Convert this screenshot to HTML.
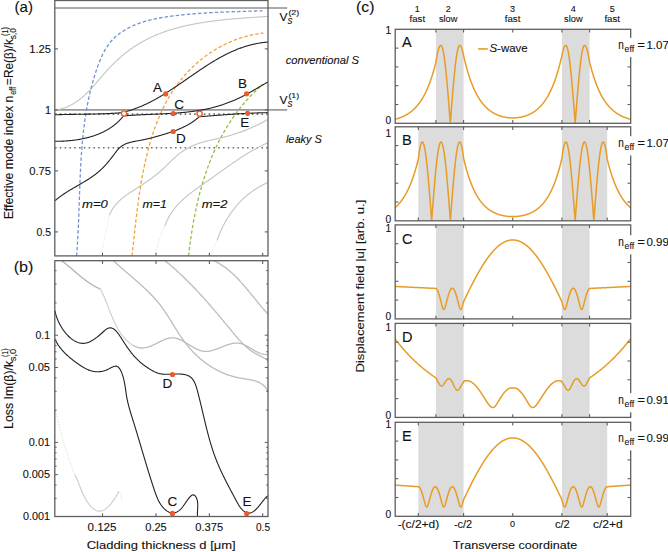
<!DOCTYPE html><html><head><meta charset="utf-8"><style>html,body{margin:0;padding:0;background:#fff;}svg{display:block;font-family:"Liberation Sans",sans-serif;}</style></head><body><svg width="668" height="552" viewBox="0 0 668 552"><rect width="668" height="552" fill="#fff"/><line x1="54.8" y1="7.9" x2="287.2" y2="7.9" stroke="#8e8e8e" stroke-width="1.5" />
<line x1="54.8" y1="109.9" x2="287.2" y2="109.9" stroke="#9a9a9a" stroke-width="1.6" />
<line x1="55" y1="114.1" x2="268" y2="114.1" stroke="#707070" stroke-width="1.6" stroke-dasharray="1.6 3.2" />
<line x1="55" y1="147.7" x2="268" y2="147.7" stroke="#707070" stroke-width="1.6" stroke-dasharray="1.6 3.2" />
<path d="M54.8 110 L55.57 110.03 L56.33 109.91 L57.08 109.78 L57.82 109.64 L58.55 109.49 L59.27 109.34 L59.99 109.17 L60.7 108.99 L61.41 108.8 L62.1 108.61 L62.79 108.4 L63.48 108.18 L64.15 107.96 L64.82 107.73 L65.49 107.48 L66.14 107.23 L66.79 106.97 L67.44 106.7 L68.08 106.43 L68.71 106.14 L69.34 105.85 L69.96 105.55 L70.57 105.24 L71.18 104.93 L71.79 104.6 L72.39 104.27 L72.98 103.93 L73.57 103.59 L74.15 103.24 L74.73 102.88 L75.3 102.51 L75.87 102.14 L76.44 101.76 L77 101.38 L77.55 100.98 L78.1 100.59 L78.65 100.18 L79.19 99.77 L79.73 99.36 L80.27 98.94 L80.8 98.51 L81.32 98.08 L81.85 97.64 L82.37 97.2 L82.88 96.75 L83.4 96.3 L83.91 95.85 L84.41 95.39 L84.92 94.92 L85.42 94.45 L85.92 93.98 L86.41 93.5 L86.9 93.02 L87.39 92.53 L87.88 92.04 L88.37 91.55 L88.85 91.06 L89.33 90.56 L89.81 90.05 L90.29 89.55 L90.76 89.04 L91.24 88.53 L91.71 88.02 L92.18 87.5 L92.65 86.98 L93.12 86.46 L93.58 85.94 L94.05 85.42 L94.51 84.89 L94.97 84.36 L95.44 83.83 L95.9 83.3 L96.36 82.77 L96.82 82.24 L97.28 81.7 L97.74 81.17 L98.2 80.63 L98.66 80.1 L99.12 79.56 L99.58 79.02 L100.04 78.48 L100.5 77.95 L100.96 77.41 L101.42 76.87 L101.88 76.33 L102.35 75.79 L102.81 75.26 L103.27 74.72 L103.74 74.19 L104.2 73.65 L104.67 73.12 L105.14 72.59 L105.61 72.06 L106.08 71.53 L106.55 71 L107.03 70.47 L107.51 69.95 L107.98 69.43 L108.46 68.91 L108.95 68.39 L109.43 67.87 L109.92 67.36 L110.41 66.85 L110.9 66.34 L111.39 65.83 L111.89 65.33 L112.38 64.83 L112.88 64.33 L113.38 63.83 L113.89 63.33 L114.39 62.84 L114.9 62.35 L115.41 61.86 L115.92 61.38 L116.43 60.9 L116.95 60.42 L117.47 59.94 L117.99 59.46 L118.51 58.99 L119.03 58.52 L119.56 58.06 L120.09 57.59 L120.62 57.13 L121.15 56.67 L121.68 56.22 L122.22 55.76 L122.76 55.31 L123.3 54.86 L123.84 54.42 L124.38 53.98 L124.93 53.54 L125.47 53.1 L126.02 52.67 L126.58 52.24 L127.13 51.81 L127.69 51.39 L128.24 50.97 L128.8 50.55 L129.36 50.13 L129.93 49.72 L130.49 49.31 L131.06 48.91 L131.63 48.5 L132.2 48.1 L132.77 47.71 L133.35 47.32 L133.93 46.93 L134.51 46.54 L135.09 46.16 L135.67 45.78 L136.26 45.4 L136.84 45.03 L137.43 44.66 L138.02 44.29 L138.62 43.93 L139.21 43.57 L139.81 43.21 L140.41 42.86 L141.01 42.51 L141.61 42.16 L142.21 41.82 L142.82 41.48 L143.43 41.15 L144.04 40.81 L144.65 40.49 L145.26 40.16 L145.88 39.84 L146.49 39.52 L147.11 39.2 L147.73 38.89 L148.35 38.58 L148.98 38.28 L149.6 37.98 L150.23 37.68 L150.86 37.38 L151.49 37.09 L152.12 36.8 L152.75 36.51 L153.39 36.23 L154.02 35.95 L154.66 35.67 L155.3 35.39 L155.94 35.12 L156.58 34.85 L157.23 34.59 L157.87 34.32 L158.52 34.06 L159.17 33.81 L159.82 33.55 L160.47 33.3 L161.12 33.05 L161.78 32.81 L162.43 32.57 L163.09 32.33 L163.75 32.09 L164.41 31.85 L165.07 31.62 L165.73 31.39 L166.39 31.17 L167.05 30.94 L167.72 30.72 L168.39 30.5 L169.05 30.29 L169.72 30.08 L170.39 29.87 L171.06 29.66 L171.73 29.45 L172.41 29.25 L173.08 29.05 L173.76 28.85 L174.43 28.65 L175.11 28.46 L175.79 28.27 L176.47 28.08 L177.15 27.9 L177.83 27.71 L178.51 27.53 L179.2 27.35 L179.88 27.18 L180.56 27 L181.25 26.83 L181.94 26.66 L182.62 26.49 L183.31 26.33 L184 26.16 L184.69 26 L185.38 25.84 L186.07 25.68 L186.77 25.53 L187.46 25.38 L188.15 25.23 L188.85 25.08 L189.54 24.93 L190.24 24.78 L190.93 24.64 L191.63 24.5 L192.33 24.36 L193.03 24.22 L193.72 24.09 L194.42 23.96 L195.12 23.82 L195.82 23.7 L196.52 23.57 L197.23 23.44 L197.93 23.32 L198.63 23.19 L199.33 23.07 L200.04 22.95 L200.74 22.84 L201.44 22.72 L202.15 22.61 L202.85 22.49 L203.56 22.38 L204.26 22.27 L204.97 22.17 L205.67 22.06 L206.38 21.96 L207.09 21.85 L207.79 21.75 L208.5 21.65 L209.21 21.55 L209.91 21.46 L210.62 21.36 L211.33 21.27 L212.03 21.17 L212.74 21.08 L213.45 20.99 L214.16 20.9 L214.87 20.81 L215.57 20.73 L216.28 20.64 L216.99 20.56 L217.7 20.47 L218.41 20.39 L219.12 20.31 L219.82 20.23 L220.53 20.15 L221.24 20.08 L221.95 20 L222.65 19.93 L223.36 19.85 L224.07 19.78 L224.78 19.71 L225.48 19.64 L226.19 19.57 L226.9 19.5 L227.6 19.43 L228.31 19.36 L229.02 19.3 L229.72 19.23 L230.43 19.17 L231.13 19.1 L231.84 19.04 L232.54 18.98 L233.25 18.92 L233.95 18.86 L234.65 18.8 L235.36 18.74 L236.06 18.68 L236.76 18.62 L237.46 18.57 L238.16 18.51 L238.86 18.46 L239.56 18.4 L240.26 18.35 L240.96 18.29 L241.66 18.24 L242.36 18.19 L243.06 18.13 L243.75 18.08 L244.45 18.03 L245.14 17.98 L245.84 17.93 L246.53 17.88 L247.23 17.83 L247.92 17.78 L248.61 17.73 L249.3 17.68 L249.99 17.63 L250.68 17.58 L251.37 17.54 L252.06 17.49 L252.75 17.44 L253.43 17.39 L254.12 17.35 L254.8 17.3 L255.49 17.25 L256.17 17.21 L256.85 17.16 L257.53 17.11 L258.21 17.07 L258.89 17.02 L259.57 16.97 L260.25 16.93 L260.92 16.88 L261.6 16.83 L262.27 16.79 L262.94 16.74 L263.62 16.69 L264.29 16.65 L264.96 16.6 L265.62 16.55 L266.29 16.51 L266.96 16.46 L268 16.7" fill="none" stroke="#c6c6c6" stroke-width="1.15" stroke-linejoin="round" />
<path d="M100.6 255.9 L100.76 255.2 L100.93 254.49 L101.09 253.79 L101.25 253.09 L101.41 252.38 L101.57 251.68 L101.73 250.98 L101.89 250.27 L102.05 249.57 L102.21 248.86 L102.36 248.16 L102.52 247.46 L102.68 246.75 L102.83 246.05 L102.99 245.34 L103.14 244.64 L103.3 243.93 L103.45 243.23 L103.6 242.52 L103.76 241.82 L103.91 241.11 L104.06 240.41 L104.22 239.7 L104.37 238.99 L104.52 238.29 L104.67 237.58 L104.82 236.88 L104.97 236.17 L105.12 235.47 L105.27 234.76 L105.43 234.05 L105.58 233.35 L105.73 232.64 L105.88 231.94 L106.03 231.23 L106.18 230.53 L106.33 229.82 L106.48 229.11 L106.63 228.41 L106.78 227.7 L106.93 227 L107.08 226.29 L107.23 225.58 L107.38 224.88 L107.53 224.17 L107.68 223.47 L107.83 222.76 L107.98 222.05 L108.13 221.35 L108.28 220.64 L108.43 219.94 L108.58 219.23 L108.74 218.53 L108.89 217.82 L109.04 217.12 L109.19 216.41 L109.35 215.71 L109.5 215" fill="none" stroke="#d4d4d4" stroke-width="0.9" stroke-dasharray="0.9 1.8" stroke-linejoin="round" />
<path d="M109.5 215 L109.73 214.4 L110.03 213.72 L110.33 213.04 L110.65 212.38 L110.98 211.72 L111.32 211.08 L111.67 210.45 L112.04 209.83 L112.41 209.21 L112.79 208.61 L113.18 208.02 L113.58 207.44 L113.99 206.86 L114.41 206.3 L114.84 205.75 L115.27 205.2 L115.72 204.66 L116.17 204.13 L116.63 203.61 L117.1 203.09 L117.58 202.59 L118.06 202.09 L118.55 201.6 L119.05 201.11 L119.55 200.63 L120.06 200.16 L120.57 199.7 L121.09 199.24 L121.62 198.79 L122.15 198.34 L122.69 197.9 L123.23 197.46 L123.78 197.03 L124.33 196.6 L124.88 196.18 L125.44 195.77 L126.01 195.35 L126.58 194.94 L127.15 194.54 L127.72 194.14 L128.3 193.74 L128.88 193.34 L129.46 192.95 L130.04 192.56 L130.63 192.17 L131.22 191.79 L131.81 191.41 L132.4 191.02 L133 190.64 L133.59 190.27 L134.19 189.89 L134.79 189.51 L135.39 189.14 L135.98 188.76 L136.58 188.38 L137.18 188.01 L137.78 187.63 L138.38 187.26 L138.97 186.88 L139.57 186.5 L140.16 186.12 L140.76 185.74 L141.35 185.36 L141.94 184.98 L142.53 184.59 L143.12 184.2 L143.71 183.82 L144.29 183.43 L144.87 183.03 L145.46 182.64 L146.04 182.24 L146.62 181.85 L147.19 181.45 L147.77 181.05 L148.34 180.64 L148.92 180.24 L149.49 179.83 L150.06 179.42 L150.62 179.01 L151.19 178.59 L151.75 178.17 L152.31 177.76 L152.87 177.33 L153.43 176.91 L153.99 176.48 L154.54 176.05 L155.1 175.62 L155.65 175.19 L156.2 174.75 L156.74 174.31 L157.29 173.87 L157.83 173.43 L158.37 172.98 L158.91 172.53 L159.44 172.07 L159.98 171.62 L160.51 171.16 L161.04 170.69 L161.57 170.23 L162.09 169.76 L162.62 169.29 L163.14 168.81 L163.66 168.33 L164.17 167.85 L164.69 167.37 L165.2 166.88 L165.71 166.39 L166.22 165.89 L166.72 165.4 L167.23 164.91 L167.74 164.41 L168.24 163.91 L168.74 163.41 L169.25 162.92 L169.75 162.42 L170.25 161.92 L170.76 161.43 L171.26 160.93 L171.77 160.44 L172.28 159.95 L172.78 159.46 L173.29 158.97 L173.8 158.49 L174.31 158.01 L174.83 157.54 L175.35 157.07 L175.87 156.6 L176.39 156.14 L176.91 155.68 L177.44 155.23 L177.97 154.78 L178.51 154.34 L179.04 153.91 L179.59 153.48 L180.13 153.07 L180.68 152.65 L181.24 152.25 L181.8 151.85 L182.36 151.46 L182.93 151.08 L183.5 150.7 L184.08 150.33 L184.66 149.97 L185.24 149.62 L185.83 149.27 L186.42 148.93 L187.01 148.59 L187.61 148.26 L188.21 147.94 L188.82 147.62 L189.43 147.31 L190.04 147.01 L190.65 146.71 L191.27 146.42 L191.9 146.13 L192.52 145.85 L193.15 145.58 L193.78 145.31 L194.42 145.05 L195.06 144.79 L195.7 144.54 L196.34 144.3 L196.99 144.06 L197.64 143.82 L198.29 143.59 L198.95 143.37 L199.61 143.15 L200.27 142.93 L200.93 142.72 L201.6 142.52 L202.27 142.32 L202.94 142.13 L203.62 141.94 L204.29 141.75 L204.97 141.57 L205.65 141.39 L206.33 141.22 L207.02 141.05 L207.7 140.88 L208.39 140.72 L209.08 140.55 L209.77 140.39 L210.46 140.24 L211.15 140.08 L211.85 139.93 L212.54 139.77 L213.24 139.62 L213.93 139.47 L214.63 139.32 L215.32 139.16 L216.02 139.01 L216.71 138.86 L217.41 138.71 L218.1 138.55 L218.8 138.39 L219.49 138.24 L220.18 138.08 L220.87 137.91 L221.56 137.75 L222.25 137.58 L222.94 137.41 L223.63 137.24 L224.32 137.07 L225 136.89 L225.69 136.71 L226.37 136.53 L227.05 136.34 L227.73 136.15 L228.41 135.96 L229.09 135.77 L229.77 135.57 L230.45 135.38 L231.12 135.18 L231.8 134.97 L232.47 134.77 L233.14 134.56 L233.82 134.35 L234.49 134.14 L235.16 133.92 L235.83 133.7 L236.49 133.48 L237.16 133.26 L237.83 133.03 L238.49 132.8 L239.15 132.57 L239.82 132.34 L240.48 132.1 L241.14 131.86 L241.8 131.62 L242.45 131.37 L243.11 131.13 L243.77 130.88 L244.42 130.63 L245.08 130.37 L245.73 130.11 L246.38 129.85 L247.03 129.59 L247.68 129.32 L248.33 129.06 L248.98 128.78 L249.62 128.51 L250.27 128.23 L250.91 127.96 L251.56 127.67 L252.2 127.39 L252.84 127.1 L253.48 126.81 L254.12 126.52 L254.76 126.23 L255.4 125.93 L256.03 125.63 L256.67 125.33 L257.3 125.02 L257.93 124.71 L258.57 124.4 L259.2 124.09 L259.83 123.77 L260.46 123.45 L261.08 123.13 L261.71 122.8 L262.33 122.48 L262.96 122.15 L263.58 121.81 L264.21 121.48 L264.83 121.14 L265.45 120.8 L266.07 120.46 L266.68 120.11 L267.3 119.76 L268 119.6" fill="none" stroke="#c6c6c6" stroke-width="1.15" stroke-linejoin="round" />
<path d="M155.4 255.9 L155.54 255.19 L155.69 254.47 L155.84 253.76 L156 253.05 L156.15 252.34 L156.32 251.63 L156.48 250.92 L156.65 250.21 L156.82 249.5 L156.99 248.8 L157.16 248.09 L157.34 247.38 L157.53 246.68 L157.71 245.98 L157.9 245.27 L158.09 244.57 L158.29 243.87 L158.48 243.17 L158.69 242.47 L158.89 241.77 L159.1 241.07 L159.31 240.37 L159.52 239.68 L159.74 238.98 L159.96 238.29 L160.18 237.6 L160.41 236.9 L160.64 236.21 L160.88 235.52 L161.11 234.83 L161.35 234.15 L161.6 233.46 L161.84 232.78 L162.09 232.09 L162.35 231.41 L162.6 230.73 L162.86 230.05 L163.13 229.37 L163.39 228.69 L163.66 228.02 L163.94 227.34 L164.22 226.67 L164.5 226" fill="none" stroke="#d4d4d4" stroke-width="0.9" stroke-dasharray="0.9 1.8" stroke-linejoin="round" />
<path d="M164.5 226 L164.99 225.6 L165.25 224.89 L165.52 224.18 L165.79 223.48 L166.08 222.79 L166.37 222.1 L166.67 221.42 L166.97 220.75 L167.28 220.08 L167.6 219.42 L167.93 218.77 L168.26 218.13 L168.6 217.49 L168.95 216.86 L169.3 216.23 L169.66 215.61 L170.02 215 L170.39 214.39 L170.77 213.79 L171.16 213.2 L171.55 212.61 L171.94 212.02 L172.34 211.44 L172.75 210.87 L173.16 210.31 L173.58 209.74 L174 209.19 L174.43 208.64 L174.87 208.09 L175.31 207.55 L175.75 207.02 L176.2 206.48 L176.66 205.96 L177.12 205.44 L177.58 204.92 L178.05 204.41 L178.52 203.9 L179 203.4 L179.48 202.9 L179.97 202.4 L180.46 201.91 L180.95 201.42 L181.45 200.94 L181.95 200.46 L182.46 199.98 L182.97 199.51 L183.48 199.04 L184 198.57 L184.52 198.11 L185.04 197.65 L185.57 197.2 L186.1 196.74 L186.63 196.29 L187.17 195.85 L187.71 195.4 L188.25 194.96 L188.8 194.52 L189.34 194.08 L189.89 193.65 L190.45 193.22 L191 192.79 L191.56 192.36 L192.12 191.93 L192.68 191.51 L193.24 191.09 L193.81 190.67 L194.37 190.25 L194.94 189.83 L195.51 189.42 L196.08 189 L196.66 188.59 L197.23 188.18 L197.81 187.77 L198.38 187.36 L198.96 186.95 L199.54 186.54 L200.12 186.14 L200.7 185.73 L201.28 185.32 L201.87 184.92 L202.45 184.51 L203.03 184.11 L203.62 183.71 L204.2 183.3 L204.78 182.9 L205.37 182.49 L205.95 182.09 L206.54 181.68 L207.12 181.28 L207.7 180.87 L208.29 180.47 L208.87 180.06 L209.45 179.66 L210.03 179.25 L210.61 178.84 L211.2 178.43 L211.78 178.02 L212.36 177.61 L212.93 177.2 L213.51 176.79 L214.09 176.38 L214.67 175.97 L215.25 175.55 L215.83 175.14 L216.4 174.73 L216.98 174.32 L217.56 173.9 L218.13 173.49 L218.71 173.08 L219.29 172.66 L219.86 172.25 L220.44 171.84 L221.01 171.42 L221.59 171.01 L222.17 170.6 L222.74 170.19 L223.32 169.77 L223.89 169.36 L224.47 168.95 L225.05 168.54 L225.62 168.13 L226.2 167.72 L226.78 167.31 L227.35 166.9 L227.93 166.49 L228.51 166.08 L229.08 165.67 L229.66 165.27 L230.24 164.86 L230.82 164.46 L231.4 164.05 L231.98 163.65 L232.56 163.24 L233.14 162.84 L233.72 162.44 L234.3 162.04 L234.88 161.64 L235.46 161.25 L236.04 160.85 L236.63 160.45 L237.21 160.06 L237.79 159.67 L238.38 159.28 L238.96 158.89 L239.55 158.5 L240.14 158.11 L240.73 157.72 L241.32 157.34 L241.9 156.96 L242.5 156.58 L243.09 156.2 L243.68 155.82 L244.27 155.44 L244.87 155.07 L245.46 154.7 L246.06 154.33 L246.65 153.96 L247.25 153.59 L247.85 153.23 L248.45 152.86 L249.05 152.5 L249.65 152.14 L250.26 151.79 L250.86 151.43 L251.47 151.08 L252.07 150.73 L252.68 150.38 L253.29 150.04 L253.9 149.69 L254.51 149.35 L255.13 149.02 L255.74 148.68 L256.36 148.35 L256.98 148.02 L257.6 147.69 L258.22 147.36 L258.84 147.04 L259.46 146.72 L260.09 146.4 L260.71 146.09 L261.34 145.78 L261.97 145.47 L262.6 145.17 L263.24 144.86 L263.87 144.56 L264.51 144.27 L265.15 143.97 L265.79 143.68 L266.43 143.4 L267.07 143.11 L268 143.4" fill="none" stroke="#c6c6c6" stroke-width="1.15" stroke-linejoin="round" />
<path d="M210.5 255.9 L210.73 255.19 L210.97 254.48 L211.22 253.78 L211.48 253.08 L211.75 252.38 L212.03 251.68 L212.31 250.99 L212.6 250.3 L212.89 249.62 L213.19 248.93 L213.49 248.25 L213.79 247.56 L214.09 246.88 L214.39 246.2 L214.69 245.51 L215 244.83 L215.29 244.15 L215.59 243.46 L215.88 242.77 L216.17 242.08 L216.45 241.39 L216.73 240.7 L217 240" fill="none" stroke="#d4d4d4" stroke-width="0.9" stroke-dasharray="0.9 1.8" stroke-linejoin="round" />
<path d="M217 240 L217.44 239.45 L217.68 238.78 L217.92 238.1 L218.16 237.44 L218.41 236.77 L218.66 236.1 L218.92 235.44 L219.18 234.78 L219.44 234.12 L219.71 233.46 L219.99 232.8 L220.26 232.15 L220.54 231.49 L220.83 230.84 L221.12 230.2 L221.42 229.55 L221.71 228.9 L222.02 228.26 L222.32 227.62 L222.63 226.98 L222.95 226.35 L223.27 225.72 L223.59 225.08 L223.92 224.46 L224.25 223.83 L224.59 223.21 L224.93 222.58 L225.27 221.96 L225.62 221.35 L225.97 220.73 L226.33 220.12 L226.69 219.51 L227.05 218.91 L227.42 218.31 L227.79 217.71 L228.17 217.11 L228.55 216.51 L228.93 215.92 L229.32 215.33 L229.71 214.74 L230.11 214.16 L230.51 213.58 L230.91 213 L231.32 212.43 L231.73 211.86 L232.15 211.29 L232.57 210.72 L232.99 210.16 L233.42 209.6 L233.85 209.05 L234.29 208.5 L234.73 207.95 L235.17 207.4 L235.62 206.86 L236.07 206.32 L236.53 205.79 L236.99 205.25 L237.45 204.73 L237.92 204.2 L238.39 203.68 L238.87 203.16 L239.35 202.65 L239.83 202.14 L240.32 201.63 L240.81 201.13 L241.3 200.63 L241.8 200.14 L242.3 199.65 L242.81 199.16 L243.32 198.68 L243.83 198.2 L244.35 197.72 L244.87 197.25 L245.4 196.78 L245.93 196.32 L246.46 195.86 L247 195.41 L247.54 194.96 L248.08 194.51 L248.63 194.07 L249.18 193.63 L249.74 193.2 L250.3 192.77 L250.86 192.35 L251.43 191.93 L252 191.51 L252.57 191.1 L253.15 190.69 L253.73 190.29 L254.32 189.9 L254.91 189.5 L255.5 189.12 L256.1 188.73 L256.7 188.35 L257.3 187.98 L257.91 187.61 L258.52 187.25 L259.13 186.89 L259.75 186.54 L260.37 186.19 L261 185.84 L261.63 185.51 L262.26 185.17 L262.9 184.84 L263.54 184.52 L264.18 184.2 L264.83 183.89 L265.48 183.58 L266.14 183.28 L266.8 182.98 L267.46 182.69 L268 182.3" fill="none" stroke="#c6c6c6" stroke-width="1.15" stroke-linejoin="round" />
<path d="M77 255.9 L76.59 255.06 L76.65 254.37 L76.71 253.69 L76.76 253 L76.82 252.31 L76.87 251.63 L76.92 250.94 L76.98 250.25 L77.03 249.57 L77.08 248.88 L77.13 248.19 L77.18 247.5 L77.23 246.81 L77.27 246.12 L77.32 245.43 L77.37 244.74 L77.41 244.05 L77.46 243.36 L77.5 242.67 L77.54 241.98 L77.59 241.29 L77.63 240.6 L77.67 239.91 L77.71 239.21 L77.75 238.52 L77.79 237.83 L77.83 237.14 L77.87 236.44 L77.9 235.75 L77.94 235.05 L77.98 234.36 L78.01 233.66 L78.05 232.97 L78.08 232.27 L78.12 231.58 L78.15 230.88 L78.19 230.19 L78.22 229.49 L78.25 228.79 L78.28 228.1 L78.32 227.4 L78.35 226.7 L78.38 226.01 L78.41 225.31 L78.44 224.61 L78.47 223.91 L78.5 223.21 L78.53 222.51 L78.56 221.82 L78.58 221.12 L78.61 220.42 L78.64 219.72 L78.67 219.02 L78.69 218.32 L78.72 217.62 L78.75 216.92 L78.77 216.22 L78.8 215.52 L78.83 214.81 L78.85 214.11 L78.88 213.41 L78.9 212.71 L78.93 212.01 L78.95 211.31 L78.98 210.61 L79 209.9 L79.02 209.2 L79.05 208.5 L79.07 207.8 L79.1 207.09 L79.12 206.39 L79.14 205.69 L79.17 204.98 L79.19 204.28 L79.22 203.58 L79.24 202.87 L79.26 202.17 L79.29 201.47 L79.31 200.76 L79.33 200.06 L79.36 199.36 L79.38 198.65 L79.4 197.95 L79.43 197.24 L79.45 196.54 L79.47 195.83 L79.5 195.13 L79.52 194.42 L79.55 193.72 L79.57 193.01 L79.59 192.31 L79.62 191.6 L79.64 190.9 L79.67 190.19 L79.69 189.49 L79.72 188.78 L79.74 188.08 L79.77 187.37 L79.79 186.67 L79.82 185.96 L79.85 185.26 L79.87 184.55 L79.9 183.84 L79.93 183.14 L79.95 182.43 L79.98 181.73 L80.01 181.02 L80.04 180.32 L80.07 179.61 L80.1 178.9 L80.13 178.2 L80.15 177.49 L80.18 176.79 L80.22 176.08 L80.25 175.37 L80.28 174.67 L80.31 173.96 L80.34 173.26 L80.37 172.55 L80.41 171.85 L80.44 171.14 L80.47 170.43 L80.51 169.73 L80.54 169.02 L80.58 168.32 L80.61 167.61 L80.65 166.91 L80.69 166.2 L80.73 165.5 L80.76 164.79 L80.8 164.09 L80.84 163.38 L80.88 162.67 L80.92 161.97 L80.96 161.26 L81.01 160.56 L81.05 159.86 L81.09 159.15 L81.14 158.45 L81.18 157.74 L81.23 157.04 L81.27 156.33 L81.32 155.63 L81.37 154.92 L81.41 154.22 L81.46 153.52 L81.51 152.81 L81.56 152.11 L81.61 151.4 L81.67 150.7 L81.72 150 L81.77 149.29 L81.83 148.59 L81.88 147.89 L81.94 147.19 L82 146.48 L82.05 145.78 L82.11 145.08 L82.17 144.38 L82.23 143.67 L82.29 142.97 L82.36 142.27 L82.42 141.57 L82.48 140.87 L82.55 140.17 L82.62 139.47 L82.68 138.76 L82.75 138.06 L82.82 137.36 L82.89 136.66 L82.96 135.96 L83.04 135.26 L83.11 134.56 L83.18 133.86 L83.26 133.16 L83.34 132.47 L83.41 131.77 L83.49 131.07 L83.57 130.37 L83.66 129.67 L83.74 128.97 L83.82 128.28 L83.91 127.58 L83.99 126.88 L84.08 126.18 L84.17 125.49 L84.26 124.79 L84.35 124.1 L84.44 123.4 L84.53 122.7 L84.63 122.01 L84.72 121.31 L84.82 120.62 L84.92 119.92 L85.02 119.23 L85.12 118.53 L85.22 117.84 L85.33 117.15 L85.43 116.45 L85.54 115.76 L85.65 115.07 L85.76 114.38 L85.87 113.68 L85.98 112.99 L86.09 112.3 L86.21 111.61 L86.32 110.92 L86.44 110.23 L86.56 109.54 L86.68 108.85 L86.8 108.16 L86.93 107.47 L87.05 106.78 L87.18 106.09 L87.31 105.41 L87.44 104.72 L87.57 104.03 L87.7 103.34 L87.84 102.66 L87.97 101.97 L88.11 101.28 L88.25 100.6 L88.39 99.91 L88.54 99.23 L88.68 98.54 L88.83 97.86 L88.97 97.18 L89.12 96.49 L89.27 95.81 L89.43 95.13 L89.58 94.45 L89.74 93.76 L89.9 93.08 L90.06 92.4 L90.22 91.72 L90.38 91.04 L90.55 90.36 L90.71 89.68 L90.88 89 L91.05 88.33 L91.22 87.65 L91.4 86.97 L91.57 86.29 L91.75 85.62 L91.93 84.94 L92.11 84.27 L92.3 83.59 L92.48 82.92 L92.67 82.24 L92.86 81.57 L93.05 80.89 L93.25 80.22 L93.44 79.55 L93.64 78.88 L93.84 78.2 L94.04 77.53 L94.24 76.86 L94.45 76.19 L94.65 75.52 L94.86 74.85 L95.08 74.19 L95.29 73.52 L95.5 72.85 L95.72 72.18 L95.94 71.52 L96.16 70.85 L96.39 70.19 L96.61 69.52 L96.84 68.86 L97.07 68.19 L97.31 67.53 L97.54 66.87 L97.78 66.21 L98.02 65.54 L98.26 64.88 L98.51 64.23 L98.75 63.57 L99.01 62.91 L99.26 62.26 L99.52 61.6 L99.78 60.95 L100.04 60.3 L100.31 59.66 L100.58 59.01 L100.86 58.37 L101.14 57.73 L101.43 57.09 L101.71 56.46 L102.01 55.82 L102.3 55.19 L102.61 54.57 L102.91 53.94 L103.22 53.32 L103.54 52.71 L103.86 52.09 L104.19 51.48 L104.52 50.88 L104.86 50.28 L105.2 49.68 L105.55 49.09 L105.91 48.5 L106.27 47.91 L106.64 47.33 L107.01 46.75 L107.39 46.18 L107.78 45.62 L108.17 45.05 L108.57 44.5 L108.98 43.95 L109.39 43.4 L109.81 42.86 L110.24 42.33 L110.67 41.8 L111.11 41.28 L111.56 40.76 L112.02 40.25 L112.49 39.74 L112.96 39.24 L113.44 38.75 L113.93 38.27 L114.43 37.79 L114.94 37.32 L115.45 36.85 L115.97 36.39 L116.49 35.94 L117.03 35.49 L117.57 35.05 L118.11 34.62 L118.66 34.19 L119.22 33.77 L119.78 33.35 L120.35 32.94 L120.92 32.54 L121.5 32.14 L122.08 31.75 L122.67 31.37 L123.26 30.99 L123.86 30.62 L124.46 30.25 L125.06 29.89 L125.67 29.54 L126.28 29.19 L126.89 28.85 L127.5 28.51 L128.12 28.18 L128.74 27.85 L129.37 27.53 L129.99 27.22 L130.62 26.91 L131.25 26.61 L131.89 26.31 L132.52 26.02 L133.16 25.73 L133.8 25.45 L134.45 25.18 L135.09 24.9 L135.74 24.64 L136.39 24.38 L137.04 24.12 L137.7 23.87 L138.35 23.62 L139.01 23.38 L139.67 23.14 L140.34 22.91 L141 22.68 L141.67 22.46 L142.34 22.24 L143.01 22.02 L143.68 21.81 L144.35 21.61 L145.03 21.41 L145.71 21.21 L146.38 21.01 L147.06 20.82 L147.75 20.64 L148.43 20.45 L149.11 20.27 L149.8 20.1 L150.48 19.93 L151.17 19.76 L151.86 19.59 L152.55 19.43 L153.24 19.28 L153.94 19.12 L154.63 18.97 L155.32 18.82 L156.02 18.68 L156.72 18.53 L157.41 18.4 L158.11 18.26 L158.81 18.13 L159.51 18 L160.21 17.87 L160.91 17.74 L161.61 17.62 L162.31 17.5 L163.01 17.38 L163.72 17.27 L164.42 17.16 L165.12 17.04 L165.82 16.94 L166.53 16.83 L167.23 16.73 L167.94 16.62 L168.64 16.52 L169.34 16.43 L170.05 16.33 L170.75 16.24 L171.46 16.14 L172.16 16.05 L172.86 15.96 L173.57 15.87 L174.27 15.79 L174.97 15.7 L175.67 15.62 L176.38 15.53 L177.08 15.45 L177.78 15.37 L178.48 15.29 L179.18 15.21 L179.88 15.14 L180.58 15.06 L181.28 14.99 L181.98 14.91 L182.68 14.84 L183.38 14.77 L184.07 14.7 L184.77 14.63 L185.47 14.56 L186.17 14.5 L186.86 14.43 L187.56 14.36 L188.25 14.3 L188.95 14.24 L189.65 14.17 L190.34 14.11 L191.04 14.05 L191.73 13.99 L192.43 13.94 L193.12 13.88 L193.81 13.82 L194.51 13.77 L195.2 13.71 L195.9 13.66 L196.59 13.6 L197.28 13.55 L197.98 13.5 L198.67 13.45 L199.36 13.4 L200.05 13.35 L200.75 13.3 L201.44 13.26 L202.13 13.21 L202.82 13.17 L203.52 13.12 L204.21 13.08 L204.9 13.03 L205.59 12.99 L206.29 12.95 L206.98 12.91 L207.67 12.87 L208.36 12.82 L209.05 12.79 L209.75 12.75 L210.44 12.71 L211.13 12.67 L211.82 12.63 L212.52 12.6 L213.21 12.56 L213.9 12.53 L214.59 12.49 L215.29 12.46 L215.98 12.42 L216.67 12.39 L217.36 12.36 L218.06 12.32 L218.75 12.29 L219.44 12.26 L220.14 12.23 L220.83 12.2 L221.52 12.17 L222.22 12.14 L222.91 12.11 L223.61 12.08 L224.3 12.05 L225 12.03 L225.69 12 L226.39 11.97 L227.08 11.94 L227.78 11.92 L228.47 11.89 L229.17 11.86 L229.87 11.84 L230.56 11.81 L231.26 11.79 L231.96 11.76 L232.66 11.74 L233.36 11.71 L234.05 11.69 L234.75 11.66 L235.45 11.64 L236.15 11.62 L236.85 11.59 L237.55 11.57 L238.25 11.54 L238.96 11.52 L239.66 11.5 L240.36 11.47 L241.06 11.45 L241.77 11.43 L242.47 11.41 L243.17 11.38 L243.88 11.36 L244.58 11.34 L245.29 11.31 L245.99 11.29 L246.7 11.27 L247.41 11.25 L248.11 11.22 L248.82 11.2 L249.53 11.18 L250.24 11.15 L250.95 11.13 L251.66 11.11 L252.37 11.08 L253.08 11.06 L253.79 11.04 L254.51 11.01 L255.22 10.99 L255.93 10.96 L256.65 10.94 L257.36 10.91 L258.08 10.89 L258.8 10.87 L259.51 10.84 L260.23 10.81 L260.95 10.79 L261.67 10.76 L262.3 10.8" fill="none" stroke="#7094d0" stroke-width="1.3" stroke-dasharray="3.5 2.1" stroke-linejoin="round" />
<path d="M132.6 255.9 L132.13 254.94 L132.21 254.26 L132.28 253.58 L132.36 252.9 L132.43 252.22 L132.51 251.53 L132.58 250.85 L132.65 250.16 L132.73 249.48 L132.8 248.79 L132.88 248.11 L132.95 247.42 L133.03 246.74 L133.1 246.05 L133.17 245.36 L133.25 244.68 L133.32 243.99 L133.4 243.3 L133.47 242.61 L133.54 241.92 L133.62 241.23 L133.69 240.55 L133.77 239.86 L133.84 239.17 L133.91 238.48 L133.99 237.78 L134.06 237.09 L134.14 236.4 L134.21 235.71 L134.29 235.02 L134.36 234.33 L134.44 233.63 L134.51 232.94 L134.59 232.25 L134.67 231.55 L134.74 230.86 L134.82 230.17 L134.89 229.47 L134.97 228.78 L135.05 228.08 L135.13 227.39 L135.2 226.7 L135.28 226 L135.36 225.3 L135.44 224.61 L135.52 223.91 L135.6 223.22 L135.68 222.52 L135.76 221.83 L135.84 221.13 L135.92 220.43 L136 219.74 L136.08 219.04 L136.16 218.34 L136.24 217.64 L136.33 216.95 L136.41 216.25 L136.49 215.55 L136.58 214.85 L136.66 214.16 L136.75 213.46 L136.83 212.76 L136.92 212.06 L137.01 211.36 L137.09 210.66 L137.18 209.97 L137.27 209.27 L137.36 208.57 L137.45 207.87 L137.54 207.17 L137.63 206.47 L137.72 205.77 L137.81 205.08 L137.9 204.38 L138 203.68 L138.09 202.98 L138.19 202.28 L138.28 201.58 L138.38 200.88 L138.47 200.18 L138.57 199.48 L138.67 198.79 L138.77 198.09 L138.87 197.39 L138.97 196.69 L139.07 195.99 L139.17 195.29 L139.28 194.59 L139.38 193.89 L139.48 193.2 L139.59 192.5 L139.69 191.8 L139.8 191.1 L139.91 190.4 L140.02 189.7 L140.13 189.01 L140.24 188.31 L140.35 187.61 L140.46 186.91 L140.58 186.21 L140.69 185.52 L140.81 184.82 L140.92 184.12 L141.04 183.43 L141.16 182.73 L141.28 182.03 L141.4 181.33 L141.52 180.64 L141.64 179.94 L141.77 179.25 L141.89 178.55 L142.02 177.85 L142.14 177.16 L142.27 176.46 L142.4 175.77 L142.53 175.07 L142.66 174.38 L142.79 173.68 L142.93 172.99 L143.06 172.3 L143.2 171.6 L143.33 170.91 L143.47 170.22 L143.61 169.52 L143.75 168.83 L143.89 168.14 L144.04 167.44 L144.18 166.75 L144.33 166.06 L144.47 165.37 L144.62 164.68 L144.77 163.99 L144.92 163.3 L145.07 162.61 L145.23 161.92 L145.38 161.23 L145.54 160.54 L145.7 159.85 L145.86 159.16 L146.02 158.47 L146.18 157.79 L146.34 157.1 L146.51 156.41 L146.67 155.73 L146.84 155.04 L147.01 154.35 L147.18 153.67 L147.35 152.98 L147.52 152.3 L147.7 151.61 L147.88 150.93 L148.05 150.25 L148.23 149.56 L148.41 148.88 L148.6 148.2 L148.78 147.52 L148.97 146.84 L149.15 146.16 L149.34 145.48 L149.53 144.8 L149.73 144.12 L149.92 143.44 L150.12 142.76 L150.31 142.08 L150.51 141.41 L150.71 140.73 L150.92 140.05 L151.12 139.38 L151.33 138.7 L151.53 138.03 L151.74 137.35 L151.95 136.68 L152.17 136.01 L152.38 135.33 L152.6 134.66 L152.82 133.99 L153.04 133.32 L153.26 132.65 L153.48 131.98 L153.71 131.31 L153.94 130.64 L154.16 129.98 L154.4 129.31 L154.63 128.65 L154.87 127.98 L155.1 127.32 L155.34 126.65 L155.58 125.99 L155.83 125.33 L156.07 124.67 L156.32 124.01 L156.57 123.35 L156.82 122.69 L157.08 122.04 L157.33 121.38 L157.59 120.73 L157.85 120.07 L158.11 119.42 L158.38 118.77 L158.65 118.12 L158.92 117.47 L159.19 116.82 L159.46 116.18 L159.74 115.53 L160.02 114.88 L160.3 114.24 L160.58 113.6 L160.86 112.96 L161.15 112.32 L161.44 111.68 L161.74 111.04 L162.03 110.41 L162.33 109.77 L162.63 109.14 L162.93 108.51 L163.23 107.87 L163.54 107.25 L163.85 106.62 L164.16 105.99 L164.48 105.37 L164.8 104.74 L165.12 104.12 L165.44 103.5 L165.76 102.88 L166.09 102.26 L166.42 101.65 L166.76 101.03 L167.09 100.42 L167.43 99.81 L167.77 99.2 L168.12 98.59 L168.46 97.99 L168.81 97.38 L169.16 96.78 L169.52 96.18 L169.88 95.58 L170.24 94.98 L170.6 94.39 L170.97 93.79 L171.34 93.2 L171.71 92.61 L172.08 92.02 L172.46 91.43 L172.84 90.85 L173.22 90.27 L173.61 89.69 L174 89.11 L174.39 88.53 L174.79 87.96 L175.19 87.38 L175.59 86.81 L175.99 86.24 L176.4 85.68 L176.81 85.11 L177.22 84.55 L177.64 83.99 L178.06 83.43 L178.48 82.87 L178.9 82.32 L179.33 81.77 L179.76 81.22 L180.19 80.67 L180.63 80.12 L181.06 79.58 L181.5 79.04 L181.95 78.5 L182.39 77.96 L182.84 77.43 L183.3 76.9 L183.75 76.37 L184.21 75.84 L184.67 75.32 L185.13 74.79 L185.6 74.27 L186.06 73.75 L186.53 73.24 L187.01 72.73 L187.48 72.22 L187.96 71.71 L188.44 71.2 L188.93 70.7 L189.41 70.2 L189.9 69.7 L190.39 69.2 L190.89 68.71 L191.38 68.22 L191.88 67.73 L192.39 67.25 L192.89 66.76 L193.4 66.28 L193.91 65.81 L194.42 65.33 L194.93 64.86 L195.45 64.39 L195.97 63.92 L196.49 63.46 L197.01 63 L197.54 62.54 L198.07 62.08 L198.6 61.63 L199.14 61.18 L199.67 60.73 L200.21 60.29 L200.75 59.85 L201.3 59.41 L201.84 58.97 L202.39 58.54 L202.94 58.11 L203.49 57.68 L204.05 57.26 L204.61 56.84 L205.17 56.42 L205.73 56 L206.29 55.59 L206.86 55.18 L207.43 54.77 L208 54.37 L208.57 53.97 L209.15 53.57 L209.73 53.18 L210.31 52.79 L210.89 52.4 L211.48 52.02 L212.06 51.64 L212.65 51.26 L213.24 50.88 L213.84 50.51 L214.43 50.14 L215.03 49.78 L215.63 49.42 L216.23 49.06 L216.84 48.7 L217.44 48.35 L218.05 48 L218.66 47.66 L219.27 47.31 L219.89 46.98 L220.5 46.64 L221.12 46.31 L221.74 45.98 L222.37 45.66 L222.99 45.33 L223.62 45.02 L224.25 44.7 L224.88 44.39 L225.51 44.08 L226.14 43.78 L226.78 43.48 L227.42 43.18 L228.06 42.89 L228.7 42.6 L229.35 42.31 L229.99 42.03 L230.64 41.75 L231.29 41.48 L231.94 41.2 L232.6 40.94 L233.25 40.67 L233.91 40.41 L234.57 40.16 L235.23 39.9 L235.89 39.65 L236.56 39.41 L237.23 39.17 L237.9 38.93 L238.57 38.7 L239.24 38.47 L239.91 38.24 L240.59 38.02 L241.26 37.8 L241.94 37.59 L242.62 37.38 L243.31 37.17 L243.99 36.97 L244.68 36.77 L245.36 36.57 L246.05 36.38 L246.74 36.2 L247.44 36.01 L248.13 35.84 L248.83 35.66 L249.52 35.49 L250.22 35.33 L250.92 35.16 L251.63 35.01 L252.33 34.85 L253.04 34.7 L253.74 34.56 L254.45 34.42 L255.16 34.28 L255.87 34.15 L256.59 34.02 L257.3 33.89 L258.02 33.77 L258.74 33.66 L259.46 33.55 L260.18 33.44 L260.9 33.34 L261.62 33.24 L262.35 33.15 L263.08 33.06 L263.4 32.9" fill="none" stroke="#efa53c" stroke-width="1.3" stroke-dasharray="3.5 2.1" stroke-linejoin="round" />
<path d="M188.3 255.9 L188.65 255.21 L188.73 254.52 L188.81 253.83 L188.89 253.14 L188.97 252.45 L189.05 251.75 L189.13 251.06 L189.21 250.37 L189.3 249.68 L189.38 248.98 L189.47 248.29 L189.56 247.59 L189.65 246.9 L189.73 246.21 L189.82 245.51 L189.91 244.82 L190.01 244.12 L190.1 243.43 L190.19 242.73 L190.29 242.04 L190.38 241.34 L190.48 240.65 L190.57 239.95 L190.67 239.26 L190.77 238.56 L190.87 237.87 L190.97 237.17 L191.08 236.48 L191.18 235.78 L191.28 235.09 L191.39 234.39 L191.49 233.7 L191.6 233 L191.71 232.3 L191.82 231.61 L191.93 230.91 L192.04 230.22 L192.15 229.52 L192.27 228.83 L192.38 228.13 L192.5 227.44 L192.61 226.74 L192.73 226.05 L192.85 225.35 L192.97 224.66 L193.09 223.96 L193.21 223.27 L193.34 222.57 L193.46 221.88 L193.59 221.18 L193.72 220.49 L193.84 219.79 L193.97 219.1 L194.1 218.41 L194.24 217.71 L194.37 217.02 L194.5 216.32 L194.64 215.63 L194.77 214.94 L194.91 214.25 L195.05 213.55 L195.19 212.86 L195.33 212.17 L195.48 211.48 L195.62 210.78 L195.76 210.09 L195.91 209.4 L196.06 208.71 L196.21 208.02 L196.36 207.33 L196.51 206.64 L196.66 205.95 L196.82 205.26 L196.97 204.57 L197.13 203.88 L197.29 203.19 L197.45 202.51 L197.61 201.82 L197.77 201.13 L197.93 200.44 L198.1 199.76 L198.26 199.07 L198.43 198.38 L198.6 197.7 L198.77 197.01 L198.94 196.33 L199.12 195.64 L199.29 194.96 L199.47 194.28 L199.65 193.59 L199.82 192.91 L200 192.23 L200.19 191.55 L200.37 190.86 L200.55 190.18 L200.74 189.5 L200.93 188.82 L201.12 188.14 L201.31 187.47 L201.5 186.79 L201.69 186.11 L201.89 185.43 L202.09 184.75 L202.28 184.08 L202.48 183.4 L202.69 182.73 L202.89 182.05 L203.09 181.38 L203.3 180.71 L203.51 180.03 L203.72 179.36 L203.93 178.69 L204.14 178.02 L204.35 177.35 L204.57 176.68 L204.79 176.01 L205 175.34 L205.22 174.67 L205.45 174.01 L205.67 173.34 L205.9 172.67 L206.12 172.01 L206.35 171.34 L206.58 170.68 L206.81 170.02 L207.05 169.35 L207.28 168.69 L207.52 168.03 L207.76 167.37 L208 166.71 L208.24 166.05 L208.48 165.4 L208.73 164.74 L208.98 164.08 L209.23 163.43 L209.48 162.77 L209.73 162.12 L209.98 161.46 L210.24 160.81 L210.5 160.16 L210.76 159.51 L211.02 158.86 L211.28 158.21 L211.55 157.56 L211.81 156.92 L212.08 156.27 L212.35 155.62 L212.63 154.98 L212.9 154.34 L213.18 153.69 L213.45 153.05 L213.73 152.41 L214.01 151.77 L214.3 151.13 L214.58 150.49 L214.87 149.86 L215.16 149.22 L215.45 148.58 L215.74 147.95 L216.04 147.32 L216.33 146.68 L216.63 146.05 L216.93 145.42 L217.24 144.79 L217.54 144.16 L217.85 143.54 L218.16 142.91 L218.47 142.29 L218.78 141.66 L219.09 141.04 L219.41 140.42 L219.73 139.79 L220.05 139.17 L220.37 138.56 L220.7 137.94 L221.02 137.32 L221.35 136.71 L221.68 136.09 L222.01 135.48 L222.35 134.87 L222.68 134.26 L223.02 133.65 L223.36 133.04 L223.71 132.43 L224.05 131.82 L224.4 131.22 L224.75 130.61 L225.1 130.01 L225.45 129.41 L225.81 128.81 L226.17 128.21 L226.53 127.61 L226.89 127.02 L227.25 126.42 L227.62 125.83 L227.99 125.23 L228.36 124.64 L228.73 124.05 L229.1 123.46 L229.48 122.87 L229.86 122.29 L230.24 121.7 L230.63 121.12 L231.01 120.54 L231.4 119.95 L231.79 119.37 L232.18 118.8 L232.58 118.22 L232.98 117.64 L233.38 117.07 L233.78 116.49 L234.18 115.92 L234.59 115.35 L235 114.78 L235.41 114.22 L235.82 113.65 L236.24 113.09 L236.65 112.52 L237.07 111.96 L237.5 111.4 L237.92 110.84 L238.35 110.28 L238.78 109.73 L239.21 109.17 L239.64 108.62 L240.08 108.07 L240.52 107.52 L240.96 106.97 L241.41 106.42 L241.85 105.88 L242.3 105.33 L242.75 104.79 L243.2 104.25 L243.66 103.71 L244.12 103.17 L244.58 102.64 L245.04 102.1 L245.51 101.57 L245.98 101.04 L246.45 100.51 L246.92 99.98 L247.4 99.45 L247.87 98.93 L248.35 98.41 L248.84 97.88 L249.32 97.36 L249.81 96.85 L250.3 96.33 L250.8 95.81 L251.29 95.3 L251.79 94.79 L252.29 94.28 L252.79 93.77 L253.3 93.26 L253.81 92.76 L254.32 92.26 L254.83 91.75 L255.35 91.25 L255.87 90.76 L256.39 90.26 L256.91 89.77 L257.44 89.27 L257.97 88.78 L258.5 88.29 L259.04 87.81 L259.57 87.32 L260.11 86.84 L260.66 86.36 L261.2 85.88 L261.75 85.4 L262.3 84.92 L262.1 84.1" fill="none" stroke="#93c048" stroke-width="1.3" stroke-dasharray="3.5 2.1" stroke-linejoin="round" />
<path d="M54.8 114.8 L55.52 114.8 L56.23 114.78 L56.94 114.75 L57.65 114.72 L58.37 114.7 L59.08 114.67 L59.79 114.65 L60.51 114.62 L61.22 114.6 L61.94 114.58 L62.65 114.56 L63.36 114.54 L64.08 114.52 L64.79 114.5 L65.5 114.49 L66.22 114.47 L66.93 114.46 L67.65 114.44 L68.36 114.43 L69.07 114.41 L69.79 114.4 L70.5 114.38 L71.22 114.37 L71.93 114.36 L72.65 114.35 L73.36 114.34 L74.08 114.33 L74.79 114.31 L75.51 114.3 L76.22 114.29 L76.93 114.28 L77.65 114.27 L78.36 114.26 L79.08 114.25 L79.79 114.25 L80.51 114.24 L81.22 114.23 L81.94 114.22 L82.65 114.21 L83.37 114.2 L84.08 114.19 L84.8 114.18 L85.51 114.17 L86.23 114.16 L86.94 114.15 L87.66 114.13 L88.37 114.12 L89.08 114.11 L89.8 114.1 L90.51 114.09 L91.23 114.07 L91.94 114.06 L92.66 114.05 L93.37 114.03 L94.09 114.02 L94.8 114 L95.52 113.99 L96.23 113.97 L96.94 113.95 L97.66 113.93 L98.37 113.92 L99.09 113.9 L99.8 113.87 L100.51 113.85 L101.23 113.83 L101.94 113.81 L102.66 113.78 L103.37 113.76 L104.08 113.73 L104.8 113.7 L105.51 113.68 L106.22 113.65 L106.94 113.62 L107.65 113.58 L108.36 113.55 L109.07 113.52 L109.79 113.48 L110.5 113.44 L111.21 113.41 L111.92 113.37 L112.64 113.33 L113.35 113.28 L114.06 113.24 L114.77 113.19 L115.49 113.15 L116.2 113.1 L116.91 113.05 L117.62 113 L118.33 112.94 L119.04 112.89 L119.75 112.83 L120.46 112.77 L121.18 112.71 L121.89 112.65 L122.6 112.59 L123.31 112.52 L124 112.3" fill="none" stroke="#222" stroke-width="1.1" stroke-linejoin="round" />
<path d="M124 112.3 L124.64 111.97 L125.33 111.79 L126.02 111.61 L126.7 111.42 L127.39 111.23 L128.07 111.03 L128.75 110.83 L129.42 110.62 L130.1 110.41 L130.77 110.19 L131.44 109.98 L132.11 109.75 L132.78 109.53 L133.45 109.3 L134.11 109.06 L134.77 108.82 L135.43 108.58 L136.09 108.34 L136.75 108.09 L137.4 107.84 L138.05 107.58 L138.71 107.32 L139.36 107.06 L140 106.79 L140.65 106.52 L141.3 106.24 L141.94 105.97 L142.58 105.69 L143.22 105.4 L143.86 105.12 L144.5 104.83 L145.13 104.53 L145.77 104.24 L146.4 103.94 L147.03 103.64 L147.66 103.33 L148.29 103.02 L148.92 102.71 L149.54 102.4 L150.17 102.08 L150.79 101.76 L151.41 101.44 L152.03 101.12 L152.65 100.79 L153.27 100.46 L153.89 100.13 L154.5 99.79 L155.12 99.46 L155.73 99.12 L156.34 98.78 L156.96 98.43 L157.57 98.09 L158.17 97.74 L158.78 97.39 L159.39 97.03 L160 96.68 L160.6 96.32 L161.21 95.96 L161.81 95.6 L162.41 95.24 L163.01 94.88 L163.61 94.51 L164.21 94.14 L164.81 93.77 L165.41 93.4 L166.01 93.03 L166.6 92.65 L167.2 92.27 L167.79 91.9 L168.39 91.52 L168.98 91.14 L169.57 90.75 L170.17 90.37 L170.76 89.99 L171.35 89.6 L171.94 89.21 L172.53 88.82 L173.12 88.44 L173.71 88.04 L174.29 87.65 L174.88 87.26 L175.47 86.87 L176.05 86.47 L176.64 86.08 L177.23 85.68 L177.81 85.28 L178.4 84.89 L178.98 84.49 L179.57 84.09 L180.15 83.69 L180.73 83.29 L181.32 82.89 L181.9 82.49 L182.48 82.09 L183.07 81.68 L183.65 81.28 L184.23 80.88 L184.81 80.48 L185.39 80.07 L185.98 79.67 L186.56 79.27 L187.14 78.86 L187.72 78.46 L188.3 78.06 L188.88 77.65 L189.47 77.25 L190.05 76.84 L190.63 76.44 L191.21 76.04 L191.79 75.64 L192.38 75.23 L192.96 74.83 L193.54 74.43 L194.12 74.03 L194.7 73.63 L195.29 73.23 L195.87 72.83 L196.45 72.43 L197.04 72.03 L197.62 71.63 L198.21 71.24 L198.79 70.84 L199.37 70.45 L199.96 70.05 L200.55 69.66 L201.13 69.27 L201.72 68.87 L202.3 68.48 L202.89 68.1 L203.48 67.71 L204.07 67.32 L204.66 66.93 L205.25 66.55 L205.84 66.17 L206.43 65.78 L207.02 65.4 L207.61 65.02 L208.2 64.65 L208.8 64.27 L209.39 63.9 L209.98 63.52 L210.58 63.15 L211.17 62.78 L211.77 62.41 L212.37 62.05 L212.97 61.68 L213.57 61.32 L214.17 60.96 L214.77 60.6 L215.37 60.25 L215.97 59.89 L216.58 59.54 L217.18 59.19 L217.79 58.84 L218.39 58.5 L219 58.15 L219.61 57.81 L220.22 57.47 L220.83 57.14 L221.44 56.8 L222.05 56.47 L222.67 56.14 L223.28 55.81 L223.9 55.49 L224.52 55.17 L225.14 54.85 L225.76 54.53 L226.38 54.22 L227 53.91 L227.62 53.6 L228.25 53.3 L228.88 53 L229.5 52.7 L230.13 52.4 L230.76 52.11 L231.4 51.82 L232.03 51.53 L232.67 51.25 L233.3 50.97 L233.94 50.7 L234.58 50.42 L235.22 50.15 L235.86 49.89 L236.51 49.62 L237.15 49.36 L237.8 49.11 L238.45 48.86 L239.1 48.61 L239.75 48.36 L240.41 48.12 L241.06 47.88 L241.72 47.65 L242.38 47.42 L243.04 47.2 L243.7 46.97 L244.37 46.76 L245.03 46.54 L245.7 46.33 L246.37 46.13 L247.04 45.93 L247.72 45.73 L248.39 45.54 L249.07 45.35 L249.75 45.16 L250.43 44.98 L251.12 44.81 L251.8 44.64 L252.49 44.47 L253.18 44.31 L253.88 44.15 L254.57 44 L255.27 43.85 L255.97 43.71 L256.67 43.57 L257.37 43.43 L258.07 43.31 L258.78 43.18 L259.49 43.06 L260.2 42.95 L260.92 42.84 L261.64 42.74 L262.35 42.64 L263.08 42.54 L263.8 42.45 L264.53 42.37 L265.25 42.29 L265.99 42.22 L266.72 42.15 L267.46 42.09 L268 42.2" fill="none" stroke="#222" stroke-width="1.1" stroke-linejoin="round" />
<path d="M54.8 141.2 L55.59 141.28 L56.28 141.28 L56.96 141.27 L57.65 141.27 L58.34 141.26 L59.03 141.25 L59.73 141.23 L60.42 141.21 L61.12 141.19 L61.82 141.17 L62.52 141.14 L63.22 141.11 L63.92 141.08 L64.62 141.04 L65.32 141 L66.03 140.95 L66.73 140.9 L67.44 140.85 L68.15 140.79 L68.85 140.73 L69.56 140.67 L70.27 140.6 L70.98 140.53 L71.69 140.46 L72.4 140.38 L73.11 140.3 L73.81 140.21 L74.52 140.12 L75.23 140.02 L75.94 139.92 L76.65 139.82 L77.36 139.71 L78.06 139.6 L78.77 139.48 L79.48 139.36 L80.18 139.24 L80.89 139.11 L81.59 138.97 L82.29 138.83 L83 138.69 L83.7 138.54 L84.4 138.39 L85.09 138.23 L85.79 138.07 L86.49 137.9 L87.18 137.73 L87.87 137.55 L88.56 137.36 L89.25 137.18 L89.94 136.98 L90.63 136.78 L91.31 136.58 L91.99 136.37 L92.67 136.16 L93.35 135.94 L94.02 135.71 L94.69 135.48 L95.36 135.24 L96.03 135 L96.7 134.75 L97.36 134.5 L98.02 134.24 L98.67 133.98 L99.33 133.71 L99.98 133.43 L100.62 133.15 L101.27 132.86 L101.91 132.56 L102.55 132.26 L103.18 131.96 L103.81 131.64 L104.44 131.32 L105.06 131 L105.68 130.67 L106.3 130.33 L106.91 129.99 L107.52 129.63 L108.12 129.28 L108.72 128.91 L109.32 128.54 L109.91 128.16 L110.5 127.78 L111.08 127.39 L111.66 126.99 L112.23 126.59 L112.8 126.18 L113.37 125.76 L113.93 125.33 L114.48 124.9 L115.03 124.46 L115.57 124.02 L116.11 123.56 L116.65 123.1 L117.18 122.63 L117.7 122.16 L118.22 121.67 L118.73 121.18 L119.24 120.69 L119.74 120.18 L120.23 119.67 L120.72 119.15 L121.2 118.62 L121.68 118.08 L122.15 117.54 L122.62 116.99 L123.08 116.43 L123.53 115.86 L124 115.4" fill="none" stroke="#222" stroke-width="1.1" stroke-linejoin="round" />
<path d="M124 115.4 L124.76 115.79 L125.45 115.74 L126.14 115.68 L126.84 115.63 L127.53 115.58 L128.22 115.53 L128.91 115.48 L129.61 115.43 L130.3 115.38 L131 115.34 L131.69 115.29 L132.39 115.25 L133.08 115.21 L133.78 115.17 L134.48 115.13 L135.18 115.09 L135.88 115.05 L136.58 115.01 L137.28 114.97 L137.98 114.94 L138.68 114.9 L139.38 114.87 L140.08 114.83 L140.78 114.8 L141.48 114.77 L142.19 114.73 L142.89 114.7 L143.59 114.67 L144.3 114.64 L145 114.61 L145.71 114.58 L146.41 114.55 L147.12 114.52 L147.82 114.49 L148.53 114.46 L149.24 114.43 L149.94 114.4 L150.65 114.37 L151.36 114.34 L152.06 114.32 L152.77 114.29 L153.48 114.26 L154.19 114.23 L154.89 114.2 L155.6 114.17 L156.31 114.14 L157.02 114.11 L157.73 114.08 L158.44 114.05 L159.15 114.02 L159.85 113.99 L160.56 113.96 L161.27 113.92 L161.98 113.89 L162.69 113.86 L163.4 113.82 L164.11 113.79 L164.82 113.75 L165.53 113.72 L166.24 113.68 L166.95 113.64 L167.66 113.61 L168.36 113.57 L169.07 113.53 L169.78 113.48 L170.49 113.44 L171.2 113.4 L171.91 113.36 L172.62 113.31 L173.33 113.26 L174.03 113.22 L174.74 113.17 L175.45 113.12 L176.16 113.07 L176.86 113.01 L177.57 112.96 L178.28 112.9 L178.99 112.85 L179.69 112.79 L180.4 112.73 L181.11 112.67 L181.81 112.6 L182.52 112.54 L183.22 112.47 L183.93 112.4 L184.63 112.33 L185.33 112.26 L186.04 112.19 L186.74 112.11 L187.44 112.04 L188.15 111.96 L188.85 111.87 L189.55 111.79 L190.25 111.71 L190.95 111.62 L191.65 111.53 L192.35 111.44 L193.05 111.34 L193.75 111.25 L194.45 111.15 L195.15 111.05 L195.85 110.94 L196.54 110.84 L197.24 110.73 L197.94 110.62 L198.63 110.51 L199.32 110.39 L200.02 110.27 L200.71 110.15 L201.4 110.03 L202.1 109.9 L202.79 109.77 L203.48 109.64 L204.17 109.51 L204.86 109.37 L205.55 109.23 L206.23 109.09 L206.92 108.94 L207.61 108.79 L208.29 108.64 L208.98 108.48 L209.66 108.33 L210.35 108.16 L211.03 108 L211.71 107.83 L212.39 107.66 L213.07 107.49 L213.75 107.31 L214.43 107.13 L215.11 106.94 L215.78 106.76 L216.46 106.57 L217.13 106.37 L217.81 106.18 L218.48 105.98 L219.15 105.78 L219.82 105.57 L220.49 105.36 L221.16 105.15 L221.83 104.93 L222.5 104.71 L223.16 104.49 L223.83 104.27 L224.49 104.04 L225.15 103.81 L225.81 103.57 L226.48 103.33 L227.13 103.09 L227.79 102.85 L228.45 102.6 L229.11 102.35 L229.76 102.09 L230.41 101.84 L231.07 101.58 L231.72 101.31 L232.37 101.04 L233.02 100.77 L233.66 100.5 L234.31 100.22 L234.96 99.94 L235.6 99.66 L236.24 99.37 L236.88 99.08 L237.52 98.79 L238.16 98.49 L238.8 98.19 L239.44 97.89 L240.07 97.58 L240.7 97.27 L241.34 96.96 L241.97 96.64 L242.6 96.32 L243.22 96 L243.85 95.68 L244.48 95.35 L245.1 95.02 L245.73 94.69 L246.35 94.35 L246.97 94.02 L247.59 93.68 L248.22 93.34 L248.83 93 L249.45 92.65 L250.07 92.31 L250.69 91.96 L251.3 91.61 L251.92 91.26 L252.54 90.91 L253.15 90.56 L253.76 90.2 L254.38 89.85 L254.99 89.49 L255.6 89.13 L256.21 88.78 L256.82 88.42 L257.44 88.06 L258.05 87.7 L258.66 87.34 L259.27 86.98 L259.87 86.62 L260.48 86.26 L261.09 85.9 L261.7 85.54 L262.31 85.18 L262.92 84.82 L263.53 84.46 L264.14 84.1 L264.74 83.75 L265.35 83.39 L265.96 83.03 L266.57 82.68 L267.18 82.32 L268 82.4" fill="none" stroke="#222" stroke-width="1.1" stroke-linejoin="round" />
<path d="M54.8 200.4 L55.57 200.23 L56.1 199.78 L56.64 199.33 L57.18 198.89 L57.72 198.45 L58.27 198.01 L58.82 197.59 L59.38 197.16 L59.94 196.74 L60.5 196.33 L61.07 195.92 L61.64 195.51 L62.21 195.1 L62.79 194.71 L63.37 194.31 L63.96 193.92 L64.54 193.53 L65.13 193.14 L65.72 192.76 L66.32 192.38 L66.91 192 L67.51 191.62 L68.11 191.25 L68.71 190.88 L69.32 190.51 L69.92 190.14 L70.53 189.78 L71.14 189.42 L71.75 189.05 L72.36 188.69 L72.97 188.33 L73.59 187.98 L74.2 187.62 L74.81 187.26 L75.43 186.91 L76.04 186.55 L76.66 186.19 L77.28 185.84 L77.89 185.48 L78.51 185.13 L79.12 184.77 L79.74 184.42 L80.35 184.06 L80.97 183.7 L81.58 183.34 L82.19 182.99 L82.8 182.63 L83.41 182.26 L84.02 181.9 L84.63 181.53 L85.23 181.17 L85.84 180.8 L86.44 180.43 L87.04 180.06 L87.64 179.68 L88.23 179.3 L88.82 178.92 L89.42 178.54 L90 178.15 L90.59 177.76 L91.17 177.37 L91.75 176.97 L92.33 176.57 L92.9 176.17 L93.47 175.76 L94.04 175.35 L94.6 174.94 L95.16 174.52 L95.72 174.09 L96.27 173.66 L96.81 173.23 L97.36 172.79 L97.9 172.35 L98.43 171.9 L98.96 171.45 L99.48 170.99 L100 170.52 L100.52 170.05 L101.03 169.58 L101.53 169.1 L102.03 168.61 L102.53 168.12 L103.02 167.62 L103.51 167.12 L104 166.62 L104.48 166.11 L104.96 165.6 L105.43 165.08 L105.9 164.56 L106.37 164.04 L106.83 163.51 L107.29 162.98 L107.75 162.44 L108.2 161.9 L108.66 161.36 L109.1 160.82 L109.55 160.27 L109.99 159.72 L110.44 159.17 L110.87 158.62 L111.31 158.06 L111.75 157.5 L112.18 156.94 L112.61 156.38 L113.04 155.81 L113.47 155.25 L113.89 154.68 L114.32 154.11 L114.74 153.54 L115.17 152.98 L115.59 152.41 L116.02 151.85 L116.46 151.3 L116.89 150.75 L117.34 150.22 L117.79 149.69 L118.25 149.18 L118.72 148.68 L119.21 148.2 L119.7 147.73 L120.2 147.29 L120.72 146.86 L121.25 146.45 L121.8 146.05 L122.36 145.68 L122.93 145.33 L123.51 144.99 L124.1 144.68 L124.71 144.38 L125.32 144.09 L125.95 143.82 L126.59 143.57 L127.23 143.33 L127.89 143.1 L128.55 142.88 L129.22 142.68 L129.89 142.48 L130.57 142.3 L131.26 142.12 L131.95 141.95 L132.65 141.79 L133.35 141.64 L134.06 141.49 L134.77 141.35 L135.48 141.21 L136.19 141.08 L136.9 140.95 L137.62 140.82 L138.33 140.69 L139.05 140.56 L139.76 140.43 L140.47 140.3 L141.18 140.17 L141.89 140.04 L142.6 139.9 L143.3 139.76 L144 139.61 L144.69 139.47 L145.39 139.32 L146.08 139.16 L146.77 139.01 L147.46 138.85 L148.14 138.69 L148.83 138.52 L149.51 138.35 L150.19 138.19 L150.87 138.01 L151.54 137.84 L152.22 137.66 L152.9 137.48 L153.57 137.3 L154.24 137.12 L154.92 136.94 L155.59 136.75 L156.26 136.57 L156.93 136.38 L157.6 136.19 L158.28 136 L158.95 135.8 L159.62 135.61 L160.29 135.42 L160.97 135.22 L161.64 135.02 L162.31 134.83 L162.99 134.63 L163.66 134.43 L164.34 134.22 L165.01 134.02 L165.68 133.81 L166.36 133.61 L167.03 133.39 L167.7 133.18 L168.38 132.97 L169.05 132.75 L169.72 132.53 L170.39 132.31 L171.06 132.08 L171.72 131.86 L172.39 131.63 L173.06 131.39 L173.72 131.15 L174.39 130.91 L175.05 130.67 L175.71 130.42 L176.37 130.17 L177.02 129.91 L177.68 129.65 L178.33 129.39 L178.98 129.12 L179.63 128.85 L180.28 128.57 L180.93 128.29 L181.57 128.01 L182.21 127.72 L182.85 127.42 L183.48 127.12 L184.11 126.81 L184.74 126.5 L185.37 126.19 L185.99 125.86 L186.62 125.54 L187.23 125.2 L187.85 124.86 L188.46 124.52 L189.07 124.17 L189.67 123.81 L190.27 123.44 L190.87 123.07 L191.46 122.7 L192.05 122.31 L192.64 121.92 L193.22 121.52 L193.8 121.12 L194.37 120.71 L194.94 120.29 L195.5 119.86 L196.06 119.43 L196.62 118.99 L197.17 118.54 L197.71 118.08 L198.26 117.61 L198.79 117.14 L199.4 116.8" fill="none" stroke="#222" stroke-width="1.1" stroke-linejoin="round" />
<path d="M199.4 116.8 L200.1 116.68 L200.81 116.62 L201.51 116.57 L202.22 116.51 L202.92 116.46 L203.63 116.4 L204.34 116.35 L205.04 116.29 L205.75 116.24 L206.46 116.18 L207.16 116.12 L207.87 116.07 L208.57 116.01 L209.28 115.96 L209.99 115.9 L210.69 115.85 L211.4 115.79 L212.11 115.74 L212.81 115.68 L213.52 115.63 L214.23 115.57 L214.93 115.52 L215.64 115.46 L216.34 115.41 L217.05 115.35 L217.76 115.3 L218.46 115.25 L219.17 115.19 L219.88 115.14 L220.58 115.09 L221.29 115.03 L222 114.98 L222.7 114.93 L223.41 114.88 L224.12 114.82 L224.82 114.77 L225.53 114.72 L226.24 114.67 L226.94 114.62 L227.65 114.57 L228.36 114.52 L229.06 114.47 L229.77 114.42 L230.48 114.37 L231.19 114.32 L231.89 114.28 L232.6 114.23 L233.31 114.18 L234.01 114.14 L234.72 114.09 L235.43 114.04 L236.13 114 L236.84 113.95 L237.55 113.91 L238.26 113.87 L238.96 113.82 L239.67 113.78 L240.38 113.74 L241.09 113.7 L241.79 113.65 L242.5 113.61 L243.21 113.57 L243.92 113.54 L244.62 113.5 L245.33 113.46 L246.04 113.42 L246.75 113.38 L247.45 113.35 L248.16 113.31 L248.87 113.28 L249.58 113.24 L250.29 113.21 L250.99 113.18 L251.7 113.15 L252.41 113.12 L253.12 113.08 L253.83 113.06 L254.54 113.03 L255.24 113 L255.95 112.97 L256.66 112.94 L257.37 112.92 L258.08 112.89 L258.79 112.87 L259.49 112.85 L260.2 112.82 L260.91 112.8 L261.62 112.78 L262.33 112.76 L263.04 112.74 L263.75 112.73 L264.46 112.71 L265.17 112.69 L265.88 112.68 L266.58 112.66 L267.29 112.65 L268 112.6" fill="none" stroke="#222" stroke-width="1.1" stroke-linejoin="round" />
<circle cx="124" cy="113.5" r="2.6" fill="#fff" stroke="#ec5b2b" stroke-width="1.4"/>
<circle cx="199.6" cy="113.7" r="2.6" fill="#fff" stroke="#ec5b2b" stroke-width="1.4"/>
<circle cx="165.7" cy="93.9" r="2.6" fill="#ec5b2b"/>
<circle cx="246.6" cy="93.8" r="2.6" fill="#ec5b2b"/>
<circle cx="173.2" cy="113.5" r="2.6" fill="#ec5b2b"/>
<circle cx="247.6" cy="113.3" r="2.6" fill="#ec5b2b"/>
<circle cx="173.2" cy="131.5" r="2.6" fill="#ec5b2b"/>
<path d="M61.7 260.7 L62.24 261.16 L62.81 261.59 L63.37 262.02 L63.93 262.46 L64.49 262.89 L65.05 263.34 L65.6 263.78 L66.16 264.23 L66.71 264.68 L67.26 265.13 L67.81 265.58 L68.35 266.04 L68.9 266.49 L69.45 266.95 L69.99 267.41 L70.54 267.87 L71.08 268.34 L71.62 268.8 L72.17 269.26 L72.71 269.73 L73.25 270.19 L73.79 270.66 L74.34 271.12 L74.88 271.59 L75.42 272.05 L75.96 272.52 L76.51 272.98 L77.05 273.44 L77.6 273.9 L78.14 274.36 L78.69 274.82 L79.24 275.28 L79.79 275.73 L80.34 276.18 L80.89 276.63 L81.44 277.08 L82 277.53 L82.55 277.97 L83.11 278.41 L83.67 278.85 L84.23 279.28 L84.8 279.71 L85.36 280.14 L85.93 280.56 L86.51 280.98 L87.08 281.4 L87.66 281.81 L88.24 282.21 L88.82 282.61 L89.41 283.01 L89.99 283.4 L90.59 283.79 L91.18 284.17 L91.78 284.55 L92.38 284.92 L92.99 285.28 L93.6 285.64 L94.22 285.99 L94.84 286.33 L95.46 286.67 L96.09 287.01 L96.72 287.33 L97.35 287.65 L97.99 287.96 L98.64 288.26 L99.29 288.56 L99.94 288.84 L100.5 289.3" fill="none" stroke="#b3b3b3" stroke-width="1.3" stroke-linejoin="round" />
<path d="M100.5 289.3 L100.9 289.94 L101.22 290.56 L101.53 291.18 L101.83 291.81 L102.14 292.44 L102.43 293.07 L102.73 293.7 L103.02 294.34 L103.31 294.98 L103.6 295.63 L103.88 296.27 L104.16 296.92 L104.44 297.57 L104.71 298.22 L104.99 298.88 L105.26 299.54 L105.53 300.2 L105.79 300.86 L106.06 301.52 L106.32 302.18 L106.59 302.85 L106.85 303.51 L107.11 304.18 L107.37 304.85 L107.63 305.52 L107.89 306.19 L108.15 306.86 L108.41 307.53 L108.67 308.2 L108.93 308.87 L109.19 309.54 L109.45 310.21 L109.71 310.89 L109.98 311.56 L110.24 312.23 L110.51 312.89 L110.77 313.56 L111.04 314.23 L111.31 314.9 L111.58 315.56 L111.86 316.23 L112.13 316.89 L112.41 317.55 L112.7 318.21 L112.98 318.87 L113.27 319.52 L113.56 320.18 L113.85 320.83 L114.15 321.48 L114.45 322.12 L114.76 322.77 L115.07 323.41 L115.38 324.05 L115.7 324.68 L116.02 325.31 L116.35 325.94 L116.68 326.57 L117.02 327.19 L117.36 327.81 L117.71 328.42 L118.06 329.04 L118.42 329.64 L118.79 330.24 L119.16 330.84 L119.53 331.44 L119.92 332.03 L120.31 332.61 L120.7 333.19 L121.11 333.77 L121.52 334.34 L121.93 334.9 L122.36 335.46 L122.79 336.01 L123.23 336.56 L123.68 337.1 L124.14 337.64 L124.6 338.17 L125.08 338.7 L125.56 339.21 L126.05 339.73 L126.55 340.23 L127.06 340.73 L127.57 341.22 L128.1 341.71 L128.64 342.19 L129.18 342.66 L129.74 343.12 L130.31 343.58 L130.88 344.03 L131.47 344.47 L132.07 344.9 L132.7 345.2" fill="none" stroke="#d3d3d3" stroke-width="1.3" stroke-linejoin="round" />
<path d="M132.7 345.2 L133.38 345.49 L134.08 345.91 L134.78 346.29 L135.48 346.63 L136.17 346.93 L136.87 347.18 L137.56 347.41 L138.26 347.59 L138.95 347.74 L139.64 347.86 L140.33 347.94 L141.02 348 L141.71 348.02 L142.39 348.01 L143.08 347.98 L143.76 347.92 L144.45 347.84 L145.13 347.73 L145.81 347.6 L146.49 347.44 L147.17 347.27 L147.85 347.08 L148.52 346.87 L149.2 346.64 L149.87 346.4 L150.54 346.14 L151.22 345.88 L151.89 345.6 L152.56 345.31 L153.22 345.01 L153.89 344.7 L154.56 344.38 L155.22 344.06 L155.89 343.74 L156.55 343.41 L157.21 343.08 L157.87 342.75 L158.53 342.42 L159.18 342.09 L159.84 341.77 L160.49 341.45 L161.14 341.14 L161.8 340.83 L162.45 340.53 L163.09 340.24 L163.74 339.96 L164.39 339.69 L165.03 339.43 L165.68 339.19 L166.32 338.96 L166.96 338.75 L167.6 338.56 L168.24 338.39 L168.87 338.23 L169.51 338.1 L170.14 337.99 L170.77 337.91 L171.4 337.84 L172.03 337.81 L172.66 337.8 L173.28 337.83 L173.91 337.88 L174.53 337.95 L175.15 338.05 L175.78 338.18 L176.4 338.33 L177.01 338.5 L177.63 338.69 L178.25 338.9 L178.87 339.13 L179.48 339.38 L180.1 339.64 L180.71 339.92 L181.33 340.22 L181.94 340.52 L182.56 340.84 L183.17 341.18 L183.78 341.52 L184.4 341.87 L185.01 342.23 L185.63 342.59 L186.24 342.96 L186.86 343.34 L187.47 343.72 L188.09 344.1 L188.71 344.49 L189.32 344.87 L189.94 345.25 L190.56 345.63 L191.18 346.01 L191.8 346.39 L192.43 346.76 L193.05 347.12 L193.68 347.48 L194.3 347.82 L194.93 348.16 L195.56 348.49 L196.19 348.81 L196.83 349.11 L197.46 349.4 L198.1 349.67 L198.74 349.93 L199.38 350.17 L200.02 350.4 L200.67 350.6 L201.32 350.79 L201.97 350.95 L202.62 351.09 L203.28 351.21 L203.94 351.3 L204.6 351.36 L205.26 351.4 L205.93 351.42 L206.6 351.41 L207.27 351.37 L207.95 351.31 L208.62 351.23 L209.3 351.13 L209.98 351.01 L210.67 350.87 L211.35 350.72 L212.04 350.54 L212.73 350.36 L213.42 350.15 L214.11 349.94 L214.8 349.71 L215.49 349.48 L216.19 349.23 L216.88 348.98 L217.58 348.72 L218.28 348.45 L218.97 348.18 L219.67 347.9 L220.37 347.62 L221.06 347.34 L221.76 347.06 L222.46 346.78 L223.15 346.5 L223.85 346.23 L224.55 345.95 L225.24 345.69 L225.93 345.43 L226.63 345.17 L227.32 344.93 L228.01 344.7 L228.7 344.47 L229.39 344.26 L230.07 344.06 L230.76 343.87 L231.44 343.7 L232.12 343.55 L232.8 343.41 L233.48 343.3 L234.15 343.2 L234.82 343.12 L235.49 343.06 L236.16 343.03 L236.82 343.02 L237.48 343.04 L238.14 343.08 L238.79 343.16 L239.44 343.25 L240.09 343.38 L240.73 343.54 L241.37 343.71 L242.01 343.92 L242.65 344.14 L243.28 344.39 L243.91 344.65 L244.54 344.93 L245.17 345.23 L245.8 345.54 L246.43 345.87 L247.05 346.21 L247.68 346.55 L248.3 346.91 L248.93 347.27 L249.55 347.64 L250.17 348.02 L250.8 348.4 L251.43 348.78 L252.05 349.16 L252.68 349.53 L253.31 349.91 L253.94 350.28 L254.57 350.64 L255.21 351 L255.84 351.35 L256.48 351.69 L257.13 352.02 L257.77 352.33 L258.42 352.63 L259.07 352.92 L259.72 353.18 L260.38 353.43 L261.05 353.66 L261.71 353.86 L262.38 354.04 L263.06 354.2 L263.74 354.33 L264.43 354.43 L265.12 354.51 L265.81 354.55 L266.52 354.56 L267.22 354.54 L268 354.4" fill="none" stroke="#bdbdbd" stroke-width="1.3" stroke-linejoin="round" />
<path d="M113.8 260.7 L114.15 261.32 L114.66 261.8 L115.18 262.29 L115.69 262.77 L116.21 263.25 L116.73 263.72 L117.25 264.2 L117.77 264.68 L118.3 265.15 L118.82 265.62 L119.35 266.09 L119.87 266.56 L120.4 267.03 L120.93 267.5 L121.46 267.97 L121.99 268.43 L122.52 268.9 L123.05 269.36 L123.58 269.82 L124.12 270.29 L124.65 270.75 L125.18 271.21 L125.72 271.67 L126.25 272.13 L126.79 272.59 L127.32 273.05 L127.86 273.51 L128.39 273.97 L128.93 274.43 L129.46 274.89 L130 275.35 L130.53 275.81 L131.07 276.26 L131.6 276.72 L132.14 277.18 L132.67 277.64 L133.2 278.1 L133.74 278.56 L134.27 279.02 L134.8 279.48 L135.33 279.94 L135.86 280.4 L136.39 280.86 L136.92 281.32 L137.45 281.78 L137.98 282.25 L138.51 282.71 L139.03 283.18 L139.56 283.64 L140.08 284.11 L140.6 284.58 L141.13 285.04 L141.65 285.51 L142.16 285.98 L142.68 286.45 L143.2 286.93 L143.71 287.4 L144.22 287.88 L144.74 288.35 L145.25 288.83 L145.75 289.31 L146.26 289.79 L146.76 290.27 L147.27 290.76 L147.77 291.25 L148.26 291.73 L148.76 292.22 L149.25 292.71 L149.75 293.21 L150.24 293.7 L150.72 294.2 L151.21 294.7 L151.69 295.2 L152.17 295.7 L152.65 296.21 L153.13 296.72 L153.6 297.23 L154.07 297.74 L154.54 298.25 L155 298.77 L155.46 299.29 L155.92 299.82 L156.38 300.34 L156.83 300.87 L157.28 301.4 L157.73 301.93 L158.17 302.47 L158.61 303.01 L159.05 303.55 L159.48 304.1 L159.91 304.64 L160.34 305.2 L160.76 305.75 L161.18 306.31 L161.6 306.87 L162.01 307.43 L162.42 308 L162.83 308.56 L163.24 309.14 L163.64 309.71 L164.04 310.28 L164.44 310.86 L164.83 311.44 L165.23 312.02 L165.62 312.61 L166.01 313.19 L166.39 313.78 L166.78 314.37 L167.16 314.96 L167.55 315.55 L167.93 316.14 L168.31 316.74 L168.69 317.34 L169.06 317.93 L169.44 318.53 L169.82 319.13 L170.19 319.73 L170.56 320.33 L170.94 320.93 L171.31 321.54 L171.68 322.14 L172.06 322.74 L172.43 323.34 L172.8 323.95 L173.17 324.55 L173.54 325.16 L173.92 325.76 L174.29 326.36 L174.66 326.97 L175.04 327.57 L175.41 328.17 L175.79 328.77 L176.16 329.38 L176.54 329.98 L176.92 330.58 L177.3 331.18 L177.68 331.77 L178.06 332.37 L178.44 332.97 L178.83 333.56 L179.22 334.16 L179.6 334.75 L180 335.34 L180.39 335.93 L180.78 336.52 L181.18 337.1 L181.58 337.68 L181.98 338.27 L182.39 338.85 L182.8 339.42 L183.21 340 L183.62 340.57 L184.04 341.14 L184.45 341.71 L184.88 342.28 L185.3 342.84 L185.73 343.4 L186.17 343.96 L186.6 344.51 L187.04 345.06 L187.49 345.61 L187.93 346.16 L188.38 346.7 L188.84 347.24 L189.3 347.78 L189.76 348.31 L190.22 348.84 L190.69 349.37 L191.16 349.89 L191.64 350.41 L192.12 350.93 L192.6 351.44 L193.09 351.95 L193.58 352.45 L194.07 352.96 L194.56 353.46 L195.06 353.95 L195.57 354.44 L196.07 354.93 L196.58 355.42 L197.09 355.9 L197.61 356.37 L198.13 356.85 L198.65 357.32 L199.18 357.78 L199.7 358.24 L200.24 358.7 L200.77 359.15 L201.31 359.6 L201.85 360.05 L202.39 360.49 L202.94 360.93 L203.49 361.36 L204.04 361.79 L204.6 362.21 L205.16 362.63 L205.72 363.05 L206.29 363.46 L206.86 363.87 L207.43 364.27 L208 364.67 L208.58 365.06 L209.16 365.45 L209.74 365.84 L210.33 366.22 L210.91 366.59 L211.51 366.96 L212.1 367.33 L212.7 367.69 L213.3 368.05 L213.9 368.4 L214.5 368.74 L215.11 369.08 L215.72 369.42 L216.34 369.75 L216.95 370.08 L217.57 370.4 L218.19 370.72 L218.82 371.03 L219.44 371.34 L220.07 371.64 L220.7 371.93 L221.34 372.22 L221.97 372.51 L222.61 372.79 L223.26 373.06 L223.9 373.33 L224.55 373.59 L225.2 373.85 L225.85 374.1 L226.5 374.35 L227.16 374.59 L227.82 374.83 L228.48 375.06 L229.14 375.28 L229.81 375.5 L230.48 375.71 L231.15 375.92 L231.82 376.12 L232.49 376.31 L233.17 376.5 L233.85 376.69 L234.53 376.86 L235.22 377.03 L235.9 377.2 L236.59 377.36 L237.28 377.51 L237.97 377.66 L238.67 377.8 L239.37 377.93 L240.06 378.06 L240.76 378.18 L241.47 378.3 L242.17 378.41 L242.87 378.53 L243.57 378.64 L244.28 378.74 L244.98 378.85 L245.68 378.96 L246.38 379.07 L247.07 379.18 L247.77 379.3 L248.46 379.41 L249.15 379.54 L249.84 379.66 L250.52 379.8 L251.2 379.93 L251.87 380.08 L252.54 380.24 L253.21 380.4 L253.86 380.57 L254.52 380.76 L255.16 380.95 L255.8 381.16 L256.43 381.38 L257.06 381.61 L257.68 381.86 L258.28 382.12 L258.89 382.4 L259.48 382.69 L260.06 383.01 L260.63 383.34 L261.19 383.69 L261.75 384.06 L262.29 384.45 L262.82 384.86 L263.34 385.29 L263.84 385.75 L264.34 386.23 L264.82 386.73 L265.29 387.26 L265.74 387.82 L266.18 388.4 L266.61 389.01 L267.02 389.65 L267.42 390.32 L267.81 391.02 L268 391.8" fill="none" stroke="#bdbdbd" stroke-width="1.3" stroke-linejoin="round" />
<path d="M164.5 260.7 L165.24 260.94 L165.79 261.38 L166.33 261.82 L166.88 262.27 L167.43 262.72 L167.97 263.16 L168.52 263.61 L169.06 264.06 L169.6 264.52 L170.14 264.97 L170.68 265.42 L171.21 265.88 L171.75 266.34 L172.28 266.8 L172.81 267.26 L173.35 267.72 L173.88 268.19 L174.41 268.65 L174.93 269.12 L175.46 269.59 L175.99 270.05 L176.51 270.53 L177.03 271 L177.55 271.47 L178.07 271.95 L178.59 272.42 L179.11 272.9 L179.63 273.38 L180.15 273.86 L180.66 274.34 L181.17 274.82 L181.69 275.3 L182.2 275.79 L182.71 276.27 L183.22 276.76 L183.73 277.25 L184.23 277.74 L184.74 278.23 L185.24 278.72 L185.75 279.21 L186.25 279.71 L186.75 280.2 L187.25 280.7 L187.75 281.2 L188.25 281.69 L188.75 282.19 L189.25 282.69 L189.74 283.2 L190.24 283.7 L190.73 284.2 L191.23 284.71 L191.72 285.21 L192.21 285.72 L192.7 286.22 L193.19 286.73 L193.68 287.24 L194.17 287.75 L194.65 288.26 L195.14 288.77 L195.62 289.29 L196.11 289.8 L196.59 290.32 L197.08 290.83 L197.56 291.35 L198.04 291.86 L198.52 292.38 L199 292.9 L199.48 293.42 L199.96 293.94 L200.43 294.46 L200.91 294.98 L201.39 295.51 L201.86 296.03 L202.34 296.55 L202.81 297.08 L203.28 297.6 L203.75 298.13 L204.23 298.66 L204.7 299.18 L205.17 299.71 L205.64 300.24 L206.11 300.77 L206.57 301.3 L207.04 301.83 L207.51 302.36 L207.98 302.89 L208.44 303.42 L208.91 303.96 L209.37 304.49 L209.84 305.02 L210.3 305.56 L210.76 306.09 L211.23 306.63 L211.69 307.16 L212.15 307.7 L212.61 308.24 L213.07 308.77 L213.53 309.31 L213.99 309.85 L214.45 310.39 L214.91 310.92 L215.37 311.46 L215.83 312 L216.29 312.54 L216.74 313.08 L217.2 313.62 L217.66 314.16 L218.11 314.71 L218.57 315.25 L219.02 315.79 L219.48 316.33 L219.93 316.87 L220.39 317.41 L220.84 317.96 L221.29 318.5 L221.75 319.04 L222.2 319.59 L222.65 320.13 L223.1 320.67 L223.56 321.22 L224.01 321.76 L224.46 322.3 L224.91 322.85 L225.36 323.39 L225.81 323.94 L226.26 324.48 L226.71 325.03 L227.16 325.57 L227.61 326.12 L228.06 326.66 L228.51 327.21 L228.96 327.75 L229.41 328.29 L229.86 328.84 L230.31 329.38 L230.76 329.93 L231.21 330.47 L231.66 331.02 L232.11 331.56 L232.56 332.11 L233.01 332.65 L233.46 333.19 L233.91 333.73 L234.36 334.27 L234.81 334.81 L235.26 335.35 L235.72 335.89 L236.17 336.42 L236.63 336.96 L237.09 337.49 L237.55 338.02 L238.01 338.54 L238.48 339.07 L238.95 339.59 L239.41 340.11 L239.89 340.62 L240.36 341.13 L240.84 341.64 L241.32 342.15 L241.8 342.65 L242.29 343.15 L242.78 343.64 L243.27 344.13 L243.77 344.61 L244.27 345.09 L244.78 345.57 L245.29 346.04 L245.8 346.5 L246.32 346.97 L246.84 347.42 L247.37 347.87 L247.9 348.31 L248.44 348.75 L248.98 349.18 L249.53 349.61 L250.08 350.03 L250.64 350.44 L251.2 350.85 L251.77 351.24 L252.35 351.64 L252.93 352.02 L253.52 352.4 L254.12 352.77 L254.72 353.13 L255.33 353.48 L255.94 353.83 L256.57 354.17 L257.2 354.5 L257.83 354.82 L258.47 355.15 L259.1 355.47 L259.74 355.78 L260.39 356.1 L261.02 356.43 L261.66 356.75 L262.3 357.08 L262.92 357.41 L263.55 357.76 L264.16 358.11 L264.77 358.47 L265.37 358.85 L265.96 359.24 L266.54 359.64 L267.1 360.06 L267.65 360.5 L268 361.2" fill="none" stroke="#bdbdbd" stroke-width="1.3" stroke-linejoin="round" />
<path d="M213.9 260.7 L214.54 260.97 L215.19 261.3 L215.84 261.63 L216.48 261.97 L217.11 262.31 L217.74 262.66 L218.36 263.01 L218.98 263.38 L219.59 263.74 L220.2 264.11 L220.81 264.49 L221.41 264.88 L222 265.27 L222.59 265.66 L223.18 266.06 L223.76 266.46 L224.34 266.87 L224.91 267.29 L225.48 267.71 L226.04 268.13 L226.6 268.56 L227.16 268.99 L227.71 269.43 L228.26 269.87 L228.81 270.32 L229.35 270.77 L229.89 271.23 L230.42 271.69 L230.95 272.15 L231.48 272.62 L232.01 273.09 L232.53 273.56 L233.04 274.04 L233.56 274.52 L234.07 275.01 L234.58 275.5 L235.09 275.99 L235.59 276.49 L236.09 276.98 L236.59 277.49 L237.08 277.99 L237.58 278.5 L238.07 279.01 L238.56 279.52 L239.04 280.04 L239.52 280.56 L240.01 281.08 L240.48 281.6 L240.96 282.13 L241.44 282.65 L241.91 283.18 L242.38 283.72 L242.85 284.25 L243.32 284.79 L243.79 285.32 L244.25 285.86 L244.71 286.4 L245.17 286.95 L245.64 287.49 L246.09 288.03 L246.55 288.58 L247.01 289.13 L247.47 289.68 L247.92 290.23 L248.37 290.78 L248.83 291.33 L249.28 291.88 L249.73 292.44 L250.18 292.99 L250.63 293.54 L251.08 294.1 L251.53 294.65 L251.98 295.21 L252.43 295.76 L252.88 296.32 L253.33 296.87 L253.78 297.43 L254.22 297.98 L254.67 298.54 L255.12 299.09 L255.57 299.65 L256.02 300.2 L256.47 300.75 L256.92 301.31 L257.37 301.86 L257.82 302.41 L258.27 302.96 L258.72 303.51 L259.18 304.05 L259.63 304.6 L260.09 305.15 L260.54 305.69 L261 306.23 L261.46 306.77 L261.92 307.31 L262.38 307.85 L262.84 308.38 L263.3 308.92 L263.77 309.45 L264.23 309.98 L264.7 310.5 L265.17 311.03 L265.64 311.55 L266.11 312.07 L266.59 312.59 L267.07 313.11 L267.55 313.62 L268 314.2" fill="none" stroke="#bdbdbd" stroke-width="1.3" stroke-linejoin="round" />
<path d="M55.5 411 L55.74 411.67 L55.91 412.36 L56.08 413.05 L56.25 413.73 L56.43 414.42 L56.6 415.11 L56.77 415.8 L56.94 416.48 L57.11 417.17 L57.28 417.86 L57.46 418.55 L57.63 419.24 L57.8 419.92 L57.97 420.61 L58.14 421.3 L58.32 421.99 L58.49 422.68 L58.66 423.36 L58.84 424.05 L59.01 424.74 L59.18 425.43 L59.36 426.11 L59.53 426.8 L59.71 427.49 L59.89 428.18 L60.06 428.86 L60.24 429.55 L60.42 430.24 L60.59 430.92 L60.77 431.61 L60.95 432.3 L61.13 432.98 L61.31 433.67 L61.49 434.35 L61.68 435.04 L61.86 435.73 L62.04 436.41 L62.23 437.09 L62.42 437.78 L62.6 438.46 L62.79 439.15 L62.98 439.83 L63.17 440.51 L63.36 441.2 L63.55 441.88 L63.74 442.56 L63.94 443.24 L64.13 443.92 L64.33 444.61 L64.53 445.29 L64.73 445.97 L64.93 446.65 L65.13 447.33 L65.33 448 L65.54 448.68 L65.75 449.36 L65.95 450.04 L66.16 450.72 L66.37 451.39 L66.59 452.07 L66.8 452.74 L67.01 453.42 L67.23 454.09 L67.45 454.77 L67.67 455.44 L67.89 456.12 L68.12 456.79 L68.34 457.46 L68.57 458.13 L68.8 458.8 L69.03 459.47 L69.27 460.14 L69.5 460.81 L69.74 461.48 L69.98 462.14 L70.22 462.81 L70.46 463.48 L70.71 464.14 L70.96 464.81 L71.21 465.47 L71.46 466.14 L71.71 466.8 L71.97 467.46 L72.23 468.12 L72.49 468.78 L72.75 469.44 L73.02 470.1 L73.29 470.76 L73.56 471.41 L73.83 472.07 L74.11 472.73 L74.39 473.38 L74.67 474.03 L74.9 474.7" fill="none" stroke="#cfcfcf" stroke-width="1.0" stroke-dasharray="0.9 1.8" stroke-linejoin="round" />
<path d="M74.9 474.7 L75.18 475.39 L75.49 475.99 L75.79 476.6 L76.08 477.22 L76.37 477.84 L76.65 478.47 L76.93 479.1 L77.21 479.74 L77.48 480.38 L77.75 481.03 L78.01 481.67 L78.28 482.33 L78.54 482.98 L78.8 483.64 L79.06 484.3 L79.32 484.96 L79.58 485.63 L79.84 486.3 L80.1 486.96 L80.37 487.63 L80.63 488.3 L80.9 488.98 L81.17 489.65 L81.44 490.32 L81.72 490.99 L82.01 491.66 L82.29 492.33 L82.59 493 L82.88 493.67 L83.19 494.34 L83.5 495 L83.82 495.66 L84.15 496.32 L84.48 496.98 L84.82 497.64 L85.18 498.29 L85.54 498.94 L85.91 499.58 L86.29 500.22 L86.68 500.86 L87.09 501.49 L87.5 502.11 L87.93 502.73 L88.37 503.35 L88.83 503.96 L89.29 504.56 L89.77 505.15 L90.26 505.73 L90.76 506.29 L91.27 506.84 L91.79 507.36 L92.32 507.87 L92.86 508.34 L93.41 508.79 L93.96 509.21 L94.52 509.59 L95.08 509.94 L95.65 510.25 L96.22 510.53 L96.79 510.75 L97.37 510.94 L97.95 511.07 L98.54 511.16 L99.12 511.19 L99.7 511.18 L100.29 511.13 L100.87 511.03 L101.46 510.89 L102.04 510.71 L102.62 510.5 L103.2 510.24 L103.78 509.95 L104.35 509.63 L104.92 509.28 L105.49 508.9 L106.06 508.48 L106.62 508.05 L107.17 507.58 L107.72 507.1 L108.26 506.59 L108.8 506.06 L109.33 505.51 L109.85 504.95 L110.37 504.37 L110.88 503.78 L111.38 503.17 L111.87 502.56 L112.35 501.94 L112.82 501.31 L113.28 500.67 L113.73 500.03 L114.17 499.39 L114.6 498.75 L115.02 498.11 L115.42 497.48 L115.81 496.84 L116.19 496.22 L116.56 495.6 L116.91 495 L117.25 494.4 L117.57 493.82 L117.87 493.25 L118.16 492.7 L118.44 492.16 L119 491.7" fill="none" stroke="#cdcdcd" stroke-width="1.15" stroke-linejoin="round" />
<path d="M119 491.7 L119.25 492.14 L119.49 492.58 L119.72 493.03 L119.95 493.48 L120.16 493.94 L120.35 494.4 L120.54 494.86 L120.72 495.32 L120.89 495.79 L121.05 496.27 L121.2 496.74 L121.33 497.23 L121.46 497.71 L121.58 498.2 L121.68 498.69 L121.78 499.19 L121.86 499.69 L121.94 500.19 L122 500.7" fill="none" stroke="#cfcfcf" stroke-width="1.0" stroke-dasharray="0.9 1.8" stroke-linejoin="round" />
<path d="M54.8 310.7 L55.13 311.53 L55.24 312.1 L55.36 312.68 L55.49 313.27 L55.64 313.87 L55.81 314.47 L55.98 315.09 L56.17 315.71 L56.37 316.34 L56.59 316.97 L56.82 317.61 L57.06 318.25 L57.31 318.9 L57.57 319.55 L57.85 320.21 L58.13 320.86 L58.43 321.52 L58.74 322.18 L59.06 322.84 L59.39 323.5 L59.73 324.16 L60.09 324.81 L60.45 325.47 L60.82 326.12 L61.2 326.77 L61.6 327.42 L62 328.06 L62.41 328.69 L62.83 329.33 L63.26 329.95 L63.7 330.57 L64.14 331.18 L64.6 331.78 L65.06 332.38 L65.53 332.96 L66.01 333.54 L66.5 334.1 L66.99 334.66 L67.49 335.2 L68 335.73 L68.52 336.25 L69.04 336.76 L69.57 337.25 L70.1 337.73 L70.64 338.19 L71.19 338.63 L71.74 339.06 L72.3 339.48 L72.87 339.87 L73.44 340.25 L74.01 340.61 L74.59 340.95 L75.18 341.27 L75.76 341.57 L76.36 341.85 L76.95 342.11 L77.55 342.34 L78.16 342.55 L78.77 342.74 L79.38 342.91 L79.99 343.05 L80.61 343.16 L81.23 343.25 L81.86 343.32 L82.48 343.35 L83.11 343.36 L83.74 343.34 L84.37 343.29 L85.01 343.22 L85.64 343.11 L86.28 342.97 L86.92 342.8 L87.56 342.61 L88.2 342.39 L88.84 342.14 L89.47 341.87 L90.11 341.58 L90.75 341.26 L91.39 340.93 L92.02 340.57 L92.65 340.2 L93.28 339.81 L93.91 339.4 L94.53 338.98 L95.16 338.55 L95.77 338.1 L96.39 337.64 L97 337.18 L97.6 336.7 L98.2 336.22 L98.8 335.73 L99.39 335.23 L99.97 334.74 L100.55 334.24 L101.12 333.73 L101.68 333.23 L102.24 332.73 L102.79 332.23 L103.33 331.73 L103.86 331.24 L104.4 330.77 L104.92 330.32 L105.45 329.88 L105.98 329.48 L106.51 329.11 L107.04 328.78 L107.58 328.49 L108.12 328.25 L108.68 328.06 L109.24 327.93 L109.82 327.86 L110.4 327.85 L110.99 327.91 L111.58 328.04 L112.17 328.22 L112.75 328.46 L113.33 328.76 L113.89 329.11 L114.43 329.51 L114.97 329.96 L115.5 330.44 L116.01 330.96 L116.52 331.51 L117.01 332.09 L117.49 332.68 L117.96 333.29 L118.42 333.92 L118.88 334.55 L119.32 335.18 L119.75 335.81 L120.17 336.44 L120.58 337.06 L120.98 337.67 L121.38 338.27 L121.77 338.87 L122.15 339.47 L122.53 340.06 L122.9 340.64 L123.27 341.22 L123.64 341.8 L124 342.37 L124.37 342.94 L124.74 343.51 L125.1 344.08 L125.47 344.64 L125.84 345.21 L126.22 345.77 L126.6 346.34 L126.98 346.9 L127.38 347.47 L127.77 348.03 L128.18 348.6 L128.58 349.16 L129 349.73 L129.42 350.29 L129.84 350.85 L130.27 351.42 L130.7 351.97 L131.14 352.53 L131.59 353.08 L132.04 353.64 L132.49 354.18 L132.95 354.73 L133.42 355.27 L133.88 355.8 L134.36 356.34 L134.83 356.86 L135.32 357.39 L135.8 357.9 L136.29 358.42 L136.79 358.92 L137.28 359.42 L137.79 359.92 L138.29 360.4 L138.8 360.88 L139.32 361.35 L139.83 361.82 L140.35 362.27 L140.88 362.72 L141.41 363.16 L141.94 363.6 L142.48 364.03 L143.02 364.45 L143.57 364.87 L144.12 365.28 L144.68 365.69 L145.24 366.1 L145.81 366.5 L146.39 366.89 L146.97 367.29 L147.56 367.68 L148.16 368.08 L148.76 368.47 L149.37 368.86 L149.99 369.24 L150.61 369.62 L151.24 370 L151.87 370.37 L152.51 370.73 L153.16 371.08 L153.8 371.42 L154.45 371.74 L155.1 372.05 L155.76 372.34 L156.41 372.61 L157.07 372.87 L157.72 373.1 L158.38 373.3 L159.04 373.49 L159.69 373.65 L160.35 373.79 L161.01 373.91 L161.67 374.01 L162.33 374.1 L162.99 374.17 L163.66 374.22 L164.33 374.26 L165 374.29 L165.67 374.3 L166.35 374.31 L167.04 374.31 L167.73 374.3 L168.42 374.28 L169.12 374.25 L169.82 374.23 L170.53 374.2 L171.25 374.17 L171.97 374.13 L172.7 374.1 L173.44 374.07 L174.18 374.04 L174.93 374.02 L175.68 374 L176.43 373.98 L177.18 373.97 L177.92 373.98 L178.67 373.99 L179.41 374.01 L180.15 374.04 L180.89 374.08 L181.61 374.14 L182.33 374.21 L183.04 374.3 L183.74 374.4 L184.42 374.52 L185.1 374.66 L185.76 374.82 L186.4 375 L187.03 375.2 L187.64 375.43 L188.23 375.68 L188.81 375.95 L189.36 376.25 L189.89 376.58 L190.39 376.94 L190.88 377.32 L191.34 377.74 L191.78 378.17 L192.19 378.64 L192.59 379.12 L192.97 379.63 L193.33 380.16 L193.67 380.71 L194 381.28 L194.31 381.87 L194.6 382.48 L194.89 383.1 L195.16 383.73 L195.41 384.38 L195.66 385.03 L195.9 385.7 L196.13 386.38 L196.35 387.07 L196.56 387.76 L196.76 388.46 L196.96 389.17 L197.16 389.88 L197.35 390.59 L197.54 391.3 L197.73 392.01 L197.91 392.72 L198.1 393.43 L198.28 394.14 L198.46 394.85 L198.64 395.56 L198.82 396.27 L199 396.97 L199.18 397.68 L199.36 398.38 L199.53 399.09 L199.7 399.79 L199.88 400.5 L200.05 401.2 L200.22 401.9 L200.39 402.6 L200.56 403.31 L200.73 404.01 L200.9 404.71 L201.07 405.4 L201.23 406.1 L201.4 406.8 L201.57 407.5 L201.73 408.19 L201.9 408.89 L202.06 409.59 L202.22 410.28 L202.39 410.97 L202.55 411.67 L202.72 412.36 L202.88 413.05 L203.04 413.74 L203.2 414.43 L203.37 415.12 L203.53 415.81 L203.69 416.5 L203.85 417.19 L204.02 417.88 L204.18 418.56 L204.34 419.25 L204.51 419.93 L204.67 420.62 L204.83 421.3 L205 421.99 L205.16 422.67 L205.33 423.35 L205.49 424.03 L205.66 424.71 L205.82 425.39 L205.99 426.07 L206.16 426.75 L206.33 427.43 L206.5 428.11 L206.67 428.79 L206.84 429.46 L207.01 430.14 L207.18 430.81 L207.35 431.49 L207.53 432.16 L207.7 432.83 L207.88 433.51 L208.05 434.18 L208.23 434.85 L208.41 435.52 L208.59 436.19 L208.77 436.86 L208.96 437.53 L209.14 438.2 L209.33 438.86 L209.51 439.53 L209.7 440.2 L209.89 440.86 L210.08 441.53 L210.28 442.19 L210.47 442.85 L210.67 443.52 L210.87 444.18 L211.06 444.84 L211.27 445.5 L211.47 446.16 L211.67 446.82 L211.88 447.48 L212.09 448.14 L212.3 448.8 L212.51 449.46 L212.73 450.11 L212.95 450.77 L213.17 451.42 L213.39 452.08 L213.61 452.73 L213.84 453.39 L214.06 454.04 L214.3 454.69 L214.53 455.34 L214.76 455.99 L215 456.64 L215.24 457.29 L215.48 457.94 L215.73 458.59 L215.98 459.24 L216.23 459.89 L216.48 460.53 L216.74 461.18 L217 461.82 L217.26 462.47 L217.52 463.11 L217.79 463.76 L218.06 464.4 L218.33 465.04 L218.61 465.68 L218.89 466.33 L219.17 466.97 L219.45 467.61 L219.73 468.25 L220.02 468.89 L220.31 469.53 L220.6 470.16 L220.9 470.8 L221.19 471.44 L221.49 472.08 L221.79 472.72 L222.09 473.35 L222.4 473.99 L222.7 474.62 L223.01 475.26 L223.32 475.9 L223.63 476.53 L223.94 477.17 L224.26 477.8 L224.57 478.44 L224.89 479.07 L225.21 479.7 L225.53 480.34 L225.85 480.97 L226.18 481.61 L226.5 482.24 L226.83 482.87 L227.15 483.51 L227.48 484.14 L227.81 484.78 L228.14 485.41 L228.47 486.04 L228.8 486.68 L229.13 487.31 L229.47 487.94 L229.8 488.58 L230.14 489.21 L230.47 489.84 L230.81 490.48 L231.15 491.11 L231.49 491.75 L231.82 492.38 L232.16 493.01 L232.5 493.65 L232.84 494.28 L233.18 494.92 L233.52 495.55 L233.86 496.19 L234.2 496.83 L234.54 497.46 L234.88 498.1 L235.22 498.73 L235.56 499.37 L235.9 500.01 L236.24 500.65 L236.58 501.28 L236.92 501.92 L237.27 502.55 L237.62 503.18 L237.97 503.8 L238.32 504.42 L238.69 505.02 L239.06 505.62 L239.44 506.21 L239.83 506.78 L240.22 507.34 L240.63 507.89 L241.06 508.41 L241.49 508.92 L241.94 509.42 L242.4 509.89 L242.88 510.34 L243.38 510.77 L243.89 511.17 L244.43 511.55 L244.98 511.9 L245.55 512.21 L246.13 512.49 L246.73 512.72 L247.33 512.9 L247.95 513.03 L248.57 513.1 L249.19 513.1 L249.82 513.04 L250.44 512.9 L251.06 512.7 L251.68 512.45 L252.3 512.14 L252.91 511.79 L253.51 511.39 L254.1 510.96 L254.68 510.5 L255.25 510.01 L255.81 509.5 L256.35 508.98 L256.87 508.44 L257.38 507.9 L257.88 507.35 L258.36 506.79 L258.83 506.23 L259.29 505.67 L259.74 505.11 L260.18 504.54 L260.62 503.97 L261.06 503.4 L261.49 502.84 L261.92 502.28 L262.34 501.72 L262.77 501.16 L263.21 500.61 L263.64 500.07 L264.09 499.53 L264.54 499.01 L264.99 498.49 L265.46 497.99 L265.94 497.49 L266.43 497.01 L266.94 496.54 L267.46 496.09 L268 495.6" fill="none" stroke="#222" stroke-width="1.1" stroke-linejoin="round" />
<path d="M54.8 338.9 L55.05 339.52 L55.38 340.18 L55.72 340.82 L56.07 341.45 L56.42 342.08 L56.78 342.7 L57.15 343.31 L57.53 343.91 L57.91 344.51 L58.3 345.09 L58.69 345.67 L59.1 346.25 L59.51 346.81 L59.92 347.37 L60.34 347.92 L60.77 348.47 L61.21 349 L61.65 349.54 L62.1 350.06 L62.55 350.58 L63.01 351.1 L63.47 351.6 L63.94 352.11 L64.42 352.61 L64.9 353.1 L65.39 353.59 L65.88 354.07 L66.38 354.55 L66.88 355.02 L67.39 355.49 L67.91 355.95 L68.42 356.42 L68.95 356.87 L69.48 357.33 L70.01 357.78 L70.55 358.22 L71.09 358.67 L71.63 359.11 L72.18 359.54 L72.74 359.98 L73.3 360.41 L73.86 360.84 L74.43 361.27 L75 361.7 L75.57 362.12 L76.15 362.54 L76.73 362.96 L77.32 363.38 L77.91 363.8 L78.5 364.21 L79.09 364.62 L79.69 365.03 L80.29 365.43 L80.9 365.83 L81.51 366.22 L82.12 366.6 L82.74 366.98 L83.35 367.34 L83.98 367.7 L84.6 368.05 L85.23 368.38 L85.86 368.71 L86.49 369.02 L87.13 369.32 L87.77 369.6 L88.41 369.87 L89.06 370.13 L89.71 370.37 L90.36 370.59 L91.01 370.79 L91.67 370.98 L92.33 371.15 L92.99 371.29 L93.66 371.42 L94.32 371.53 L94.99 371.62 L95.67 371.69 L96.34 371.73 L97.01 371.76 L97.69 371.77 L98.37 371.75 L99.05 371.72 L99.73 371.66 L100.41 371.59 L101.1 371.49 L101.78 371.37 L102.46 371.23 L103.15 371.07 L103.83 370.88 L104.52 370.67 L105.2 370.45 L105.89 370.2 L106.57 369.92 L107.26 369.63 L107.94 369.31 L108.62 368.98 L109.3 368.63 L109.98 368.28 L110.64 367.93 L111.3 367.6 L111.96 367.28 L112.6 366.99 L113.23 366.73 L113.85 366.51 L114.45 366.33 L115.03 366.21 L115.6 366.15 L116.15 366.16 L116.68 366.25 L117.19 366.42 L117.68 366.67 L118.14 366.99 L118.59 367.38 L119.01 367.83 L119.42 368.34 L119.8 368.9 L120.17 369.5 L120.52 370.14 L120.85 370.8 L121.17 371.49 L121.47 372.19 L121.76 372.91 L122.03 373.63 L122.29 374.34 L122.53 375.06 L122.77 375.77 L122.99 376.48 L123.19 377.19 L123.39 377.9 L123.58 378.61 L123.76 379.31 L123.92 380.02 L124.08 380.72 L124.23 381.42 L124.38 382.12 L124.51 382.81 L124.64 383.51 L124.77 384.2 L124.89 384.9 L125 385.59 L125.11 386.28 L125.21 386.97 L125.32 387.66 L125.42 388.35 L125.52 389.03 L125.61 389.72 L125.71 390.41 L125.81 391.09 L125.9 391.77 L126 392.46 L126.1 393.14 L126.2 393.82 L126.3 394.5 L126.41 395.19 L126.52 395.87 L126.64 396.55 L126.76 397.23 L126.88 397.91 L127.01 398.59 L127.15 399.27 L127.29 399.94 L127.43 400.62 L127.58 401.3 L127.74 401.98 L127.89 402.66 L128.05 403.34 L128.22 404.01 L128.39 404.69 L128.56 405.37 L128.74 406.05 L128.92 406.72 L129.1 407.4 L129.29 408.08 L129.48 408.75 L129.67 409.43 L129.86 410.11 L130.06 410.78 L130.26 411.46 L130.46 412.13 L130.66 412.81 L130.86 413.48 L131.07 414.16 L131.27 414.83 L131.48 415.51 L131.69 416.18 L131.9 416.86 L132.11 417.53 L132.32 418.21 L132.53 418.88 L132.74 419.56 L132.96 420.23 L133.17 420.9 L133.38 421.58 L133.59 422.25 L133.8 422.92 L134.01 423.6 L134.22 424.27 L134.43 424.95 L134.64 425.62 L134.85 426.29 L135.06 426.96 L135.26 427.64 L135.47 428.31 L135.68 428.98 L135.88 429.66 L136.09 430.33 L136.29 431 L136.5 431.67 L136.7 432.35 L136.9 433.02 L137.11 433.69 L137.31 434.36 L137.51 435.04 L137.71 435.71 L137.92 436.38 L138.12 437.05 L138.32 437.72 L138.52 438.4 L138.72 439.07 L138.92 439.74 L139.12 440.41 L139.32 441.08 L139.52 441.75 L139.72 442.42 L139.92 443.1 L140.12 443.77 L140.32 444.44 L140.52 445.11 L140.72 445.78 L140.92 446.45 L141.12 447.12 L141.31 447.79 L141.51 448.47 L141.71 449.14 L141.91 449.81 L142.11 450.48 L142.31 451.15 L142.51 451.82 L142.71 452.49 L142.9 453.16 L143.1 453.83 L143.3 454.5 L143.5 455.17 L143.7 455.84 L143.9 456.51 L144.1 457.19 L144.3 457.86 L144.5 458.53 L144.7 459.2 L144.9 459.87 L145.1 460.54 L145.3 461.21 L145.5 461.88 L145.7 462.55 L145.9 463.22 L146.1 463.89 L146.31 464.56 L146.51 465.23 L146.71 465.9 L146.91 466.57 L147.12 467.24 L147.32 467.91 L147.52 468.58 L147.73 469.25 L147.93 469.92 L148.14 470.59 L148.34 471.26 L148.55 471.93 L148.76 472.6 L148.96 473.27 L149.17 473.94 L149.38 474.61 L149.59 475.28 L149.8 475.95 L150 476.62 L150.21 477.29 L150.43 477.96 L150.64 478.63 L150.85 479.3 L151.06 479.97 L151.27 480.64 L151.49 481.31 L151.7 481.98 L151.92 482.65 L152.13 483.32 L152.35 483.99 L152.57 484.66 L152.79 485.33 L153.01 486.01 L153.23 486.68 L153.45 487.35 L153.67 488.02 L153.89 488.69 L154.11 489.36 L154.34 490.03 L154.56 490.7 L154.79 491.37 L155.01 492.04 L155.25 492.71 L155.48 493.37 L155.72 494.04 L155.96 494.7 L156.21 495.36 L156.46 496.02 L156.72 496.67 L156.99 497.32 L157.26 497.97 L157.54 498.61 L157.83 499.25 L158.13 499.88 L158.44 500.51 L158.76 501.13 L159.09 501.75 L159.43 502.36 L159.78 502.96 L160.15 503.56 L160.53 504.15 L160.92 504.73 L161.33 505.3 L161.75 505.87 L162.19 506.42 L162.64 506.97 L163.12 507.51 L163.6 508.03 L164.11 508.55 L164.63 509.05 L165.17 509.54 L165.72 510 L166.29 510.45 L166.86 510.86 L167.45 511.25 L168.05 511.61 L168.66 511.93 L169.28 512.21 L169.9 512.45 L170.53 512.65 L171.17 512.8 L171.81 512.9 L172.45 512.95 L173.1 512.94 L173.74 512.88 L174.38 512.77 L175.02 512.61 L175.65 512.41 L176.28 512.17 L176.89 511.89 L177.49 511.57 L178.07 511.22 L178.64 510.84 L179.19 510.43 L179.71 510 L180.23 509.54 L180.73 509.06 L181.21 508.55 L181.69 508.01 L182.16 507.45 L182.63 506.87 L183.1 506.26 L183.57 505.62 L184.04 504.97 L184.52 504.29 L185 503.61 L185.47 502.91 L185.95 502.22 L186.43 501.52 L186.91 500.84 L187.38 500.17 L187.86 499.51 L188.33 498.88 L188.8 498.28 L189.27 497.71 L189.73 497.17 L190.19 496.68 L190.64 496.24 L191.09 495.85 L191.53 495.52 L191.96 495.25 L192.39 495.04 L192.81 494.91 L193.22 494.86 L193.63 494.89 L194.02 495 L194.4 495.2 L194.77 495.46 L195.13 495.8 L195.47 496.2 L195.79 496.66 L196.09 497.17 L196.37 497.74 L196.64 498.35 L196.87 499 L197.09 499.68 L197.27 500.4 L197.43 501.14 L197.56 501.9 L197.66 502.67 L197.73 503.46 L197.77 504.26 L197.79 505.06 L197.79 505.86 L197.77 506.67 L197.73 507.47 L197.69 508.27 L197.64 509.06 L197.59 509.84 L197.53 510.61 L197.49 511.36 L197.45 512.09 L197.42 512.8 L197.4 513.49 L197.4 514.15 L197.43 514.78 L197.48 515.37 L197.56 515.94 L197.7 516.5" fill="none" stroke="#222" stroke-width="1.1" stroke-linejoin="round" />
<circle cx="172.5" cy="374.5" r="2.6" fill="#ec5b2b"/>
<circle cx="172.4" cy="513.4" r="2.6" fill="#ec5b2b"/>
<circle cx="246.7" cy="513.6" r="2.6" fill="#ec5b2b"/>
<rect x="54.8" y="0.5" width="213.2" height="255.4" fill="none" stroke="#5e5e5e" stroke-width="1.3"/>
<rect x="54.8" y="260.7" width="213.2" height="255.8" fill="none" stroke="#5e5e5e" stroke-width="1.3"/>
<line x1="102.5" y1="255.9" x2="102.5" y2="252.7" stroke="#5e5e5e" stroke-width="1.1" />
<line x1="102.5" y1="516.5" x2="102.5" y2="513.3" stroke="#5e5e5e" stroke-width="1.1" />
<line x1="102.5" y1="260.7" x2="102.5" y2="263.9" stroke="#5e5e5e" stroke-width="1.1" />
<line x1="156" y1="255.9" x2="156" y2="252.7" stroke="#5e5e5e" stroke-width="1.1" />
<line x1="156" y1="516.5" x2="156" y2="513.3" stroke="#5e5e5e" stroke-width="1.1" />
<line x1="156" y1="260.7" x2="156" y2="263.9" stroke="#5e5e5e" stroke-width="1.1" />
<line x1="209.4" y1="255.9" x2="209.4" y2="252.7" stroke="#5e5e5e" stroke-width="1.1" />
<line x1="209.4" y1="516.5" x2="209.4" y2="513.3" stroke="#5e5e5e" stroke-width="1.1" />
<line x1="209.4" y1="260.7" x2="209.4" y2="263.9" stroke="#5e5e5e" stroke-width="1.1" />
<line x1="262.7" y1="255.9" x2="262.7" y2="252.7" stroke="#5e5e5e" stroke-width="1.1" />
<line x1="262.7" y1="516.5" x2="262.7" y2="513.3" stroke="#5e5e5e" stroke-width="1.1" />
<line x1="262.7" y1="260.7" x2="262.7" y2="263.9" stroke="#5e5e5e" stroke-width="1.1" />
<line x1="54.8" y1="48.9" x2="58" y2="48.9" stroke="#5e5e5e" stroke-width="1.1" />
<line x1="268" y1="48.9" x2="264.8" y2="48.9" stroke="#5e5e5e" stroke-width="1.1" />
<line x1="54.8" y1="109.9" x2="58" y2="109.9" stroke="#5e5e5e" stroke-width="1.1" />
<line x1="268" y1="109.9" x2="264.8" y2="109.9" stroke="#5e5e5e" stroke-width="1.1" />
<line x1="54.8" y1="170.9" x2="58" y2="170.9" stroke="#5e5e5e" stroke-width="1.1" />
<line x1="268" y1="170.9" x2="264.8" y2="170.9" stroke="#5e5e5e" stroke-width="1.1" />
<line x1="54.8" y1="231.9" x2="58" y2="231.9" stroke="#5e5e5e" stroke-width="1.1" />
<line x1="268" y1="231.9" x2="264.8" y2="231.9" stroke="#5e5e5e" stroke-width="1.1" />
<line x1="54.8" y1="498.45" x2="56.6" y2="498.45" stroke="#5e5e5e" stroke-width="1.0" />
<line x1="268" y1="498.45" x2="266.2" y2="498.45" stroke="#5e5e5e" stroke-width="1.0" />
<line x1="54.8" y1="485.06" x2="56.6" y2="485.06" stroke="#5e5e5e" stroke-width="1.0" />
<line x1="268" y1="485.06" x2="266.2" y2="485.06" stroke="#5e5e5e" stroke-width="1.0" />
<line x1="54.8" y1="474.67" x2="58" y2="474.67" stroke="#5e5e5e" stroke-width="1.0" />
<line x1="268" y1="474.67" x2="264.8" y2="474.67" stroke="#5e5e5e" stroke-width="1.0" />
<line x1="54.8" y1="466.18" x2="56.6" y2="466.18" stroke="#5e5e5e" stroke-width="1.0" />
<line x1="268" y1="466.18" x2="266.2" y2="466.18" stroke="#5e5e5e" stroke-width="1.0" />
<line x1="54.8" y1="459.01" x2="56.6" y2="459.01" stroke="#5e5e5e" stroke-width="1.0" />
<line x1="268" y1="459.01" x2="266.2" y2="459.01" stroke="#5e5e5e" stroke-width="1.0" />
<line x1="54.8" y1="452.79" x2="56.6" y2="452.79" stroke="#5e5e5e" stroke-width="1.0" />
<line x1="268" y1="452.79" x2="266.2" y2="452.79" stroke="#5e5e5e" stroke-width="1.0" />
<line x1="54.8" y1="447.31" x2="56.6" y2="447.31" stroke="#5e5e5e" stroke-width="1.0" />
<line x1="268" y1="447.31" x2="266.2" y2="447.31" stroke="#5e5e5e" stroke-width="1.0" />
<line x1="54.8" y1="442.4" x2="58" y2="442.4" stroke="#5e5e5e" stroke-width="1.0" />
<line x1="268" y1="442.4" x2="264.8" y2="442.4" stroke="#5e5e5e" stroke-width="1.0" />
<line x1="54.8" y1="410.13" x2="56.6" y2="410.13" stroke="#5e5e5e" stroke-width="1.0" />
<line x1="268" y1="410.13" x2="266.2" y2="410.13" stroke="#5e5e5e" stroke-width="1.0" />
<line x1="54.8" y1="391.25" x2="56.6" y2="391.25" stroke="#5e5e5e" stroke-width="1.0" />
<line x1="268" y1="391.25" x2="266.2" y2="391.25" stroke="#5e5e5e" stroke-width="1.0" />
<line x1="54.8" y1="377.86" x2="56.6" y2="377.86" stroke="#5e5e5e" stroke-width="1.0" />
<line x1="268" y1="377.86" x2="266.2" y2="377.86" stroke="#5e5e5e" stroke-width="1.0" />
<line x1="54.8" y1="367.47" x2="58" y2="367.47" stroke="#5e5e5e" stroke-width="1.0" />
<line x1="268" y1="367.47" x2="264.8" y2="367.47" stroke="#5e5e5e" stroke-width="1.0" />
<line x1="54.8" y1="358.98" x2="56.6" y2="358.98" stroke="#5e5e5e" stroke-width="1.0" />
<line x1="268" y1="358.98" x2="266.2" y2="358.98" stroke="#5e5e5e" stroke-width="1.0" />
<line x1="54.8" y1="351.81" x2="56.6" y2="351.81" stroke="#5e5e5e" stroke-width="1.0" />
<line x1="268" y1="351.81" x2="266.2" y2="351.81" stroke="#5e5e5e" stroke-width="1.0" />
<line x1="54.8" y1="345.59" x2="56.6" y2="345.59" stroke="#5e5e5e" stroke-width="1.0" />
<line x1="268" y1="345.59" x2="266.2" y2="345.59" stroke="#5e5e5e" stroke-width="1.0" />
<line x1="54.8" y1="340.11" x2="56.6" y2="340.11" stroke="#5e5e5e" stroke-width="1.0" />
<line x1="268" y1="340.11" x2="266.2" y2="340.11" stroke="#5e5e5e" stroke-width="1.0" />
<line x1="54.8" y1="335.2" x2="58" y2="335.2" stroke="#5e5e5e" stroke-width="1.0" />
<line x1="268" y1="335.2" x2="264.8" y2="335.2" stroke="#5e5e5e" stroke-width="1.0" />
<line x1="54.8" y1="302.93" x2="56.6" y2="302.93" stroke="#5e5e5e" stroke-width="1.0" />
<line x1="268" y1="302.93" x2="266.2" y2="302.93" stroke="#5e5e5e" stroke-width="1.0" />
<line x1="54.8" y1="284.05" x2="56.6" y2="284.05" stroke="#5e5e5e" stroke-width="1.0" />
<line x1="268" y1="284.05" x2="266.2" y2="284.05" stroke="#5e5e5e" stroke-width="1.0" />
<line x1="54.8" y1="270.66" x2="56.6" y2="270.66" stroke="#5e5e5e" stroke-width="1.0" />
<line x1="268" y1="270.66" x2="266.2" y2="270.66" stroke="#5e5e5e" stroke-width="1.0" />
<g font-family="Liberation Sans, sans-serif" fill="#111" stroke="#111" stroke-width="0.1">
<text x="14.5" y="11.8" font-size="14.5" textLength="18.5" lengthAdjust="spacingAndGlyphs" >(a)</text>
<text x="13.7" y="271.5" font-size="14.5" textLength="19.8" lengthAdjust="spacingAndGlyphs" >(b)</text>
<text x="356.1" y="11.8" font-size="14.5" textLength="18.5" lengthAdjust="spacingAndGlyphs" >(c)</text>
<text x="51" y="53.2" font-size="10" text-anchor="end" textLength="21.8" lengthAdjust="spacingAndGlyphs" >1.25</text>
<text x="51" y="114.2" font-size="10" text-anchor="end" textLength="6" lengthAdjust="spacingAndGlyphs" >1</text>
<text x="51" y="175.2" font-size="10" text-anchor="end" textLength="21.8" lengthAdjust="spacingAndGlyphs" >0.75</text>
<text x="51" y="236.2" font-size="10" text-anchor="end" textLength="14.5" lengthAdjust="spacingAndGlyphs" >0.5</text>
<text x="50" y="338.9" font-size="10" text-anchor="end" textLength="14.5" lengthAdjust="spacingAndGlyphs" >0.1</text>
<text x="50" y="371.3" font-size="10" text-anchor="end" textLength="21.5" lengthAdjust="spacingAndGlyphs" >0.05</text>
<text x="50" y="446" font-size="10" text-anchor="end" textLength="21.2" lengthAdjust="spacingAndGlyphs" >0.01</text>
<text x="50" y="477.8" font-size="10" text-anchor="end" textLength="27.3" lengthAdjust="spacingAndGlyphs" >0.005</text>
<text x="50" y="520.2" font-size="10" text-anchor="end" textLength="27" lengthAdjust="spacingAndGlyphs" >0.001</text>
<text x="102" y="530.7" font-size="10" text-anchor="middle" textLength="29" lengthAdjust="spacingAndGlyphs" >0.125</text>
<text x="156" y="530.7" font-size="10" text-anchor="middle" textLength="21.5" lengthAdjust="spacingAndGlyphs" >0.25</text>
<text x="209.2" y="530.7" font-size="10" text-anchor="middle" textLength="27.8" lengthAdjust="spacingAndGlyphs" >0.375</text>
<text x="263" y="530.7" font-size="10" text-anchor="middle" textLength="14.1" lengthAdjust="spacingAndGlyphs" >0.5</text>
<text x="161.2" y="549.2" font-size="11.5" text-anchor="middle" textLength="149" lengthAdjust="spacingAndGlyphs" >Cladding thickness d [μm]</text>
<text transform="translate(13.4,219.3) rotate(-90)" font-size="12" textLength="123.6" lengthAdjust="spacingAndGlyphs">Effective mode index n</text>
<text transform="translate(16.3,94.8) rotate(-90)" font-size="8.5" textLength="8.2" lengthAdjust="spacingAndGlyphs">eff</text>
<text transform="translate(13.4,85) rotate(-90)" font-size="12" textLength="45.8" lengthAdjust="spacingAndGlyphs">=Re(β)/k</text>
<text transform="translate(16.3,39.2) rotate(-90)" font-size="8.5" textLength="11.2" lengthAdjust="spacingAndGlyphs">s,0</text>
<text transform="translate(8,36) rotate(-90)" font-size="8.5" textLength="9" lengthAdjust="spacingAndGlyphs">(1)</text>
<text transform="translate(13.4,428.9) rotate(-90)" font-size="12" textLength="68" lengthAdjust="spacingAndGlyphs">Loss Im(β)/k</text>
<text transform="translate(16.3,361.2) rotate(-90)" font-size="8.5" textLength="12.5" lengthAdjust="spacingAndGlyphs">s,0</text>
<text transform="translate(8,357) rotate(-90)" font-size="8.5" textLength="8.5" lengthAdjust="spacingAndGlyphs">(1)</text>
<text x="279.4" y="20.6" font-size="11.5" textLength="8" lengthAdjust="spacingAndGlyphs" >V</text>
<text x="287.4" y="23.8" font-size="10.5" textLength="5" lengthAdjust="spacingAndGlyphs" font-style="italic" >s</text>
<text x="288.4" y="15.3" font-size="8" textLength="10.8" lengthAdjust="spacingAndGlyphs" >(2)</text>
<text x="279.4" y="103.8" font-size="11.5" textLength="8" lengthAdjust="spacingAndGlyphs" >V</text>
<text x="287.4" y="106.8" font-size="10.5" textLength="5" lengthAdjust="spacingAndGlyphs" font-style="italic" >s</text>
<text x="288.4" y="97.9" font-size="8" textLength="10.8" lengthAdjust="spacingAndGlyphs" >(1)</text>
<text x="285.7" y="64" font-size="10.5" textLength="73.4" lengthAdjust="spacingAndGlyphs" font-style="italic" >conventional S</text>
<text x="285.9" y="142.7" font-size="10.5" textLength="36" lengthAdjust="spacingAndGlyphs" font-style="italic" >leaky S</text>
<text x="82" y="208.1" font-size="10.5" textLength="25.8" lengthAdjust="spacingAndGlyphs" font-style="italic" >m=0</text>
<text x="142.5" y="208.1" font-size="10.5" textLength="24.3" lengthAdjust="spacingAndGlyphs" font-style="italic" >m=1</text>
<text x="201.7" y="208.1" font-size="10.5" textLength="25.7" lengthAdjust="spacingAndGlyphs" font-style="italic" >m=2</text>
<text x="153" y="92" font-size="13.5" >A</text>
<text x="238" y="88.4" font-size="13.5" >B</text>
<text x="174.2" y="108.5" font-size="13.5" >C</text>
<text x="176" y="143" font-size="13.5" >D</text>
<text x="240.2" y="126.5" font-size="13.5" >E</text>
<text x="162.6" y="388.4" font-size="13.5" >D</text>
<text x="167.5" y="505.6" font-size="13.5" >C</text>
<text x="242.6" y="505.6" font-size="13.5" >E</text>
</g>
<rect x="435.9" y="29.3" width="27.7" height="94" fill="#dcdcdc"/>
<rect x="561.9" y="29.3" width="27.7" height="94" fill="#dcdcdc"/>
<path d="M395.2 119.25 L395.45 119.18 L395.7 119.11 L395.95 119.04 L396.2 118.97 L396.45 118.89 L396.7 118.82 L396.95 118.74 L397.2 118.67 L397.45 118.59 L397.7 118.51 L397.95 118.43 L398.2 118.35 L398.45 118.26 L398.7 118.18 L398.95 118.09 L399.2 118.01 L399.45 117.92 L399.7 117.83 L399.95 117.73 L400.2 117.64 L400.45 117.55 L400.7 117.45 L400.95 117.35 L401.2 117.25 L401.45 117.15 L401.7 117.05 L401.95 116.94 L402.2 116.83 L402.45 116.72 L402.7 116.61 L402.95 116.5 L403.2 116.39 L403.45 116.27 L403.7 116.15 L403.95 116.03 L404.2 115.91 L404.45 115.79 L404.7 115.66 L404.95 115.53 L405.2 115.4 L405.45 115.27 L405.7 115.13 L405.95 115 L406.2 114.86 L406.45 114.71 L406.7 114.57 L406.95 114.42 L407.2 114.27 L407.45 114.12 L407.7 113.97 L407.95 113.81 L408.2 113.65 L408.45 113.49 L408.7 113.32 L408.95 113.16 L409.2 112.99 L409.45 112.81 L409.7 112.64 L409.95 112.46 L410.2 112.27 L410.45 112.09 L410.7 111.9 L410.95 111.71 L411.2 111.51 L411.45 111.32 L411.7 111.11 L411.95 110.91 L412.2 110.7 L412.45 110.49 L412.7 110.27 L412.95 110.05 L413.2 109.83 L413.45 109.61 L413.7 109.38 L413.95 109.14 L414.2 108.9 L414.45 108.66 L414.7 108.41 L414.95 108.16 L415.2 107.91 L415.45 107.65 L415.7 107.39 L415.95 107.12 L416.2 106.85 L416.45 106.57 L416.7 106.29 L416.95 106 L417.2 105.71 L417.45 105.42 L417.7 105.12 L417.95 104.81 L418.2 104.5 L418.45 104.18 L418.7 103.86 L418.95 103.54 L419.2 103.2 L419.45 102.87 L419.7 102.52 L419.95 102.17 L420.2 101.82 L420.45 101.46 L420.7 101.09 L420.95 100.72 L421.2 100.34 L421.45 99.95 L421.7 99.56 L421.95 99.16 L422.2 98.75 L422.45 98.34 L422.7 97.92 L422.95 97.49 L423.2 97.06 L423.45 96.62 L423.7 96.17 L423.95 95.71 L424.2 95.25 L424.45 94.78 L424.7 94.3 L424.95 93.81 L425.2 93.31 L425.45 92.81 L425.7 92.3 L425.95 91.78 L426.2 91.25 L426.45 90.71 L426.7 90.16 L426.95 89.6 L427.2 89.04 L427.45 88.46 L427.7 87.87 L427.95 87.28 L428.2 86.67 L428.45 86.06 L428.7 85.43 L428.95 84.79 L429.2 84.15 L429.45 83.49 L429.7 82.82 L429.95 82.14 L430.2 81.45 L430.45 80.74 L430.7 80.03 L430.95 79.3 L431.2 78.56 L431.45 77.81 L431.7 77.04 L431.95 76.26 L432.2 75.47 L432.45 74.67 L432.7 73.85 L432.95 73.02 L433.2 72.17 L433.45 71.31 L433.7 70.44 L433.95 69.55 L434.2 68.65 L434.45 67.73 L434.7 66.79 L434.95 65.84 L435.2 64.88 L435.45 63.89 L435.7 62.9 L435.95 61.76 L436.2 60.2 L436.45 58.71 L436.7 57.29 L436.95 55.94 L437.2 54.67 L437.45 53.48 L437.7 52.36 L437.95 51.32 L438.2 50.37 L438.45 49.49 L438.7 48.7 L438.95 47.99 L439.2 47.36 L439.45 46.82 L439.7 46.36 L439.95 45.99 L440.2 45.71 L440.45 45.51 L440.7 45.4 L440.95 45.38 L441.2 45.48 L441.45 45.71 L441.7 46.08 L441.95 46.58 L442.2 47.22 L442.45 47.99 L442.7 48.89 L442.95 49.92 L443.2 51.08 L443.45 52.37 L443.7 53.77 L443.95 55.3 L444.2 56.95 L444.45 58.72 L444.7 60.59 L444.95 62.58 L445.2 64.67 L445.45 66.86 L445.7 69.15 L445.95 71.54 L446.2 74.02 L446.45 76.58 L446.7 79.22 L446.95 81.94 L447.2 84.74 L447.45 87.6 L447.7 90.52 L447.95 93.5 L448.2 96.53 L448.45 99.61 L448.7 102.73 L448.95 105.88 L449.2 109.07 L449.45 112.28 L449.7 115.5 L449.95 118.75 L450.2 122 L450.45 121.35 L450.7 118.1 L450.95 114.86 L451.2 111.63 L451.45 108.43 L451.7 105.25 L451.95 102.1 L452.2 98.99 L452.45 95.92 L452.7 92.9 L452.95 89.93 L453.2 87.02 L453.45 84.17 L453.7 81.39 L453.95 78.69 L454.2 76.06 L454.45 73.51 L454.7 71.06 L454.95 68.69 L455.2 66.42 L455.45 64.24 L455.7 62.17 L455.95 60.21 L456.2 58.35 L456.45 56.61 L456.7 54.99 L456.95 53.48 L457.2 52.1 L457.45 50.84 L457.7 49.71 L457.95 48.7 L458.2 47.83 L458.45 47.08 L458.7 46.47 L458.95 45.99 L459.2 45.65 L459.45 45.45 L459.7 45.37 L459.95 45.42 L460.2 45.54 L460.45 45.76 L460.7 46.06 L460.95 46.45 L461.2 46.92 L461.45 47.48 L461.7 48.12 L461.95 48.85 L462.2 49.66 L462.45 50.55 L462.7 51.53 L462.95 52.58 L463.2 53.71 L463.45 54.92 L463.7 56.12 L463.95 57.21 L464.2 58.28 L464.45 59.33 L464.7 60.37 L464.95 61.39 L465.2 62.39 L465.45 63.37 L465.7 64.34 L465.95 65.3 L466.2 66.23 L466.45 67.16 L466.7 68.06 L466.95 68.96 L467.2 69.84 L467.45 70.7 L467.7 71.55 L467.95 72.39 L468.2 73.21 L468.45 74.02 L468.7 74.81 L468.95 75.59 L469.2 76.36 L469.45 77.12 L469.7 77.87 L469.95 78.6 L470.2 79.32 L470.45 80.03 L470.7 80.73 L470.95 81.41 L471.2 82.09 L471.45 82.75 L471.7 83.4 L471.95 84.04 L472.2 84.68 L472.45 85.3 L472.7 85.91 L472.95 86.51 L473.2 87.1 L473.45 87.68 L473.7 88.25 L473.95 88.82 L474.2 89.37 L474.45 89.91 L474.7 90.45 L474.95 90.97 L475.2 91.49 L475.45 92 L475.7 92.5 L475.95 92.99 L476.2 93.48 L476.45 93.95 L476.7 94.42 L476.95 94.88 L477.2 95.34 L477.45 95.78 L477.7 96.22 L477.95 96.65 L478.2 97.07 L478.45 97.49 L478.7 97.9 L478.95 98.3 L479.2 98.7 L479.45 99.09 L479.7 99.47 L479.95 99.85 L480.2 100.22 L480.45 100.59 L480.7 100.94 L480.95 101.3 L481.2 101.64 L481.45 101.98 L481.7 102.32 L481.95 102.65 L482.2 102.97 L482.45 103.29 L482.7 103.6 L482.95 103.91 L483.2 104.21 L483.45 104.51 L483.7 104.8 L483.95 105.09 L484.2 105.37 L484.45 105.65 L484.7 105.92 L484.95 106.19 L485.2 106.45 L485.45 106.71 L485.7 106.97 L485.95 107.22 L486.2 107.46 L486.45 107.7 L486.7 107.94 L486.95 108.18 L487.2 108.4 L487.45 108.63 L487.7 108.85 L487.95 109.07 L488.2 109.28 L488.45 109.49 L488.7 109.7 L488.95 109.9 L489.2 110.1 L489.45 110.3 L489.7 110.49 L489.95 110.68 L490.2 110.86 L490.45 111.04 L490.7 111.22 L490.95 111.4 L491.2 111.57 L491.45 111.74 L491.7 111.9 L491.95 112.07 L492.2 112.23 L492.45 112.38 L492.7 112.54 L492.95 112.69 L493.2 112.84 L493.45 112.98 L493.7 113.13 L493.95 113.26 L494.2 113.4 L494.45 113.54 L494.7 113.67 L494.95 113.8 L495.2 113.92 L495.45 114.05 L495.7 114.17 L495.95 114.29 L496.2 114.41 L496.45 114.52 L496.7 114.63 L496.95 114.74 L497.2 114.85 L497.45 114.96 L497.7 115.06 L497.95 115.16 L498.2 115.26 L498.45 115.36 L498.7 115.45 L498.95 115.54 L499.2 115.63 L499.45 115.72 L499.7 115.81 L499.95 115.89 L500.2 115.97 L500.45 116.05 L500.7 116.13 L500.95 116.21 L501.2 116.28 L501.45 116.35 L501.7 116.43 L501.95 116.49 L502.2 116.56 L502.45 116.63 L502.7 116.69 L502.95 116.75 L503.2 116.81 L503.45 116.87 L503.7 116.93 L503.95 116.98 L504.2 117.03 L504.45 117.08 L504.7 117.13 L504.95 117.18 L505.2 117.23 L505.45 117.27 L505.7 117.32 L505.95 117.36 L506.2 117.4 L506.45 117.44 L506.7 117.47 L506.95 117.51 L507.2 117.54 L507.45 117.57 L507.7 117.6 L507.95 117.63 L508.2 117.66 L508.45 117.69 L508.7 117.71 L508.95 117.73 L509.2 117.76 L509.45 117.78 L509.7 117.79 L509.95 117.81 L510.2 117.83 L510.45 117.84 L510.7 117.85 L510.95 117.86 L511.2 117.87 L511.45 117.88 L511.7 117.89 L511.95 117.89 L512.2 117.9 L512.45 117.9 L512.7 117.9 L512.95 117.9 L513.2 117.9 L513.45 117.9 L513.7 117.89 L513.95 117.89 L514.2 117.88 L514.45 117.87 L514.7 117.86 L514.95 117.85 L515.2 117.83 L515.45 117.82 L515.7 117.8 L515.95 117.78 L516.2 117.76 L516.45 117.74 L516.7 117.72 L516.95 117.7 L517.2 117.67 L517.45 117.64 L517.7 117.62 L517.95 117.59 L518.2 117.55 L518.45 117.52 L518.7 117.49 L518.95 117.45 L519.2 117.41 L519.45 117.37 L519.7 117.33 L519.95 117.29 L520.2 117.25 L520.45 117.2 L520.7 117.15 L520.95 117.1 L521.2 117.05 L521.45 117 L521.7 116.95 L521.95 116.89 L522.2 116.83 L522.45 116.78 L522.7 116.71 L522.95 116.65 L523.2 116.59 L523.45 116.52 L523.7 116.45 L523.95 116.38 L524.2 116.31 L524.45 116.24 L524.7 116.16 L524.95 116.08 L525.2 116.01 L525.45 115.92 L525.7 115.84 L525.95 115.76 L526.2 115.67 L526.45 115.58 L526.7 115.49 L526.95 115.39 L527.2 115.3 L527.45 115.2 L527.7 115.1 L527.95 115 L528.2 114.89 L528.45 114.79 L528.7 114.68 L528.95 114.57 L529.2 114.45 L529.45 114.34 L529.7 114.22 L529.95 114.1 L530.2 113.97 L530.45 113.85 L530.7 113.72 L530.95 113.59 L531.2 113.46 L531.45 113.32 L531.7 113.18 L531.95 113.04 L532.2 112.9 L532.45 112.75 L532.7 112.6 L532.95 112.45 L533.2 112.29 L533.45 112.13 L533.7 111.97 L533.95 111.81 L534.2 111.64 L534.45 111.47 L534.7 111.29 L534.95 111.12 L535.2 110.94 L535.45 110.75 L535.7 110.56 L535.95 110.37 L536.2 110.18 L536.45 109.98 L536.7 109.78 L536.95 109.58 L537.2 109.37 L537.45 109.16 L537.7 108.94 L537.95 108.72 L538.2 108.5 L538.45 108.27 L538.7 108.04 L538.95 107.8 L539.2 107.56 L539.45 107.32 L539.7 107.07 L539.95 106.81 L540.2 106.56 L540.45 106.3 L540.7 106.03 L540.95 105.76 L541.2 105.48 L541.45 105.2 L541.7 104.92 L541.95 104.63 L542.2 104.33 L542.45 104.03 L542.7 103.73 L542.95 103.41 L543.2 103.1 L543.45 102.78 L543.7 102.45 L543.95 102.12 L544.2 101.78 L544.45 101.44 L544.7 101.09 L544.95 100.73 L545.2 100.37 L545.45 100 L545.7 99.63 L545.95 99.24 L546.2 98.86 L546.45 98.46 L546.7 98.06 L546.95 97.66 L547.2 97.24 L547.45 96.82 L547.7 96.39 L547.95 95.96 L548.2 95.52 L548.45 95.07 L548.7 94.61 L548.95 94.14 L549.2 93.67 L549.45 93.19 L549.7 92.7 L549.95 92.2 L550.2 91.7 L550.45 91.18 L550.7 90.66 L550.95 90.13 L551.2 89.59 L551.45 89.04 L551.7 88.48 L551.95 87.91 L552.2 87.33 L552.45 86.75 L552.7 86.15 L552.95 85.54 L553.2 84.93 L553.45 84.3 L553.7 83.66 L553.95 83.01 L554.2 82.35 L554.45 81.68 L554.7 81 L554.95 80.31 L555.2 79.6 L555.45 78.89 L555.7 78.16 L555.95 77.42 L556.2 76.67 L556.45 75.9 L556.7 75.13 L556.95 74.34 L557.2 73.53 L557.45 72.72 L557.7 71.89 L557.95 71.04 L558.2 70.18 L558.45 69.31 L558.7 68.42 L558.95 67.52 L559.2 66.61 L559.45 65.67 L559.7 64.73 L559.95 63.76 L560.2 62.78 L560.45 61.79 L560.7 60.78 L560.95 59.75 L561.2 58.7 L561.45 57.64 L561.7 56.56 L561.95 55.43 L562.2 54.19 L562.45 53.02 L562.7 51.94 L562.95 50.93 L563.2 50.01 L563.45 49.16 L563.7 48.4 L563.95 47.73 L564.2 47.13 L564.45 46.63 L564.7 46.2 L564.95 45.87 L565.2 45.62 L565.45 45.46 L565.7 45.38 L565.95 45.4 L566.2 45.55 L566.45 45.84 L566.7 46.26 L566.95 46.82 L567.2 47.51 L567.45 48.33 L567.7 49.29 L567.95 50.37 L568.2 51.58 L568.45 52.91 L568.7 54.37 L568.95 55.95 L569.2 57.64 L569.45 59.45 L569.7 61.37 L569.95 63.4 L570.2 65.53 L570.45 67.77 L570.7 70.1 L570.95 72.52 L571.2 75.03 L571.45 77.63 L571.7 80.3 L571.95 83.05 L572.2 85.87 L572.45 88.76 L572.7 91.7 L572.95 94.7 L573.2 97.75 L573.45 100.85 L573.7 103.98 L573.95 107.15 L574.2 110.35 L574.45 113.57 L574.7 116.8 L574.95 120.05 L575.2 123.3 L575.45 120.05 L575.7 116.8 L575.95 113.57 L576.2 110.35 L576.45 107.15 L576.7 103.98 L576.95 100.85 L577.2 97.75 L577.45 94.7 L577.7 91.7 L577.95 88.76 L578.2 85.87 L578.45 83.05 L578.7 80.3 L578.95 77.63 L579.2 75.03 L579.45 72.52 L579.7 70.1 L579.95 67.77 L580.2 65.53 L580.45 63.4 L580.7 61.37 L580.95 59.45 L581.2 57.64 L581.45 55.95 L581.7 54.37 L581.95 52.91 L582.2 51.58 L582.45 50.37 L582.7 49.29 L582.95 48.33 L583.2 47.51 L583.45 46.82 L583.7 46.26 L583.95 45.84 L584.2 45.55 L584.45 45.4 L584.7 45.38 L584.95 45.46 L585.2 45.62 L585.45 45.87 L585.7 46.2 L585.95 46.63 L586.2 47.13 L586.45 47.73 L586.7 48.4 L586.95 49.16 L587.2 50.01 L587.45 50.93 L587.7 51.94 L587.95 53.02 L588.2 54.19 L588.45 55.43 L588.7 56.74 L588.95 58.13 L589.2 59.6 L589.45 61.13 L589.7 62.49 L589.95 63.5 L590.2 64.49 L590.45 65.46 L590.7 66.42 L590.95 67.36 L591.2 68.28 L591.45 69.19 L591.7 70.09 L591.95 70.97 L592.2 71.83 L592.45 72.68 L592.7 73.52 L592.95 74.34 L593.2 75.15 L593.45 75.95 L593.7 76.73 L593.95 77.5 L594.2 78.26 L594.45 79 L594.7 79.74 L594.95 80.46 L595.2 81.17 L595.45 81.86 L595.7 82.55 L595.95 83.22 L596.2 83.88 L596.45 84.54 L596.7 85.18 L596.95 85.81 L597.2 86.43 L597.45 87.04 L597.7 87.64 L597.95 88.23 L598.2 88.81 L598.45 89.38 L598.7 89.94 L598.95 90.49 L599.2 91.03 L599.45 91.57 L599.7 92.09 L599.95 92.61 L600.2 93.11 L600.45 93.61 L600.7 94.1 L600.95 94.59 L601.2 95.06 L601.45 95.53 L601.7 95.99 L601.95 96.44 L602.2 96.88 L602.45 97.32 L602.7 97.75 L602.95 98.17 L603.2 98.59 L603.45 99 L603.7 99.4 L603.95 99.79 L604.2 100.18 L604.45 100.57 L604.7 100.94 L604.95 101.31 L605.2 101.67 L605.45 102.03 L605.7 102.38 L605.95 102.73 L606.2 103.07 L606.45 103.4 L606.7 103.73 L606.95 104.06 L607.2 104.38 L607.45 104.69 L607.7 105 L607.95 105.3 L608.2 105.6 L608.45 105.89 L608.7 106.18 L608.95 106.46 L609.2 106.74 L609.45 107.01 L609.7 107.28 L609.95 107.55 L610.2 107.81 L610.45 108.06 L610.7 108.32 L610.95 108.56 L611.2 108.81 L611.45 109.05 L611.7 109.28 L611.95 109.51 L612.2 109.74 L612.45 109.97 L612.7 110.19 L612.95 110.4 L613.2 110.62 L613.45 110.83 L613.7 111.03 L613.95 111.24 L614.2 111.44 L614.45 111.63 L614.7 111.82 L614.95 112.01 L615.2 112.2 L615.45 112.38 L615.7 112.56 L615.95 112.74 L616.2 112.92 L616.45 113.09 L616.7 113.26 L616.95 113.42 L617.2 113.59 L617.45 113.75 L617.7 113.91 L617.95 114.06 L618.2 114.21 L618.45 114.36 L618.7 114.51 L618.95 114.66 L619.2 114.8 L619.45 114.94 L619.7 115.08 L619.95 115.21 L620.2 115.35 L620.45 115.48 L620.7 115.61 L620.95 115.74 L621.2 115.86 L621.45 115.98 L621.7 116.11 L621.95 116.22 L622.2 116.34 L622.45 116.46 L622.7 116.57 L622.95 116.68 L623.2 116.79 L623.45 116.9 L623.7 117 L623.95 117.11 L624.2 117.21 L624.45 117.31 L624.7 117.41 L624.95 117.51 L625.2 117.6 L625.45 117.7 L625.7 117.79 L625.95 117.88 L626.2 117.97 L626.45 118.06 L626.7 118.15 L626.95 118.23 L627.2 118.31 L627.45 118.4 L627.7 118.48 L627.95 118.56 L628.2 118.64 L628.45 118.71 L628.7 118.79 L628.95 118.86 L629.2 118.94 L629.45 119.01 L629.7 119.08 L629.95 119.15 L630.2 119.22 L630.45 119.29 L630.7 119.35" fill="none" stroke="#e69c25" stroke-width="1.5" stroke-linejoin="round" />
<rect x="395.2" y="29.3" width="235.5" height="94" fill="none" stroke="#5e5e5e" stroke-width="1.3"/>
<line x1="435.9" y1="29.3" x2="435.9" y2="32.5" stroke="#5e5e5e" stroke-width="1.1" />
<line x1="435.9" y1="123.3" x2="435.9" y2="120.1" stroke="#5e5e5e" stroke-width="1.1" />
<line x1="463.6" y1="29.3" x2="463.6" y2="32.5" stroke="#5e5e5e" stroke-width="1.1" />
<line x1="463.6" y1="123.3" x2="463.6" y2="120.1" stroke="#5e5e5e" stroke-width="1.1" />
<line x1="512.75" y1="29.3" x2="512.75" y2="32.5" stroke="#5e5e5e" stroke-width="1.1" />
<line x1="512.75" y1="123.3" x2="512.75" y2="120.1" stroke="#5e5e5e" stroke-width="1.1" />
<line x1="561.9" y1="29.3" x2="561.9" y2="32.5" stroke="#5e5e5e" stroke-width="1.1" />
<line x1="561.9" y1="123.3" x2="561.9" y2="120.1" stroke="#5e5e5e" stroke-width="1.1" />
<line x1="589.6" y1="29.3" x2="589.6" y2="32.5" stroke="#5e5e5e" stroke-width="1.1" />
<line x1="589.6" y1="123.3" x2="589.6" y2="120.1" stroke="#5e5e5e" stroke-width="1.1" />
<line x1="395.2" y1="104.5" x2="398.4" y2="104.5" stroke="#5e5e5e" stroke-width="1.1" />
<line x1="630.7" y1="104.5" x2="627.5" y2="104.5" stroke="#5e5e5e" stroke-width="1.1" />
<line x1="395.2" y1="85.7" x2="398.4" y2="85.7" stroke="#5e5e5e" stroke-width="1.1" />
<line x1="630.7" y1="85.7" x2="627.5" y2="85.7" stroke="#5e5e5e" stroke-width="1.1" />
<line x1="395.2" y1="66.9" x2="398.4" y2="66.9" stroke="#5e5e5e" stroke-width="1.1" />
<line x1="630.7" y1="66.9" x2="627.5" y2="66.9" stroke="#5e5e5e" stroke-width="1.1" />
<line x1="395.2" y1="48.1" x2="398.4" y2="48.1" stroke="#5e5e5e" stroke-width="1.1" />
<line x1="630.7" y1="48.1" x2="627.5" y2="48.1" stroke="#5e5e5e" stroke-width="1.1" />
<rect x="418.3" y="126.8" width="45.3" height="94" fill="#dcdcdc"/>
<rect x="561.9" y="126.8" width="45.3" height="94" fill="#dcdcdc"/>
<path d="M395.2 207.56 L395.45 207.34 L395.7 207.12 L395.95 206.89 L396.2 206.65 L396.45 206.42 L396.7 206.17 L396.95 205.93 L397.2 205.68 L397.45 205.42 L397.7 205.17 L397.95 204.9 L398.2 204.64 L398.45 204.37 L398.7 204.09 L398.95 203.81 L399.2 203.52 L399.45 203.23 L399.7 202.94 L399.95 202.64 L400.2 202.33 L400.45 202.02 L400.7 201.71 L400.95 201.39 L401.2 201.06 L401.45 200.73 L401.7 200.39 L401.95 200.05 L402.2 199.7 L402.45 199.35 L402.7 198.99 L402.95 198.62 L403.2 198.25 L403.45 197.87 L403.7 197.49 L403.95 197.1 L404.2 196.7 L404.45 196.29 L404.7 195.88 L404.95 195.46 L405.2 195.04 L405.45 194.6 L405.7 194.16 L405.95 193.72 L406.2 193.26 L406.45 192.8 L406.7 192.33 L406.95 191.85 L407.2 191.37 L407.45 190.87 L407.7 190.37 L407.95 189.86 L408.2 189.34 L408.45 188.81 L408.7 188.27 L408.95 187.73 L409.2 187.17 L409.45 186.61 L409.7 186.03 L409.95 185.45 L410.2 184.86 L410.45 184.25 L410.7 183.64 L410.95 183.02 L411.2 182.38 L411.45 181.74 L411.7 181.08 L411.95 180.41 L412.2 179.74 L412.45 179.05 L412.7 178.35 L412.95 177.63 L413.2 176.91 L413.45 176.17 L413.7 175.42 L413.95 174.66 L414.2 173.89 L414.45 173.1 L414.7 172.3 L414.95 171.48 L415.2 170.65 L415.45 169.81 L415.7 168.96 L415.95 168.09 L416.2 167.2 L416.45 166.3 L416.7 165.39 L416.95 164.46 L417.2 163.51 L417.45 162.55 L417.7 161.57 L417.95 160.58 L418.2 159.56 L418.45 157.94 L418.7 156 L418.95 154.18 L419.2 152.47 L419.45 150.89 L419.7 149.42 L419.95 148.09 L420.2 146.88 L420.45 145.8 L420.7 144.86 L420.95 144.05 L421.2 143.37 L421.45 142.83 L421.7 142.43 L421.95 142.16 L422.2 142.04 L422.45 142.05 L422.7 142.21 L422.95 142.5 L423.2 142.93 L423.45 143.49 L423.7 144.2 L423.95 145.03 L424.2 146.01 L424.45 147.11 L424.7 148.34 L424.95 149.71 L425.2 151.19 L425.45 152.8 L425.7 154.53 L425.95 156.38 L426.2 158.34 L426.45 160.41 L426.7 162.59 L426.95 164.87 L427.2 167.24 L427.45 169.72 L427.7 172.28 L427.95 174.93 L428.2 177.66 L428.45 180.46 L428.7 183.34 L428.95 186.28 L429.2 189.28 L429.45 192.34 L429.7 195.45 L429.95 198.61 L430.2 201.8 L430.45 205.03 L430.7 208.28 L430.95 211.56 L431.2 214.85 L431.45 218.15 L431.7 220.14 L431.95 216.83 L432.2 213.53 L432.45 210.25 L432.7 206.98 L432.95 203.73 L433.2 200.52 L433.45 197.34 L433.7 194.2 L433.95 191.11 L434.2 188.08 L434.45 185.1 L434.7 182.18 L434.95 179.33 L435.2 176.56 L435.45 173.86 L435.7 171.24 L435.95 168.72 L436.2 166.28 L436.45 163.94 L436.7 161.7 L436.95 159.57 L437.2 157.54 L437.45 155.63 L437.7 153.83 L437.95 152.14 L438.2 150.58 L438.45 149.15 L438.7 147.84 L438.95 146.65 L439.2 145.6 L439.45 144.68 L439.7 143.9 L439.95 143.25 L440.2 142.74 L440.45 142.36 L440.7 142.13 L440.95 142.03 L441.2 142.07 L441.45 142.25 L441.7 142.57 L441.95 143.03 L442.2 143.62 L442.45 144.35 L442.7 145.22 L442.95 146.22 L443.2 147.35 L443.45 148.61 L443.7 149.99 L443.95 151.51 L444.2 153.14 L444.45 154.89 L444.7 156.76 L444.95 158.75 L445.2 160.84 L445.45 163.03 L445.7 165.33 L445.95 167.73 L446.2 170.22 L446.45 172.8 L446.7 175.47 L446.95 178.21 L447.2 181.03 L447.45 183.92 L447.7 186.88 L447.95 189.89 L448.2 192.96 L448.45 196.08 L448.7 199.24 L448.95 202.44 L449.2 205.68 L449.45 208.94 L449.7 212.22 L449.95 215.51 L450.2 218.82 L450.45 219.48 L450.7 216.17 L450.95 212.87 L451.2 209.59 L451.45 206.33 L451.7 203.09 L451.95 199.88 L452.2 196.71 L452.45 193.58 L452.7 190.5 L452.95 187.48 L453.2 184.51 L453.45 181.6 L453.7 178.77 L453.95 176.01 L454.2 173.33 L454.45 170.73 L454.7 168.22 L454.95 165.81 L455.2 163.49 L455.45 161.27 L455.7 159.15 L455.95 157.15 L456.2 155.26 L456.45 153.48 L456.7 151.82 L456.95 150.29 L457.2 148.87 L457.45 147.59 L457.7 146.43 L457.95 145.41 L458.2 144.52 L458.45 143.76 L458.7 143.14 L458.95 142.65 L459.2 142.31 L459.45 142.1 L459.7 142.03 L459.95 142.1 L460.2 142.31 L460.45 142.65 L460.7 143.14 L460.95 143.76 L461.2 144.52 L461.45 145.41 L461.7 146.43 L461.95 147.59 L462.2 148.87 L462.45 150.29 L462.7 151.82 L462.95 153.48 L463.2 155.26 L463.45 157.15 L463.7 158.77 L463.95 159.83 L464.2 160.87 L464.45 161.89 L464.7 162.89 L464.95 163.88 L465.2 164.85 L465.45 165.81 L465.7 166.74 L465.95 167.67 L466.2 168.57 L466.45 169.46 L466.7 170.34 L466.95 171.2 L467.2 172.04 L467.45 172.87 L467.7 173.69 L467.95 174.49 L468.2 175.28 L468.45 176.06 L468.7 176.82 L468.95 177.57 L469.2 178.3 L469.45 179.03 L469.7 179.74 L469.95 180.44 L470.2 181.12 L470.45 181.8 L470.7 182.46 L470.95 183.11 L471.2 183.75 L471.45 184.38 L471.7 185 L471.95 185.61 L472.2 186.21 L472.45 186.79 L472.7 187.37 L472.95 187.94 L473.2 188.49 L473.45 189.04 L473.7 189.58 L473.95 190.11 L474.2 190.63 L474.45 191.14 L474.7 191.64 L474.95 192.14 L475.2 192.62 L475.45 193.1 L475.7 193.57 L475.95 194.03 L476.2 194.48 L476.45 194.92 L476.7 195.36 L476.95 195.79 L477.2 196.21 L477.45 196.62 L477.7 197.03 L477.95 197.43 L478.2 197.82 L478.45 198.21 L478.7 198.59 L478.95 198.96 L479.2 199.33 L479.45 199.69 L479.7 200.04 L479.95 200.39 L480.2 200.73 L480.45 201.07 L480.7 201.4 L480.95 201.72 L481.2 202.04 L481.45 202.35 L481.7 202.66 L481.95 202.96 L482.2 203.26 L482.45 203.55 L482.7 203.83 L482.95 204.12 L483.2 204.39 L483.45 204.66 L483.7 204.93 L483.95 205.19 L484.2 205.45 L484.45 205.7 L484.7 205.95 L484.95 206.19 L485.2 206.43 L485.45 206.67 L485.7 206.9 L485.95 207.12 L486.2 207.35 L486.45 207.56 L486.7 207.78 L486.95 207.99 L487.2 208.2 L487.45 208.4 L487.7 208.6 L487.95 208.79 L488.2 208.99 L488.45 209.18 L488.7 209.36 L488.95 209.54 L489.2 209.72 L489.45 209.9 L489.7 210.07 L489.95 210.24 L490.2 210.4 L490.45 210.57 L490.7 210.72 L490.95 210.88 L491.2 211.03 L491.45 211.19 L491.7 211.33 L491.95 211.48 L492.2 211.62 L492.45 211.76 L492.7 211.9 L492.95 212.03 L493.2 212.16 L493.45 212.29 L493.7 212.42 L493.95 212.54 L494.2 212.66 L494.45 212.78 L494.7 212.9 L494.95 213.01 L495.2 213.12 L495.45 213.23 L495.7 213.34 L495.95 213.45 L496.2 213.55 L496.45 213.65 L496.7 213.75 L496.95 213.85 L497.2 213.94 L497.45 214.03 L497.7 214.12 L497.95 214.21 L498.2 214.3 L498.45 214.38 L498.7 214.47 L498.95 214.55 L499.2 214.63 L499.45 214.7 L499.7 214.78 L499.95 214.85 L500.2 214.92 L500.45 214.99 L500.7 215.06 L500.95 215.13 L501.2 215.19 L501.45 215.26 L501.7 215.32 L501.95 215.38 L502.2 215.44 L502.45 215.49 L502.7 215.55 L502.95 215.6 L503.2 215.65 L503.45 215.7 L503.7 215.75 L503.95 215.8 L504.2 215.85 L504.45 215.89 L504.7 215.93 L504.95 215.98 L505.2 216.02 L505.45 216.06 L505.7 216.09 L505.95 216.13 L506.2 216.16 L506.45 216.2 L506.7 216.23 L506.95 216.26 L507.2 216.29 L507.45 216.32 L507.7 216.34 L507.95 216.37 L508.2 216.39 L508.45 216.41 L508.7 216.43 L508.95 216.45 L509.2 216.47 L509.45 216.49 L509.7 216.51 L509.95 216.52 L510.2 216.53 L510.45 216.55 L510.7 216.56 L510.95 216.57 L511.2 216.58 L511.45 216.58 L511.7 216.59 L511.95 216.59 L512.2 216.6 L512.45 216.6 L512.7 216.6 L512.95 216.6 L513.2 216.6 L513.45 216.59 L513.7 216.59 L513.95 216.59 L514.2 216.58 L514.45 216.57 L514.7 216.56 L514.95 216.55 L515.2 216.54 L515.45 216.53 L515.7 216.51 L515.95 216.5 L516.2 216.48 L516.45 216.46 L516.7 216.44 L516.95 216.42 L517.2 216.4 L517.45 216.38 L517.7 216.35 L517.95 216.33 L518.2 216.3 L518.45 216.27 L518.7 216.24 L518.95 216.21 L519.2 216.18 L519.45 216.14 L519.7 216.11 L519.95 216.07 L520.2 216.03 L520.45 215.99 L520.7 215.95 L520.95 215.91 L521.2 215.87 L521.45 215.82 L521.7 215.77 L521.95 215.72 L522.2 215.67 L522.45 215.62 L522.7 215.57 L522.95 215.52 L523.2 215.46 L523.45 215.4 L523.7 215.34 L523.95 215.28 L524.2 215.22 L524.45 215.15 L524.7 215.09 L524.95 215.02 L525.2 214.95 L525.45 214.88 L525.7 214.81 L525.95 214.73 L526.2 214.66 L526.45 214.58 L526.7 214.5 L526.95 214.42 L527.2 214.33 L527.45 214.25 L527.7 214.16 L527.95 214.07 L528.2 213.98 L528.45 213.88 L528.7 213.79 L528.95 213.69 L529.2 213.59 L529.45 213.49 L529.7 213.38 L529.95 213.28 L530.2 213.17 L530.45 213.06 L530.7 212.94 L530.95 212.83 L531.2 212.71 L531.45 212.59 L531.7 212.47 L531.95 212.34 L532.2 212.21 L532.45 212.08 L532.7 211.95 L532.95 211.81 L533.2 211.68 L533.45 211.54 L533.7 211.39 L533.95 211.24 L534.2 211.1 L534.45 210.94 L534.7 210.79 L534.95 210.63 L535.2 210.47 L535.45 210.3 L535.7 210.14 L535.95 209.97 L536.2 209.79 L536.45 209.61 L536.7 209.43 L536.95 209.25 L537.2 209.06 L537.45 208.87 L537.7 208.68 L537.95 208.48 L538.2 208.28 L538.45 208.07 L538.7 207.86 L538.95 207.65 L539.2 207.43 L539.45 207.21 L539.7 206.99 L539.95 206.76 L540.2 206.53 L540.45 206.29 L540.7 206.05 L540.95 205.8 L541.2 205.55 L541.45 205.29 L541.7 205.03 L541.95 204.77 L542.2 204.5 L542.45 204.23 L542.7 203.95 L542.95 203.66 L543.2 203.37 L543.45 203.08 L543.7 202.78 L543.95 202.48 L544.2 202.16 L544.45 201.85 L544.7 201.53 L544.95 201.2 L545.2 200.87 L545.45 200.53 L545.7 200.18 L545.95 199.83 L546.2 199.47 L546.45 199.11 L546.7 198.74 L546.95 198.36 L547.2 197.98 L547.45 197.59 L547.7 197.19 L547.95 196.79 L548.2 196.38 L548.45 195.96 L548.7 195.53 L548.95 195.1 L549.2 194.66 L549.45 194.21 L549.7 193.75 L549.95 193.29 L550.2 192.81 L550.45 192.33 L550.7 191.84 L550.95 191.34 L551.2 190.83 L551.45 190.32 L551.7 189.79 L551.95 189.26 L552.2 188.71 L552.45 188.16 L552.7 187.6 L552.95 187.02 L553.2 186.44 L553.45 185.85 L553.7 185.24 L553.95 184.63 L554.2 184 L554.45 183.37 L554.7 182.72 L554.95 182.06 L555.2 181.39 L555.45 180.71 L555.7 180.02 L555.95 179.31 L556.2 178.59 L556.45 177.86 L556.7 177.12 L556.95 176.36 L557.2 175.59 L557.45 174.81 L557.7 174.01 L557.95 173.2 L558.2 172.38 L558.45 171.54 L558.7 170.68 L558.95 169.81 L559.2 168.93 L559.45 168.03 L559.7 167.12 L559.95 166.18 L560.2 165.24 L560.45 164.27 L560.7 163.29 L560.95 162.29 L561.2 161.28 L561.45 160.25 L561.7 159.19 L561.95 157.94 L562.2 156 L562.45 154.18 L562.7 152.47 L562.95 150.89 L563.2 149.42 L563.45 148.09 L563.7 146.88 L563.95 145.8 L564.2 144.86 L564.45 144.05 L564.7 143.37 L564.95 142.83 L565.2 142.43 L565.45 142.16 L565.7 142.04 L565.95 142.05 L566.2 142.21 L566.45 142.5 L566.7 142.93 L566.95 143.49 L567.2 144.2 L567.45 145.03 L567.7 146.01 L567.95 147.11 L568.2 148.34 L568.45 149.71 L568.7 151.19 L568.95 152.8 L569.2 154.53 L569.45 156.38 L569.7 158.34 L569.95 160.41 L570.2 162.59 L570.45 164.87 L570.7 167.24 L570.95 169.72 L571.2 172.28 L571.45 174.93 L571.7 177.66 L571.95 180.46 L572.2 183.34 L572.45 186.28 L572.7 189.28 L572.95 192.34 L573.2 195.45 L573.45 198.61 L573.7 201.8 L573.95 205.03 L574.2 208.28 L574.45 211.56 L574.7 214.85 L574.95 218.15 L575.2 220.14 L575.45 216.83 L575.7 213.53 L575.95 210.25 L576.2 206.98 L576.45 203.73 L576.7 200.52 L576.95 197.34 L577.2 194.2 L577.45 191.11 L577.7 188.08 L577.95 185.1 L578.2 182.18 L578.45 179.33 L578.7 176.56 L578.95 173.86 L579.2 171.24 L579.45 168.72 L579.7 166.28 L579.95 163.94 L580.2 161.7 L580.45 159.57 L580.7 157.54 L580.95 155.63 L581.2 153.83 L581.45 152.14 L581.7 150.58 L581.95 149.15 L582.2 147.84 L582.45 146.65 L582.7 145.6 L582.95 144.68 L583.2 143.9 L583.45 143.25 L583.7 142.74 L583.95 142.36 L584.2 142.13 L584.45 142.03 L584.7 142.07 L584.95 142.25 L585.2 142.57 L585.45 143.03 L585.7 143.62 L585.95 144.35 L586.2 145.22 L586.45 146.22 L586.7 147.35 L586.95 148.61 L587.2 149.99 L587.45 151.51 L587.7 153.14 L587.95 154.89 L588.2 156.76 L588.45 158.75 L588.7 160.84 L588.95 163.03 L589.2 165.33 L589.45 167.73 L589.7 170.22 L589.95 172.8 L590.2 175.47 L590.45 178.21 L590.7 181.03 L590.95 183.92 L591.2 186.88 L591.45 189.89 L591.7 192.96 L591.95 196.08 L592.2 199.24 L592.45 202.44 L592.7 205.68 L592.95 208.94 L593.2 212.22 L593.45 215.51 L593.7 218.82 L593.95 219.48 L594.2 216.17 L594.45 212.87 L594.7 209.59 L594.95 206.33 L595.2 203.09 L595.45 199.88 L595.7 196.71 L595.95 193.58 L596.2 190.5 L596.45 187.48 L596.7 184.51 L596.95 181.6 L597.2 178.77 L597.45 176.01 L597.7 173.33 L597.95 170.73 L598.2 168.22 L598.45 165.81 L598.7 163.49 L598.95 161.27 L599.2 159.15 L599.45 157.15 L599.7 155.26 L599.95 153.48 L600.2 151.82 L600.45 150.29 L600.7 148.87 L600.95 147.59 L601.2 146.43 L601.45 145.41 L601.7 144.52 L601.95 143.76 L602.2 143.14 L602.45 142.65 L602.7 142.31 L602.95 142.1 L603.2 142.03 L603.45 142.1 L603.7 142.31 L603.95 142.65 L604.2 143.14 L604.45 143.76 L604.7 144.52 L604.95 145.41 L605.2 146.43 L605.45 147.59 L605.7 148.87 L605.95 150.29 L606.2 151.82 L606.45 153.48 L606.7 155.26 L606.95 157.15 L607.2 159.16 L607.45 160.17 L607.7 161.17 L607.95 162.16 L608.2 163.13 L608.45 164.08 L608.7 165.02 L608.95 165.94 L609.2 166.84 L609.45 167.73 L609.7 168.61 L609.95 169.47 L610.2 170.32 L610.45 171.15 L610.7 171.97 L610.95 172.78 L611.2 173.57 L611.45 174.35 L611.7 175.12 L611.95 175.87 L612.2 176.61 L612.45 177.34 L612.7 178.06 L612.95 178.77 L613.2 179.46 L613.45 180.14 L613.7 180.82 L613.95 181.48 L614.2 182.13 L614.45 182.76 L614.7 183.39 L614.95 184.01 L615.2 184.62 L615.45 185.21 L615.7 185.8 L615.95 186.38 L616.2 186.95 L616.45 187.51 L616.7 188.06 L616.95 188.6 L617.2 189.13 L617.45 189.65 L617.7 190.17 L617.95 190.67 L618.2 191.17 L618.45 191.66 L618.7 192.14 L618.95 192.61 L619.2 193.08 L619.45 193.54 L619.7 193.99 L619.95 194.43 L620.2 194.87 L620.45 195.29 L620.7 195.71 L620.95 196.13 L621.2 196.54 L621.45 196.94 L621.7 197.33 L621.95 197.72 L622.2 198.1 L622.45 198.47 L622.7 198.84 L622.95 199.21 L623.2 199.56 L623.45 199.91 L623.7 200.26 L623.95 200.6 L624.2 200.93 L624.45 201.26 L624.7 201.58 L624.95 201.9 L625.2 202.21 L625.45 202.52 L625.7 202.82 L625.95 203.12 L626.2 203.41 L626.45 203.7 L626.7 203.98 L626.95 204.26 L627.2 204.53 L627.45 204.8 L627.7 205.06 L627.95 205.32 L628.2 205.58 L628.45 205.83 L628.7 206.08 L628.95 206.32 L629.2 206.56 L629.45 206.79 L629.7 207.02 L629.95 207.25 L630.2 207.48 L630.45 207.7 L630.7 207.91" fill="none" stroke="#e69c25" stroke-width="1.5" stroke-linejoin="round" />
<rect x="395.2" y="126.8" width="235.5" height="94" fill="none" stroke="#5e5e5e" stroke-width="1.3"/>
<line x1="418.3" y1="126.8" x2="418.3" y2="130" stroke="#5e5e5e" stroke-width="1.1" />
<line x1="418.3" y1="220.8" x2="418.3" y2="217.6" stroke="#5e5e5e" stroke-width="1.1" />
<line x1="463.6" y1="126.8" x2="463.6" y2="130" stroke="#5e5e5e" stroke-width="1.1" />
<line x1="463.6" y1="220.8" x2="463.6" y2="217.6" stroke="#5e5e5e" stroke-width="1.1" />
<line x1="512.75" y1="126.8" x2="512.75" y2="130" stroke="#5e5e5e" stroke-width="1.1" />
<line x1="512.75" y1="220.8" x2="512.75" y2="217.6" stroke="#5e5e5e" stroke-width="1.1" />
<line x1="561.9" y1="126.8" x2="561.9" y2="130" stroke="#5e5e5e" stroke-width="1.1" />
<line x1="561.9" y1="220.8" x2="561.9" y2="217.6" stroke="#5e5e5e" stroke-width="1.1" />
<line x1="607.2" y1="126.8" x2="607.2" y2="130" stroke="#5e5e5e" stroke-width="1.1" />
<line x1="607.2" y1="220.8" x2="607.2" y2="217.6" stroke="#5e5e5e" stroke-width="1.1" />
<line x1="395.2" y1="202" x2="398.4" y2="202" stroke="#5e5e5e" stroke-width="1.1" />
<line x1="630.7" y1="202" x2="627.5" y2="202" stroke="#5e5e5e" stroke-width="1.1" />
<line x1="395.2" y1="183.2" x2="398.4" y2="183.2" stroke="#5e5e5e" stroke-width="1.1" />
<line x1="630.7" y1="183.2" x2="627.5" y2="183.2" stroke="#5e5e5e" stroke-width="1.1" />
<line x1="395.2" y1="164.4" x2="398.4" y2="164.4" stroke="#5e5e5e" stroke-width="1.1" />
<line x1="630.7" y1="164.4" x2="627.5" y2="164.4" stroke="#5e5e5e" stroke-width="1.1" />
<line x1="395.2" y1="145.6" x2="398.4" y2="145.6" stroke="#5e5e5e" stroke-width="1.1" />
<line x1="630.7" y1="145.6" x2="627.5" y2="145.6" stroke="#5e5e5e" stroke-width="1.1" />
<rect x="435.9" y="224.9" width="27.7" height="94" fill="#dcdcdc"/>
<rect x="561.9" y="224.9" width="27.7" height="94" fill="#dcdcdc"/>
<path d="M395.2 286.47 L395.45 286.48 L395.7 286.49 L395.95 286.51 L396.2 286.52 L396.45 286.53 L396.7 286.54 L396.95 286.55 L397.2 286.57 L397.45 286.58 L397.7 286.59 L397.95 286.6 L398.2 286.62 L398.45 286.63 L398.7 286.64 L398.95 286.65 L399.2 286.66 L399.45 286.68 L399.7 286.69 L399.95 286.7 L400.2 286.71 L400.45 286.72 L400.7 286.74 L400.95 286.75 L401.2 286.76 L401.45 286.77 L401.7 286.78 L401.95 286.8 L402.2 286.81 L402.45 286.82 L402.7 286.83 L402.95 286.85 L403.2 286.86 L403.45 286.87 L403.7 286.88 L403.95 286.89 L404.2 286.91 L404.45 286.92 L404.7 286.93 L404.95 286.94 L405.2 286.95 L405.45 286.97 L405.7 286.98 L405.95 286.99 L406.2 287 L406.45 287.02 L406.7 287.03 L406.95 287.04 L407.2 287.05 L407.45 287.06 L407.7 287.08 L407.95 287.09 L408.2 287.1 L408.45 287.11 L408.7 287.12 L408.95 287.14 L409.2 287.15 L409.45 287.16 L409.7 287.17 L409.95 287.18 L410.2 287.2 L410.45 287.21 L410.7 287.22 L410.95 287.23 L411.2 287.25 L411.45 287.26 L411.7 287.27 L411.95 287.28 L412.2 287.29 L412.45 287.31 L412.7 287.32 L412.95 287.33 L413.2 287.34 L413.45 287.35 L413.7 287.37 L413.95 287.38 L414.2 287.39 L414.45 287.4 L414.7 287.41 L414.95 287.43 L415.2 287.44 L415.45 287.45 L415.7 287.46 L415.95 287.48 L416.2 287.49 L416.45 287.5 L416.7 287.51 L416.95 287.52 L417.2 287.54 L417.45 287.55 L417.7 287.56 L417.95 287.57 L418.2 287.58 L418.45 287.6 L418.7 287.61 L418.95 287.62 L419.2 287.63 L419.45 287.64 L419.7 287.66 L419.95 287.67 L420.2 287.68 L420.45 287.69 L420.7 287.71 L420.95 287.72 L421.2 287.73 L421.45 287.74 L421.7 287.75 L421.95 287.77 L422.2 287.78 L422.45 287.79 L422.7 287.8 L422.95 287.81 L423.2 287.83 L423.45 287.84 L423.7 287.85 L423.95 287.86 L424.2 287.87 L424.45 287.89 L424.7 287.9 L424.95 287.91 L425.2 287.92 L425.45 287.94 L425.7 287.95 L425.95 287.96 L426.2 287.97 L426.45 287.98 L426.7 288 L426.95 288.01 L427.2 288.02 L427.45 288.03 L427.7 288.04 L427.95 288.06 L428.2 288.07 L428.45 288.08 L428.7 288.09 L428.95 288.11 L429.2 288.12 L429.45 288.13 L429.7 288.14 L429.95 288.15 L430.2 288.17 L430.45 288.18 L430.7 288.19 L430.95 288.2 L431.2 288.21 L431.45 288.23 L431.7 288.24 L431.95 288.25 L432.2 288.26 L432.45 288.27 L432.7 288.29 L432.95 288.3 L433.2 288.31 L433.45 288.32 L433.7 288.34 L433.95 288.35 L434.2 288.36 L434.45 288.37 L434.7 288.38 L434.95 288.4 L435.2 288.41 L435.45 288.42 L435.7 288.43 L435.95 288.47 L436.2 288.65 L436.45 288.89 L436.7 289.18 L436.95 289.53 L437.2 289.94 L437.45 290.4 L437.7 290.92 L437.95 291.48 L438.2 292.1 L438.45 292.77 L438.7 293.48 L438.95 294.23 L439.2 295.03 L439.45 295.86 L439.7 296.73 L439.95 297.63 L440.2 298.56 L440.45 299.5 L440.7 300.47 L440.95 301.45 L441.2 302.43 L441.45 303.4 L441.7 304.37 L441.95 305.3 L442.2 306.19 L442.45 307.03 L442.7 307.78 L442.95 308.43 L443.2 308.95 L443.45 309.3 L443.7 309.48 L443.95 309.47 L444.2 309.27 L444.45 308.89 L444.7 308.35 L444.95 307.69 L445.2 306.93 L445.45 306.08 L445.7 305.19 L445.95 304.25 L446.2 303.28 L446.45 302.3 L446.7 301.32 L446.95 300.35 L447.2 299.38 L447.45 298.44 L447.7 297.51 L447.95 296.62 L448.2 295.75 L448.45 294.92 L448.7 294.13 L448.95 293.38 L449.2 292.68 L449.45 292.02 L449.7 291.41 L449.95 290.85 L450.2 290.34 L450.45 289.89 L450.7 289.48 L450.95 289.14 L451.2 288.85 L451.45 288.62 L451.7 288.45 L451.95 288.34 L452.2 288.29 L452.45 288.29 L452.7 288.36 L452.95 288.48 L453.2 288.66 L453.45 288.91 L453.7 289.2 L453.95 289.56 L454.2 289.97 L454.45 290.44 L454.7 290.96 L454.95 291.53 L455.2 292.15 L455.45 292.82 L455.7 293.53 L455.95 294.29 L456.2 295.09 L456.45 295.92 L456.7 296.79 L456.95 297.7 L457.2 298.62 L457.45 299.57 L457.7 300.54 L457.95 301.52 L458.2 302.5 L458.45 303.48 L458.7 304.44 L458.95 305.37 L459.2 306.26 L459.45 307.09 L459.7 307.83 L459.95 308.47 L460.2 308.98 L460.45 309.32 L460.7 309.49 L460.95 309.46 L461.2 309.25 L461.45 308.85 L461.7 308.31 L461.95 307.64 L462.2 306.87 L462.45 306.02 L462.7 305.12 L462.95 304.18 L463.2 303.21 L463.45 302.23 L463.7 301.43 L463.95 300.9 L464.2 300.38 L464.45 299.85 L464.7 299.32 L464.95 298.8 L465.2 298.27 L465.45 297.75 L465.7 297.23 L465.95 296.71 L466.2 296.19 L466.45 295.67 L466.7 295.15 L466.95 294.63 L467.2 294.12 L467.45 293.6 L467.7 293.09 L467.95 292.58 L468.2 292.07 L468.45 291.56 L468.7 291.05 L468.95 290.54 L469.2 290.04 L469.45 289.53 L469.7 289.03 L469.95 288.53 L470.2 288.03 L470.45 287.53 L470.7 287.03 L470.95 286.54 L471.2 286.05 L471.45 285.55 L471.7 285.06 L471.95 284.57 L472.2 284.08 L472.45 283.6 L472.7 283.11 L472.95 282.63 L473.2 282.15 L473.45 281.67 L473.7 281.19 L473.95 280.72 L474.2 280.24 L474.45 279.77 L474.7 279.3 L474.95 278.83 L475.2 278.37 L475.45 277.9 L475.7 277.44 L475.95 276.98 L476.2 276.52 L476.45 276.06 L476.7 275.61 L476.95 275.16 L477.2 274.71 L477.45 274.26 L477.7 273.81 L477.95 273.37 L478.2 272.93 L478.45 272.49 L478.7 272.05 L478.95 271.61 L479.2 271.18 L479.45 270.75 L479.7 270.32 L479.95 269.89 L480.2 269.47 L480.45 269.05 L480.7 268.63 L480.95 268.21 L481.2 267.8 L481.45 267.38 L481.7 266.97 L481.95 266.57 L482.2 266.16 L482.45 265.76 L482.7 265.36 L482.95 264.96 L483.2 264.57 L483.45 264.18 L483.7 263.79 L483.95 263.4 L484.2 263.01 L484.45 262.63 L484.7 262.25 L484.95 261.88 L485.2 261.5 L485.45 261.13 L485.7 260.76 L485.95 260.4 L486.2 260.03 L486.45 259.67 L486.7 259.32 L486.95 258.96 L487.2 258.61 L487.45 258.26 L487.7 257.92 L487.95 257.57 L488.2 257.23 L488.45 256.9 L488.7 256.56 L488.95 256.23 L489.2 255.9 L489.45 255.58 L489.7 255.25 L489.95 254.93 L490.2 254.62 L490.45 254.3 L490.7 253.99 L490.95 253.69 L491.2 253.38 L491.45 253.08 L491.7 252.78 L491.95 252.49 L492.2 252.2 L492.45 251.91 L492.7 251.62 L492.95 251.34 L493.2 251.06 L493.45 250.78 L493.7 250.51 L493.95 250.24 L494.2 249.98 L494.45 249.71 L494.7 249.45 L494.95 249.2 L495.2 248.94 L495.45 248.69 L495.7 248.45 L495.95 248.2 L496.2 247.96 L496.45 247.73 L496.7 247.49 L496.95 247.26 L497.2 247.04 L497.45 246.82 L497.7 246.6 L497.95 246.38 L498.2 246.17 L498.45 245.96 L498.7 245.75 L498.95 245.55 L499.2 245.35 L499.45 245.15 L499.7 244.96 L499.95 244.77 L500.2 244.59 L500.45 244.41 L500.7 244.23 L500.95 244.05 L501.2 243.88 L501.45 243.72 L501.7 243.55 L501.95 243.39 L502.2 243.23 L502.45 243.08 L502.7 242.93 L502.95 242.79 L503.2 242.64 L503.45 242.5 L503.7 242.37 L503.95 242.24 L504.2 242.11 L504.45 241.98 L504.7 241.86 L504.95 241.75 L505.2 241.63 L505.45 241.52 L505.7 241.42 L505.95 241.31 L506.2 241.22 L506.45 241.12 L506.7 241.03 L506.95 240.94 L507.2 240.86 L507.45 240.78 L507.7 240.7 L507.95 240.63 L508.2 240.56 L508.45 240.49 L508.7 240.43 L508.95 240.37 L509.2 240.32 L509.45 240.26 L509.7 240.22 L509.95 240.17 L510.2 240.13 L510.45 240.1 L510.7 240.07 L510.95 240.04 L511.2 240.01 L511.45 239.99 L511.7 239.97 L511.95 239.96 L512.2 239.95 L512.45 239.94 L512.7 239.94 L512.95 239.94 L513.2 239.95 L513.45 239.95 L513.7 239.97 L513.95 239.98 L514.2 240 L514.45 240.03 L514.7 240.05 L514.95 240.08 L515.2 240.12 L515.45 240.16 L515.7 240.2 L515.95 240.25 L516.2 240.29 L516.45 240.35 L516.7 240.4 L516.95 240.47 L517.2 240.53 L517.45 240.6 L517.7 240.67 L517.95 240.74 L518.2 240.82 L518.45 240.91 L518.7 240.99 L518.95 241.08 L519.2 241.18 L519.45 241.27 L519.7 241.38 L519.95 241.48 L520.2 241.59 L520.45 241.7 L520.7 241.82 L520.95 241.94 L521.2 242.06 L521.45 242.19 L521.7 242.32 L521.95 242.45 L522.2 242.59 L522.45 242.73 L522.7 242.87 L522.95 243.02 L523.2 243.17 L523.45 243.33 L523.7 243.49 L523.95 243.65 L524.2 243.82 L524.45 243.99 L524.7 244.16 L524.95 244.33 L525.2 244.52 L525.45 244.7 L525.7 244.89 L525.95 245.08 L526.2 245.27 L526.45 245.47 L526.7 245.67 L526.95 245.87 L527.2 246.08 L527.45 246.29 L527.7 246.51 L527.95 246.73 L528.2 246.95 L528.45 247.17 L528.7 247.4 L528.95 247.63 L529.2 247.87 L529.45 248.11 L529.7 248.35 L529.95 248.59 L530.2 248.84 L530.45 249.1 L530.7 249.35 L530.95 249.61 L531.2 249.87 L531.45 250.14 L531.7 250.4 L531.95 250.68 L532.2 250.95 L532.45 251.23 L532.7 251.51 L532.95 251.79 L533.2 252.08 L533.45 252.37 L533.7 252.66 L533.95 252.96 L534.2 253.26 L534.45 253.56 L534.7 253.87 L534.95 254.18 L535.2 254.49 L535.45 254.81 L535.7 255.13 L535.95 255.45 L536.2 255.77 L536.45 256.1 L536.7 256.43 L536.95 256.76 L537.2 257.1 L537.45 257.44 L537.7 257.78 L537.95 258.12 L538.2 258.47 L538.45 258.82 L538.7 259.18 L538.95 259.53 L539.2 259.89 L539.45 260.25 L539.7 260.62 L539.95 260.98 L540.2 261.35 L540.45 261.73 L540.7 262.1 L540.95 262.48 L541.2 262.86 L541.45 263.24 L541.7 263.63 L541.95 264.02 L542.2 264.41 L542.45 264.8 L542.7 265.2 L542.95 265.6 L543.2 266 L543.45 266.4 L543.7 266.81 L543.95 267.22 L544.2 267.63 L544.45 268.05 L544.7 268.46 L544.95 268.88 L545.2 269.3 L545.45 269.72 L545.7 270.15 L545.95 270.58 L546.2 271.01 L546.45 271.44 L546.7 271.87 L546.95 272.31 L547.2 272.75 L547.45 273.19 L547.7 273.63 L547.95 274.08 L548.2 274.53 L548.45 274.98 L548.7 275.43 L548.95 275.88 L549.2 276.34 L549.45 276.8 L549.7 277.26 L549.95 277.72 L550.2 278.18 L550.45 278.65 L550.7 279.12 L550.95 279.58 L551.2 280.06 L551.45 280.53 L551.7 281 L551.95 281.48 L552.2 281.96 L552.45 282.44 L552.7 282.92 L552.95 283.41 L553.2 283.89 L553.45 284.38 L553.7 284.87 L553.95 285.36 L554.2 285.85 L554.45 286.34 L554.7 286.84 L554.95 287.33 L555.2 287.83 L555.45 288.33 L555.7 288.83 L555.95 289.33 L556.2 289.84 L556.45 290.34 L556.7 290.85 L556.95 291.36 L557.2 291.86 L557.45 292.37 L557.7 292.89 L557.95 293.4 L558.2 293.91 L558.45 294.43 L558.7 294.94 L558.95 295.46 L559.2 295.98 L559.45 296.5 L559.7 297.02 L559.95 297.54 L560.2 298.06 L560.45 298.59 L560.7 299.11 L560.95 299.64 L561.2 300.16 L561.45 300.69 L561.7 301.22 L561.95 301.84 L562.2 302.82 L562.45 303.79 L562.7 304.74 L562.95 305.66 L563.2 306.54 L563.45 307.34 L563.7 308.05 L563.95 308.65 L564.2 309.11 L564.45 309.4 L564.7 309.5 L564.95 309.41 L565.2 309.14 L565.45 308.69 L565.7 308.1 L565.95 307.4 L566.2 306.6 L566.45 305.73 L566.7 304.81 L566.95 303.86 L567.2 302.89 L567.45 301.91 L567.7 300.93 L567.95 299.96 L568.2 299 L568.45 298.06 L568.7 297.15 L568.95 296.27 L569.2 295.42 L569.45 294.6 L569.7 293.83 L569.95 293.1 L570.2 292.41 L570.45 291.77 L570.7 291.18 L570.95 290.64 L571.2 290.15 L571.45 289.72 L571.7 289.34 L571.95 289.02 L572.2 288.75 L572.45 288.55 L572.7 288.4 L572.95 288.31 L573.2 288.28 L573.45 288.31 L573.7 288.4 L573.95 288.55 L574.2 288.75 L574.45 289.02 L574.7 289.34 L574.95 289.72 L575.2 290.15 L575.45 290.64 L575.7 291.18 L575.95 291.77 L576.2 292.41 L576.45 293.1 L576.7 293.83 L576.95 294.6 L577.2 295.42 L577.45 296.27 L577.7 297.15 L577.95 298.06 L578.2 299 L578.45 299.96 L578.7 300.93 L578.95 301.91 L579.2 302.89 L579.45 303.86 L579.7 304.81 L579.95 305.73 L580.2 306.6 L580.45 307.4 L580.7 308.1 L580.95 308.69 L581.2 309.14 L581.45 309.41 L581.7 309.5 L581.95 309.4 L582.2 309.11 L582.45 308.65 L582.7 308.05 L582.95 307.34 L583.2 306.54 L583.45 305.66 L583.7 304.74 L583.95 303.79 L584.2 302.82 L584.45 301.84 L584.7 300.86 L584.95 299.89 L585.2 298.93 L585.45 298 L585.7 297.09 L585.95 296.2 L586.2 295.36 L586.45 294.55 L586.7 293.77 L586.95 293.04 L587.2 292.36 L587.45 291.72 L587.7 291.14 L587.95 290.6 L588.2 290.12 L588.45 289.69 L588.7 289.31 L588.95 289 L589.2 288.74 L589.45 288.53 L589.7 288.44 L589.95 288.42 L590.2 288.41 L590.45 288.4 L590.7 288.39 L590.95 288.38 L591.2 288.36 L591.45 288.35 L591.7 288.34 L591.95 288.33 L592.2 288.32 L592.45 288.3 L592.7 288.29 L592.95 288.28 L593.2 288.27 L593.45 288.26 L593.7 288.24 L593.95 288.23 L594.2 288.22 L594.45 288.21 L594.7 288.19 L594.95 288.18 L595.2 288.17 L595.45 288.16 L595.7 288.15 L595.95 288.13 L596.2 288.12 L596.45 288.11 L596.7 288.1 L596.95 288.09 L597.2 288.07 L597.45 288.06 L597.7 288.05 L597.95 288.04 L598.2 288.03 L598.45 288.01 L598.7 288 L598.95 287.99 L599.2 287.98 L599.45 287.96 L599.7 287.95 L599.95 287.94 L600.2 287.93 L600.45 287.92 L600.7 287.9 L600.95 287.89 L601.2 287.88 L601.45 287.87 L601.7 287.86 L601.95 287.84 L602.2 287.83 L602.45 287.82 L602.7 287.81 L602.95 287.79 L603.2 287.78 L603.45 287.77 L603.7 287.76 L603.95 287.75 L604.2 287.73 L604.45 287.72 L604.7 287.71 L604.95 287.7 L605.2 287.69 L605.45 287.67 L605.7 287.66 L605.95 287.65 L606.2 287.64 L606.45 287.63 L606.7 287.61 L606.95 287.6 L607.2 287.59 L607.45 287.58 L607.7 287.56 L607.95 287.55 L608.2 287.54 L608.45 287.53 L608.7 287.52 L608.95 287.5 L609.2 287.49 L609.45 287.48 L609.7 287.47 L609.95 287.46 L610.2 287.44 L610.45 287.43 L610.7 287.42 L610.95 287.41 L611.2 287.4 L611.45 287.38 L611.7 287.37 L611.95 287.36 L612.2 287.35 L612.45 287.33 L612.7 287.32 L612.95 287.31 L613.2 287.3 L613.45 287.29 L613.7 287.27 L613.95 287.26 L614.2 287.25 L614.45 287.24 L614.7 287.23 L614.95 287.21 L615.2 287.2 L615.45 287.19 L615.7 287.18 L615.95 287.17 L616.2 287.15 L616.45 287.14 L616.7 287.13 L616.95 287.12 L617.2 287.1 L617.45 287.09 L617.7 287.08 L617.95 287.07 L618.2 287.06 L618.45 287.04 L618.7 287.03 L618.95 287.02 L619.2 287.01 L619.45 287 L619.7 286.98 L619.95 286.97 L620.2 286.96 L620.45 286.95 L620.7 286.94 L620.95 286.92 L621.2 286.91 L621.45 286.9 L621.7 286.89 L621.95 286.87 L622.2 286.86 L622.45 286.85 L622.7 286.84 L622.95 286.83 L623.2 286.81 L623.45 286.8 L623.7 286.79 L623.95 286.78 L624.2 286.77 L624.45 286.75 L624.7 286.74 L624.95 286.73 L625.2 286.72 L625.45 286.7 L625.7 286.69 L625.95 286.68 L626.2 286.67 L626.45 286.66 L626.7 286.64 L626.95 286.63 L627.2 286.62 L627.45 286.61 L627.7 286.6 L627.95 286.58 L628.2 286.57 L628.45 286.56 L628.7 286.55 L628.95 286.54 L629.2 286.52 L629.45 286.51 L629.7 286.5 L629.95 286.49 L630.2 286.47 L630.45 286.46 L630.7 286.45" fill="none" stroke="#e69c25" stroke-width="1.5" stroke-linejoin="round" />
<rect x="395.2" y="224.9" width="235.5" height="94" fill="none" stroke="#5e5e5e" stroke-width="1.3"/>
<line x1="435.9" y1="224.9" x2="435.9" y2="228.1" stroke="#5e5e5e" stroke-width="1.1" />
<line x1="435.9" y1="318.9" x2="435.9" y2="315.7" stroke="#5e5e5e" stroke-width="1.1" />
<line x1="463.6" y1="224.9" x2="463.6" y2="228.1" stroke="#5e5e5e" stroke-width="1.1" />
<line x1="463.6" y1="318.9" x2="463.6" y2="315.7" stroke="#5e5e5e" stroke-width="1.1" />
<line x1="512.75" y1="224.9" x2="512.75" y2="228.1" stroke="#5e5e5e" stroke-width="1.1" />
<line x1="512.75" y1="318.9" x2="512.75" y2="315.7" stroke="#5e5e5e" stroke-width="1.1" />
<line x1="561.9" y1="224.9" x2="561.9" y2="228.1" stroke="#5e5e5e" stroke-width="1.1" />
<line x1="561.9" y1="318.9" x2="561.9" y2="315.7" stroke="#5e5e5e" stroke-width="1.1" />
<line x1="589.6" y1="224.9" x2="589.6" y2="228.1" stroke="#5e5e5e" stroke-width="1.1" />
<line x1="589.6" y1="318.9" x2="589.6" y2="315.7" stroke="#5e5e5e" stroke-width="1.1" />
<line x1="395.2" y1="300.1" x2="398.4" y2="300.1" stroke="#5e5e5e" stroke-width="1.1" />
<line x1="630.7" y1="300.1" x2="627.5" y2="300.1" stroke="#5e5e5e" stroke-width="1.1" />
<line x1="395.2" y1="281.3" x2="398.4" y2="281.3" stroke="#5e5e5e" stroke-width="1.1" />
<line x1="630.7" y1="281.3" x2="627.5" y2="281.3" stroke="#5e5e5e" stroke-width="1.1" />
<line x1="395.2" y1="262.5" x2="398.4" y2="262.5" stroke="#5e5e5e" stroke-width="1.1" />
<line x1="630.7" y1="262.5" x2="627.5" y2="262.5" stroke="#5e5e5e" stroke-width="1.1" />
<line x1="395.2" y1="243.7" x2="398.4" y2="243.7" stroke="#5e5e5e" stroke-width="1.1" />
<line x1="630.7" y1="243.7" x2="627.5" y2="243.7" stroke="#5e5e5e" stroke-width="1.1" />
<rect x="435.9" y="323.4" width="27.7" height="94" fill="#dcdcdc"/>
<rect x="561.9" y="323.4" width="27.7" height="94" fill="#dcdcdc"/>
<path d="M395.2 339.04 L395.45 339.37 L395.7 339.7 L395.95 340.02 L396.2 340.35 L396.45 340.67 L396.7 340.99 L396.95 341.31 L397.2 341.63 L397.45 341.95 L397.7 342.26 L397.95 342.58 L398.2 342.89 L398.45 343.2 L398.7 343.52 L398.95 343.83 L399.2 344.13 L399.45 344.44 L399.7 344.75 L399.95 345.05 L400.2 345.35 L400.45 345.66 L400.7 345.96 L400.95 346.26 L401.2 346.55 L401.45 346.85 L401.7 347.15 L401.95 347.44 L402.2 347.73 L402.45 348.03 L402.7 348.32 L402.95 348.61 L403.2 348.9 L403.45 349.18 L403.7 349.47 L403.95 349.75 L404.2 350.04 L404.45 350.32 L404.7 350.6 L404.95 350.88 L405.2 351.16 L405.45 351.44 L405.7 351.71 L405.95 351.99 L406.2 352.26 L406.45 352.54 L406.7 352.81 L406.95 353.08 L407.2 353.35 L407.45 353.62 L407.7 353.88 L407.95 354.15 L408.2 354.41 L408.45 354.68 L408.7 354.94 L408.95 355.2 L409.2 355.46 L409.45 355.72 L409.7 355.98 L409.95 356.24 L410.2 356.5 L410.45 356.75 L410.7 357.01 L410.95 357.26 L411.2 357.51 L411.45 357.76 L411.7 358.01 L411.95 358.26 L412.2 358.51 L412.45 358.76 L412.7 359 L412.95 359.25 L413.2 359.49 L413.45 359.73 L413.7 359.97 L413.95 360.21 L414.2 360.45 L414.45 360.69 L414.7 360.93 L414.95 361.17 L415.2 361.4 L415.45 361.64 L415.7 361.87 L415.95 362.1 L416.2 362.34 L416.45 362.57 L416.7 362.8 L416.95 363.03 L417.2 363.25 L417.45 363.48 L417.7 363.71 L417.95 363.93 L418.2 364.16 L418.45 364.38 L418.7 364.6 L418.95 364.82 L419.2 365.04 L419.45 365.26 L419.7 365.48 L419.95 365.7 L420.2 365.91 L420.45 366.13 L420.7 366.35 L420.95 366.56 L421.2 366.77 L421.45 366.98 L421.7 367.2 L421.95 367.41 L422.2 367.62 L422.45 367.82 L422.7 368.03 L422.95 368.24 L423.2 368.45 L423.45 368.65 L423.7 368.85 L423.95 369.06 L424.2 369.26 L424.45 369.46 L424.7 369.66 L424.95 369.86 L425.2 370.06 L425.45 370.26 L425.7 370.46 L425.95 370.66 L426.2 370.85 L426.45 371.05 L426.7 371.24 L426.95 371.43 L427.2 371.63 L427.45 371.82 L427.7 372.01 L427.95 372.2 L428.2 372.39 L428.45 372.58 L428.7 372.77 L428.95 372.95 L429.2 373.14 L429.45 373.32 L429.7 373.51 L429.95 373.69 L430.2 373.88 L430.45 374.06 L430.7 374.24 L430.95 374.42 L431.2 374.6 L431.45 374.78 L431.7 374.96 L431.95 375.14 L432.2 375.31 L432.45 375.49 L432.7 375.67 L432.95 375.84 L433.2 376.02 L433.45 376.19 L433.7 376.36 L433.95 376.53 L434.2 376.71 L434.45 376.88 L434.7 377.05 L434.95 377.21 L435.2 377.38 L435.45 377.55 L435.7 377.72 L435.95 377.93 L436.2 378.35 L436.45 378.79 L436.7 379.24 L436.95 379.71 L437.2 380.19 L437.45 380.68 L437.7 381.17 L437.95 381.66 L438.2 382.14 L438.45 382.61 L438.7 383.07 L438.95 383.51 L439.2 383.92 L439.45 384.3 L439.7 384.66 L439.95 384.97 L440.2 385.25 L440.45 385.49 L440.7 385.68 L440.95 385.82 L441.2 385.91 L441.45 385.95 L441.7 385.95 L441.95 385.89 L442.2 385.79 L442.45 385.64 L442.7 385.45 L442.95 385.22 L443.2 384.96 L443.45 384.66 L443.7 384.34 L443.95 383.99 L444.2 383.63 L444.45 383.25 L444.7 382.87 L444.95 382.48 L445.2 382.09 L445.45 381.7 L445.7 381.32 L445.95 380.96 L446.2 380.61 L446.45 380.28 L446.7 379.98 L446.95 379.7 L447.2 379.45 L447.45 379.22 L447.7 379.04 L447.95 378.88 L448.2 378.77 L448.45 378.69 L448.7 378.65 L448.95 378.65 L449.2 378.69 L449.45 378.77 L449.7 378.89 L449.95 379.05 L450.2 379.25 L450.45 379.48 L450.7 379.76 L450.95 380.07 L451.2 380.42 L451.45 380.79 L451.7 381.2 L451.95 381.64 L452.2 382.1 L452.45 382.58 L452.7 383.08 L452.95 383.6 L453.2 384.13 L453.45 384.66 L453.7 385.2 L453.95 385.74 L454.2 386.27 L454.45 386.78 L454.7 387.28 L454.95 387.76 L455.2 388.21 L455.45 388.62 L455.7 389 L455.95 389.34 L456.2 389.63 L456.45 389.87 L456.7 390.05 L456.95 390.18 L457.2 390.26 L457.45 390.27 L457.7 390.23 L457.95 390.14 L458.2 389.98 L458.45 389.78 L458.7 389.54 L458.95 389.25 L459.2 388.92 L459.45 388.56 L459.7 388.17 L459.95 387.76 L460.2 387.33 L460.45 386.89 L460.7 386.44 L460.95 386 L461.2 385.55 L461.45 385.12 L461.7 384.7 L461.95 384.29 L462.2 383.91 L462.45 383.55 L462.7 383.21 L462.95 382.91 L463.2 382.64 L463.45 382.4 L463.7 381.28 L463.95 381.18 L464.2 381.09 L464.45 381 L464.7 380.93 L464.95 380.86 L465.2 380.81 L465.45 380.76 L465.7 380.72 L465.95 380.68 L466.2 380.66 L466.45 380.65 L466.7 380.64 L466.95 380.64 L467.2 380.66 L467.45 380.68 L467.7 380.7 L467.95 380.74 L468.2 380.78 L468.45 380.84 L468.7 380.9 L468.95 380.97 L469.2 381.05 L469.45 381.13 L469.7 381.23 L469.95 381.33 L470.2 381.44 L470.45 381.56 L470.7 381.69 L470.95 381.82 L471.2 381.96 L471.45 382.11 L471.7 382.27 L471.95 382.44 L472.2 382.61 L472.45 382.79 L472.7 382.98 L472.95 383.17 L473.2 383.37 L473.45 383.58 L473.7 383.8 L473.95 384.02 L474.2 384.25 L474.45 384.49 L474.7 384.74 L474.95 384.99 L475.2 385.24 L475.45 385.51 L475.7 385.78 L475.95 386.05 L476.2 386.33 L476.45 386.62 L476.7 386.92 L476.95 387.22 L477.2 387.52 L477.45 387.83 L477.7 388.15 L477.95 388.47 L478.2 388.8 L478.45 389.13 L478.7 389.46 L478.95 389.8 L479.2 390.15 L479.45 390.5 L479.7 390.85 L479.95 391.21 L480.2 391.57 L480.45 391.94 L480.7 392.31 L480.95 392.68 L481.2 393.06 L481.45 393.43 L481.7 393.82 L481.95 394.2 L482.2 394.59 L482.45 394.97 L482.7 395.36 L482.95 395.76 L483.2 396.15 L483.45 396.54 L483.7 396.94 L483.95 397.34 L484.2 397.73 L484.45 398.13 L484.7 398.52 L484.95 398.92 L485.2 399.31 L485.45 399.71 L485.7 400.1 L485.95 400.49 L486.2 400.87 L486.45 401.25 L486.7 401.63 L486.95 402.01 L487.2 402.37 L487.45 402.74 L487.7 403.1 L487.95 403.45 L488.2 403.79 L488.45 404.12 L488.7 404.45 L488.95 404.76 L489.2 405.06 L489.45 405.35 L489.7 405.63 L489.95 405.89 L490.2 406.14 L490.45 406.37 L490.7 406.58 L490.95 406.77 L491.2 406.95 L491.45 407.1 L491.7 407.23 L491.95 407.34 L492.2 407.42 L492.45 407.48 L492.7 407.52 L492.95 407.53 L493.2 407.51 L493.45 407.45 L493.7 407.36 L493.95 407.23 L494.2 407.07 L494.45 406.87 L494.7 406.65 L494.95 406.4 L495.2 406.13 L495.45 405.83 L495.7 405.51 L495.95 405.18 L496.2 404.83 L496.45 404.47 L496.7 404.09 L496.95 403.71 L497.2 403.32 L497.45 402.92 L497.7 402.52 L497.95 402.11 L498.2 401.7 L498.45 401.28 L498.7 400.87 L498.95 400.45 L499.2 400.04 L499.45 399.62 L499.7 399.21 L499.95 398.8 L500.2 398.4 L500.45 397.99 L500.7 397.59 L500.95 397.2 L501.2 396.81 L501.45 396.43 L501.7 396.05 L501.95 395.67 L502.2 395.31 L502.45 394.95 L502.7 394.59 L502.95 394.25 L503.2 393.91 L503.45 393.58 L503.7 393.25 L503.95 392.94 L504.2 392.63 L504.45 392.33 L504.7 392.04 L504.95 391.76 L505.2 391.49 L505.45 391.23 L505.7 390.97 L505.95 390.73 L506.2 390.49 L506.45 390.27 L506.7 390.05 L506.95 389.85 L507.2 389.65 L507.45 389.47 L507.7 389.29 L507.95 389.12 L508.2 388.97 L508.45 388.82 L508.7 388.69 L508.95 388.57 L509.2 388.45 L509.45 388.35 L509.7 388.25 L509.95 388.17 L510.2 388.1 L510.45 388.04 L510.7 387.99 L510.95 387.95 L511.2 387.92 L511.45 387.9 L511.7 387.89 L511.95 387.89 L512.2 387.9 L512.45 387.93 L512.7 387.96 L512.95 387.94 L513.2 387.91 L513.45 387.89 L513.7 387.89 L513.95 387.89 L514.2 387.91 L514.45 387.93 L514.7 387.97 L514.95 388.02 L515.2 388.07 L515.45 388.14 L515.7 388.22 L515.95 388.31 L516.2 388.41 L516.45 388.52 L516.7 388.64 L516.95 388.77 L517.2 388.91 L517.45 389.06 L517.7 389.22 L517.95 389.39 L518.2 389.58 L518.45 389.77 L518.7 389.97 L518.95 390.18 L519.2 390.4 L519.45 390.63 L519.7 390.87 L519.95 391.12 L520.2 391.38 L520.45 391.65 L520.7 391.93 L520.95 392.22 L521.2 392.51 L521.45 392.81 L521.7 393.13 L521.95 393.45 L522.2 393.77 L522.45 394.11 L522.7 394.45 L522.95 394.8 L523.2 395.16 L523.45 395.53 L523.7 395.9 L523.95 396.27 L524.2 396.66 L524.45 397.04 L524.7 397.44 L524.95 397.83 L525.2 398.24 L525.45 398.64 L525.7 399.05 L525.95 399.46 L526.2 399.87 L526.45 400.29 L526.7 400.7 L526.95 401.12 L527.2 401.53 L527.45 401.94 L527.7 402.35 L527.95 402.76 L528.2 403.16 L528.45 403.55 L528.7 403.94 L528.95 404.32 L529.2 404.69 L529.45 405.04 L529.7 405.38 L529.95 405.7 L530.2 406.01 L530.45 406.29 L530.7 406.55 L530.95 406.79 L531.2 406.99 L531.45 407.17 L531.7 407.31 L531.95 407.42 L532.2 407.49 L532.45 407.53 L532.7 407.53 L532.95 407.5 L533.2 407.45 L533.45 407.37 L533.7 407.28 L533.95 407.15 L534.2 407.01 L534.45 406.85 L534.7 406.66 L534.95 406.46 L535.2 406.23 L535.45 405.99 L535.7 405.74 L535.95 405.46 L536.2 405.18 L536.45 404.88 L536.7 404.57 L536.95 404.25 L537.2 403.92 L537.45 403.58 L537.7 403.24 L537.95 402.88 L538.2 402.52 L538.45 402.15 L538.7 401.78 L538.95 401.4 L539.2 401.02 L539.45 400.64 L539.7 400.25 L539.95 399.86 L540.2 399.47 L540.45 399.08 L540.7 398.68 L540.95 398.29 L541.2 397.89 L541.45 397.49 L541.7 397.1 L541.95 396.7 L542.2 396.31 L542.45 395.91 L542.7 395.52 L542.95 395.13 L543.2 394.74 L543.45 394.35 L543.7 393.97 L543.95 393.59 L544.2 393.21 L544.45 392.83 L544.7 392.46 L544.95 392.09 L545.2 391.72 L545.45 391.36 L545.7 391 L545.95 390.64 L546.2 390.29 L546.45 389.94 L546.7 389.6 L546.95 389.26 L547.2 388.93 L547.45 388.6 L547.7 388.28 L547.95 387.96 L548.2 387.64 L548.45 387.34 L548.7 387.04 L548.95 386.74 L549.2 386.45 L549.45 386.16 L549.7 385.89 L549.95 385.61 L550.2 385.35 L550.45 385.09 L550.7 384.83 L550.95 384.59 L551.2 384.35 L551.45 384.11 L551.7 383.89 L551.95 383.67 L552.2 383.46 L552.45 383.25 L552.7 383.05 L552.95 382.86 L553.2 382.68 L553.45 382.5 L553.7 382.34 L553.95 382.18 L554.2 382.02 L554.45 381.88 L554.7 381.74 L554.95 381.61 L555.2 381.49 L555.45 381.37 L555.7 381.27 L555.95 381.17 L556.2 381.08 L556.45 381 L556.7 380.93 L556.95 380.86 L557.2 380.81 L557.45 380.76 L557.7 380.72 L557.95 380.69 L558.2 380.66 L558.45 380.65 L558.7 380.64 L558.95 380.64 L559.2 380.66 L559.45 380.67 L559.7 380.7 L559.95 380.74 L560.2 380.78 L560.45 380.84 L560.7 380.9 L560.95 380.97 L561.2 381.05 L561.45 381.14 L561.7 381.24 L561.95 382.32 L562.2 382.54 L562.45 382.8 L562.7 383.09 L562.95 383.41 L563.2 383.76 L563.45 384.13 L563.7 384.53 L563.95 384.95 L564.2 385.38 L564.45 385.82 L564.7 386.26 L564.95 386.71 L565.2 387.15 L565.45 387.59 L565.7 388 L565.95 388.4 L566.2 388.78 L566.45 389.12 L566.7 389.42 L566.95 389.69 L567.2 389.91 L567.45 390.08 L567.7 390.2 L567.95 390.26 L568.2 390.27 L568.45 390.22 L568.7 390.11 L568.95 389.95 L569.2 389.73 L569.45 389.46 L569.7 389.14 L569.95 388.78 L570.2 388.38 L570.45 387.94 L570.7 387.47 L570.95 386.98 L571.2 386.47 L571.45 385.95 L571.7 385.42 L571.95 384.88 L572.2 384.34 L572.45 383.81 L572.7 383.29 L572.95 382.78 L573.2 382.29 L573.45 381.82 L573.7 381.37 L573.95 380.95 L574.2 380.56 L574.45 380.2 L574.7 379.88 L574.95 379.59 L575.2 379.34 L575.45 379.12 L575.7 378.95 L575.95 378.81 L576.2 378.71 L576.45 378.66 L576.7 378.64 L576.95 378.67 L577.2 378.73 L577.45 378.83 L577.7 378.97 L577.95 379.15 L578.2 379.35 L578.45 379.59 L578.7 379.86 L578.95 380.16 L579.2 380.48 L579.45 380.82 L579.7 381.18 L579.95 381.55 L580.2 381.93 L580.45 382.32 L580.7 382.71 L580.95 383.1 L581.2 383.48 L581.45 383.85 L581.7 384.2 L581.95 384.54 L582.2 384.84 L582.45 385.12 L582.7 385.37 L582.95 385.57 L583.2 385.74 L583.45 385.86 L583.7 385.93 L583.95 385.96 L584.2 385.93 L584.45 385.86 L584.7 385.74 L584.95 385.57 L585.2 385.35 L585.45 385.09 L585.7 384.79 L585.95 384.45 L586.2 384.08 L586.45 383.67 L586.7 383.25 L586.95 382.8 L587.2 382.33 L587.45 381.85 L587.7 381.37 L587.95 380.88 L588.2 380.39 L588.45 379.91 L588.7 379.43 L588.95 378.97 L589.2 378.52 L589.45 378.1 L589.7 377.78 L589.95 377.62 L590.2 377.45 L590.45 377.28 L590.7 377.11 L590.95 376.94 L591.2 376.77 L591.45 376.6 L591.7 376.43 L591.95 376.26 L592.2 376.09 L592.45 375.91 L592.7 375.74 L592.95 375.56 L593.2 375.39 L593.45 375.21 L593.7 375.03 L593.95 374.85 L594.2 374.67 L594.45 374.49 L594.7 374.31 L594.95 374.13 L595.2 373.95 L595.45 373.77 L595.7 373.58 L595.95 373.4 L596.2 373.21 L596.45 373.03 L596.7 372.84 L596.95 372.65 L597.2 372.46 L597.45 372.28 L597.7 372.09 L597.95 371.9 L598.2 371.7 L598.45 371.51 L598.7 371.32 L598.95 371.12 L599.2 370.93 L599.45 370.73 L599.7 370.54 L599.95 370.34 L600.2 370.14 L600.45 369.94 L600.7 369.74 L600.95 369.54 L601.2 369.34 L601.45 369.14 L601.7 368.94 L601.95 368.73 L602.2 368.53 L602.45 368.32 L602.7 368.11 L602.95 367.91 L603.2 367.7 L603.45 367.49 L603.7 367.28 L603.95 367.07 L604.2 366.86 L604.45 366.64 L604.7 366.43 L604.95 366.22 L605.2 366 L605.45 365.78 L605.7 365.57 L605.95 365.35 L606.2 365.13 L606.45 364.91 L606.7 364.69 L606.95 364.47 L607.2 364.24 L607.45 364.02 L607.7 363.8 L607.95 363.57 L608.2 363.34 L608.45 363.12 L608.7 362.89 L608.95 362.66 L609.2 362.43 L609.45 362.2 L609.7 361.96 L609.95 361.73 L610.2 361.5 L610.45 361.26 L610.7 361.03 L610.95 360.79 L611.2 360.55 L611.45 360.31 L611.7 360.07 L611.95 359.83 L612.2 359.59 L612.45 359.34 L612.7 359.1 L612.95 358.85 L613.2 358.61 L613.45 358.36 L613.7 358.11 L613.95 357.86 L614.2 357.61 L614.45 357.36 L614.7 357.11 L614.95 356.85 L615.2 356.6 L615.45 356.34 L615.7 356.09 L615.95 355.83 L616.2 355.57 L616.45 355.31 L616.7 355.05 L616.95 354.78 L617.2 354.52 L617.45 354.26 L617.7 353.99 L617.95 353.72 L618.2 353.46 L618.45 353.19 L618.7 352.92 L618.95 352.64 L619.2 352.37 L619.45 352.1 L619.7 351.82 L619.95 351.55 L620.2 351.27 L620.45 350.99 L620.7 350.71 L620.95 350.43 L621.2 350.15 L621.45 349.87 L621.7 349.58 L621.95 349.3 L622.2 349.01 L622.45 348.72 L622.7 348.43 L622.95 348.14 L623.2 347.85 L623.45 347.56 L623.7 347.27 L623.95 346.97 L624.2 346.67 L624.45 346.38 L624.7 346.08 L624.95 345.78 L625.2 345.48 L625.45 345.17 L625.7 344.87 L625.95 344.56 L626.2 344.26 L626.45 343.95 L626.7 343.64 L626.95 343.33 L627.2 343.02 L627.45 342.7 L627.7 342.39 L627.95 342.07 L628.2 341.76 L628.45 341.44 L628.7 341.12 L628.95 340.8 L629.2 340.48 L629.45 340.15 L629.7 339.83 L629.95 339.5 L630.2 339.17 L630.45 338.84 L630.7 338.51" fill="none" stroke="#e69c25" stroke-width="1.5" stroke-linejoin="round" />
<rect x="395.2" y="323.4" width="235.5" height="94" fill="none" stroke="#5e5e5e" stroke-width="1.3"/>
<line x1="435.9" y1="323.4" x2="435.9" y2="326.6" stroke="#5e5e5e" stroke-width="1.1" />
<line x1="435.9" y1="417.4" x2="435.9" y2="414.2" stroke="#5e5e5e" stroke-width="1.1" />
<line x1="463.6" y1="323.4" x2="463.6" y2="326.6" stroke="#5e5e5e" stroke-width="1.1" />
<line x1="463.6" y1="417.4" x2="463.6" y2="414.2" stroke="#5e5e5e" stroke-width="1.1" />
<line x1="512.75" y1="323.4" x2="512.75" y2="326.6" stroke="#5e5e5e" stroke-width="1.1" />
<line x1="512.75" y1="417.4" x2="512.75" y2="414.2" stroke="#5e5e5e" stroke-width="1.1" />
<line x1="561.9" y1="323.4" x2="561.9" y2="326.6" stroke="#5e5e5e" stroke-width="1.1" />
<line x1="561.9" y1="417.4" x2="561.9" y2="414.2" stroke="#5e5e5e" stroke-width="1.1" />
<line x1="589.6" y1="323.4" x2="589.6" y2="326.6" stroke="#5e5e5e" stroke-width="1.1" />
<line x1="589.6" y1="417.4" x2="589.6" y2="414.2" stroke="#5e5e5e" stroke-width="1.1" />
<line x1="395.2" y1="398.6" x2="398.4" y2="398.6" stroke="#5e5e5e" stroke-width="1.1" />
<line x1="630.7" y1="398.6" x2="627.5" y2="398.6" stroke="#5e5e5e" stroke-width="1.1" />
<line x1="395.2" y1="379.8" x2="398.4" y2="379.8" stroke="#5e5e5e" stroke-width="1.1" />
<line x1="630.7" y1="379.8" x2="627.5" y2="379.8" stroke="#5e5e5e" stroke-width="1.1" />
<line x1="395.2" y1="361" x2="398.4" y2="361" stroke="#5e5e5e" stroke-width="1.1" />
<line x1="630.7" y1="361" x2="627.5" y2="361" stroke="#5e5e5e" stroke-width="1.1" />
<line x1="395.2" y1="342.2" x2="398.4" y2="342.2" stroke="#5e5e5e" stroke-width="1.1" />
<line x1="630.7" y1="342.2" x2="627.5" y2="342.2" stroke="#5e5e5e" stroke-width="1.1" />
<rect x="418.3" y="422.3" width="45.3" height="94" fill="#dcdcdc"/>
<rect x="561.9" y="422.3" width="45.3" height="94" fill="#dcdcdc"/>
<path d="M395.2 485.09 L395.45 485.11 L395.7 485.13 L395.95 485.14 L396.2 485.16 L396.45 485.18 L396.7 485.2 L396.95 485.21 L397.2 485.23 L397.45 485.25 L397.7 485.27 L397.95 485.28 L398.2 485.3 L398.45 485.32 L398.7 485.33 L398.95 485.35 L399.2 485.37 L399.45 485.39 L399.7 485.4 L399.95 485.42 L400.2 485.44 L400.45 485.46 L400.7 485.47 L400.95 485.49 L401.2 485.51 L401.45 485.52 L401.7 485.54 L401.95 485.56 L402.2 485.58 L402.45 485.59 L402.7 485.61 L402.95 485.63 L403.2 485.65 L403.45 485.66 L403.7 485.68 L403.95 485.7 L404.2 485.71 L404.45 485.73 L404.7 485.75 L404.95 485.77 L405.2 485.78 L405.45 485.8 L405.7 485.82 L405.95 485.84 L406.2 485.85 L406.45 485.87 L406.7 485.89 L406.95 485.91 L407.2 485.92 L407.45 485.94 L407.7 485.96 L407.95 485.97 L408.2 485.99 L408.45 486.01 L408.7 486.03 L408.95 486.04 L409.2 486.06 L409.45 486.08 L409.7 486.1 L409.95 486.11 L410.2 486.13 L410.45 486.15 L410.7 486.16 L410.95 486.18 L411.2 486.2 L411.45 486.22 L411.7 486.23 L411.95 486.25 L412.2 486.27 L412.45 486.29 L412.7 486.3 L412.95 486.32 L413.2 486.34 L413.45 486.36 L413.7 486.37 L413.95 486.39 L414.2 486.41 L414.45 486.42 L414.7 486.44 L414.95 486.46 L415.2 486.48 L415.45 486.49 L415.7 486.51 L415.95 486.53 L416.2 486.55 L416.45 486.56 L416.7 486.58 L416.95 486.6 L417.2 486.61 L417.45 486.63 L417.7 486.65 L417.95 486.67 L418.2 486.68 L418.45 486.71 L418.7 486.8 L418.95 486.94 L419.2 487.13 L419.45 487.38 L419.7 487.69 L419.95 488.05 L420.2 488.46 L420.45 488.93 L420.7 489.44 L420.95 490.01 L421.2 490.62 L421.45 491.28 L421.7 491.98 L421.95 492.72 L422.2 493.49 L422.45 494.31 L422.7 495.15 L422.95 496.02 L423.2 496.92 L423.45 497.84 L423.7 498.77 L423.95 499.71 L424.2 500.65 L424.45 501.58 L424.7 502.49 L424.95 503.37 L425.2 504.21 L425.45 504.98 L425.7 505.66 L425.95 506.24 L426.2 506.69 L426.45 506.97 L426.7 507.09 L426.95 507.02 L427.2 506.77 L427.45 506.37 L427.7 505.82 L427.95 505.16 L428.2 504.4 L428.45 503.58 L428.7 502.71 L428.95 501.8 L429.2 500.88 L429.45 499.94 L429.7 499 L429.95 498.07 L430.2 497.15 L430.45 496.24 L430.7 495.36 L430.95 494.51 L431.2 493.69 L431.45 492.9 L431.7 492.15 L431.95 491.44 L432.2 490.78 L432.45 490.15 L432.7 489.58 L432.95 489.05 L433.2 488.57 L433.45 488.15 L433.7 487.77 L433.95 487.45 L434.2 487.19 L434.45 486.98 L434.7 486.83 L434.95 486.73 L435.2 486.69 L435.45 486.7 L435.7 486.78 L435.95 486.91 L436.2 487.09 L436.45 487.33 L436.7 487.63 L436.95 487.98 L437.2 488.38 L437.45 488.84 L437.7 489.35 L437.95 489.9 L438.2 490.5 L438.45 491.15 L438.7 491.84 L438.95 492.58 L439.2 493.35 L439.45 494.15 L439.7 494.99 L439.95 495.86 L440.2 496.75 L440.45 497.67 L440.7 498.6 L440.95 499.53 L441.2 500.47 L441.45 501.41 L441.7 502.32 L441.95 503.21 L442.2 504.06 L442.45 504.84 L442.7 505.55 L442.95 506.15 L443.2 506.62 L443.45 506.93 L443.7 507.08 L443.95 507.04 L444.2 506.83 L444.45 506.45 L444.7 505.93 L444.95 505.29 L445.2 504.55 L445.45 503.74 L445.7 502.87 L445.95 501.97 L446.2 501.05 L446.45 500.11 L446.7 499.17 L446.95 498.24 L447.2 497.31 L447.45 496.41 L447.7 495.52 L447.95 494.67 L448.2 493.84 L448.45 493.05 L448.7 492.29 L448.95 491.57 L449.2 490.9 L449.45 490.27 L449.7 489.68 L449.95 489.14 L450.2 488.66 L450.45 488.22 L450.7 487.84 L450.95 487.51 L451.2 487.23 L451.45 487.01 L451.7 486.85 L451.95 486.74 L452.2 486.69 L452.45 486.7 L452.7 486.76 L452.95 486.88 L453.2 487.05 L453.45 487.28 L453.7 487.57 L453.95 487.91 L454.2 488.31 L454.45 488.75 L454.7 489.25 L454.95 489.79 L455.2 490.39 L455.45 491.03 L455.7 491.71 L455.95 492.44 L456.2 493.2 L456.45 494 L456.7 494.84 L456.95 495.7 L457.2 496.59 L457.45 497.5 L457.7 498.42 L457.95 499.36 L458.2 500.3 L458.45 501.24 L458.7 502.16 L458.95 503.05 L459.2 503.9 L459.45 504.7 L459.7 505.42 L459.95 506.04 L460.2 506.54 L460.45 506.89 L460.7 507.07 L460.95 507.06 L461.2 506.88 L461.45 506.53 L461.7 506.03 L461.95 505.41 L462.2 504.69 L462.45 503.89 L462.7 503.04 L462.95 502.14 L463.2 501.22 L463.45 500.29 L463.7 499.51 L463.95 498.98 L464.2 498.45 L464.45 497.93 L464.7 497.4 L464.95 496.88 L465.2 496.35 L465.45 495.83 L465.7 495.31 L465.95 494.79 L466.2 494.27 L466.45 493.75 L466.7 493.23 L466.95 492.71 L467.2 492.2 L467.45 491.68 L467.7 491.17 L467.95 490.66 L468.2 490.15 L468.45 489.64 L468.7 489.13 L468.95 488.62 L469.2 488.11 L469.45 487.61 L469.7 487.11 L469.95 486.6 L470.2 486.1 L470.45 485.61 L470.7 485.11 L470.95 484.61 L471.2 484.12 L471.45 483.62 L471.7 483.13 L471.95 482.64 L472.2 482.16 L472.45 481.67 L472.7 481.18 L472.95 480.7 L473.2 480.22 L473.45 479.74 L473.7 479.26 L473.95 478.78 L474.2 478.31 L474.45 477.84 L474.7 477.37 L474.95 476.9 L475.2 476.43 L475.45 475.97 L475.7 475.5 L475.95 475.04 L476.2 474.58 L476.45 474.12 L476.7 473.67 L476.95 473.22 L477.2 472.76 L477.45 472.31 L477.7 471.87 L477.95 471.42 L478.2 470.98 L478.45 470.54 L478.7 470.1 L478.95 469.66 L479.2 469.23 L479.45 468.8 L479.7 468.37 L479.95 467.94 L480.2 467.52 L480.45 467.09 L480.7 466.67 L480.95 466.26 L481.2 465.84 L481.45 465.43 L481.7 465.02 L481.95 464.61 L482.2 464.2 L482.45 463.8 L482.7 463.4 L482.95 463 L483.2 462.6 L483.45 462.21 L483.7 461.82 L483.95 461.43 L484.2 461.05 L484.45 460.66 L484.7 460.28 L484.95 459.91 L485.2 459.53 L485.45 459.16 L485.7 458.79 L485.95 458.42 L486.2 458.06 L486.45 457.7 L486.7 457.34 L486.95 456.99 L487.2 456.63 L487.45 456.28 L487.7 455.94 L487.95 455.59 L488.2 455.25 L488.45 454.91 L488.7 454.58 L488.95 454.25 L489.2 453.92 L489.45 453.59 L489.7 453.27 L489.95 452.95 L490.2 452.63 L490.45 452.31 L490.7 452 L490.95 451.69 L491.2 451.39 L491.45 451.09 L491.7 450.79 L491.95 450.49 L492.2 450.2 L492.45 449.91 L492.7 449.62 L492.95 449.34 L493.2 449.06 L493.45 448.78 L493.7 448.51 L493.95 448.24 L494.2 447.97 L494.45 447.71 L494.7 447.45 L494.95 447.19 L495.2 446.94 L495.45 446.69 L495.7 446.44 L495.95 446.2 L496.2 445.96 L496.45 445.72 L496.7 445.48 L496.95 445.25 L497.2 445.03 L497.45 444.8 L497.7 444.58 L497.95 444.37 L498.2 444.15 L498.45 443.94 L498.7 443.73 L498.95 443.53 L499.2 443.33 L499.45 443.14 L499.7 442.94 L499.95 442.75 L500.2 442.57 L500.45 442.39 L500.7 442.21 L500.95 442.03 L501.2 441.86 L501.45 441.69 L501.7 441.53 L501.95 441.37 L502.2 441.21 L502.45 441.06 L502.7 440.91 L502.95 440.76 L503.2 440.62 L503.45 440.48 L503.7 440.34 L503.95 440.21 L504.2 440.08 L504.45 439.96 L504.7 439.83 L504.95 439.72 L505.2 439.6 L505.45 439.49 L505.7 439.39 L505.95 439.28 L506.2 439.18 L506.45 439.09 L506.7 439 L506.95 438.91 L507.2 438.82 L507.45 438.74 L507.7 438.67 L507.95 438.59 L508.2 438.52 L508.45 438.46 L508.7 438.39 L508.95 438.34 L509.2 438.28 L509.45 438.23 L509.7 438.18 L509.95 438.14 L510.2 438.1 L510.45 438.06 L510.7 438.03 L510.95 438 L511.2 437.98 L511.45 437.95 L511.7 437.94 L511.95 437.92 L512.2 437.91 L512.45 437.91 L512.7 437.9 L512.95 437.91 L513.2 437.91 L513.45 437.92 L513.7 437.93 L513.95 437.95 L514.2 437.97 L514.45 437.99 L514.7 438.02 L514.95 438.05 L515.2 438.08 L515.45 438.12 L515.7 438.16 L515.95 438.21 L516.2 438.26 L516.45 438.31 L516.7 438.37 L516.95 438.43 L517.2 438.5 L517.45 438.56 L517.7 438.64 L517.95 438.71 L518.2 438.79 L518.45 438.87 L518.7 438.96 L518.95 439.05 L519.2 439.15 L519.45 439.24 L519.7 439.34 L519.95 439.45 L520.2 439.56 L520.45 439.67 L520.7 439.79 L520.95 439.91 L521.2 440.03 L521.45 440.16 L521.7 440.29 L521.95 440.42 L522.2 440.56 L522.45 440.7 L522.7 440.85 L522.95 441 L523.2 441.15 L523.45 441.3 L523.7 441.46 L523.95 441.63 L524.2 441.79 L524.45 441.96 L524.7 442.14 L524.95 442.31 L525.2 442.49 L525.45 442.68 L525.7 442.87 L525.95 443.06 L526.2 443.25 L526.45 443.45 L526.7 443.65 L526.95 443.86 L527.2 444.07 L527.45 444.28 L527.7 444.49 L527.95 444.71 L528.2 444.94 L528.45 445.16 L528.7 445.39 L528.95 445.62 L529.2 445.86 L529.45 446.1 L529.7 446.34 L529.95 446.59 L530.2 446.84 L530.45 447.09 L530.7 447.35 L530.95 447.6 L531.2 447.87 L531.45 448.13 L531.7 448.4 L531.95 448.67 L532.2 448.95 L532.45 449.23 L532.7 449.51 L532.95 449.8 L533.2 450.08 L533.45 450.38 L533.7 450.67 L533.95 450.97 L534.2 451.27 L534.45 451.57 L534.7 451.88 L534.95 452.19 L535.2 452.5 L535.45 452.82 L535.7 453.14 L535.95 453.46 L536.2 453.79 L536.45 454.11 L536.7 454.44 L536.95 454.78 L537.2 455.12 L537.45 455.46 L537.7 455.8 L537.95 456.14 L538.2 456.49 L538.45 456.84 L538.7 457.2 L538.95 457.56 L539.2 457.92 L539.45 458.28 L539.7 458.64 L539.95 459.01 L540.2 459.38 L540.45 459.76 L540.7 460.13 L540.95 460.51 L541.2 460.89 L541.45 461.28 L541.7 461.66 L541.95 462.05 L542.2 462.45 L542.45 462.84 L542.7 463.24 L542.95 463.64 L543.2 464.04 L543.45 464.45 L543.7 464.85 L543.95 465.26 L544.2 465.67 L544.45 466.09 L544.7 466.51 L544.95 466.93 L545.2 467.35 L545.45 467.77 L545.7 468.2 L545.95 468.63 L546.2 469.06 L546.45 469.49 L546.7 469.93 L546.95 470.36 L547.2 470.8 L547.45 471.25 L547.7 471.69 L547.95 472.14 L548.2 472.58 L548.45 473.03 L548.7 473.49 L548.95 473.94 L549.2 474.4 L549.45 474.86 L549.7 475.32 L549.95 475.78 L550.2 476.24 L550.45 476.71 L550.7 477.18 L550.95 477.65 L551.2 478.12 L551.45 478.59 L551.7 479.07 L551.95 479.55 L552.2 480.03 L552.45 480.51 L552.7 480.99 L552.95 481.47 L553.2 481.96 L553.45 482.45 L553.7 482.94 L553.95 483.43 L554.2 483.92 L554.45 484.41 L554.7 484.91 L554.95 485.41 L555.2 485.9 L555.45 486.4 L555.7 486.91 L555.95 487.41 L556.2 487.91 L556.45 488.42 L556.7 488.92 L556.95 489.43 L557.2 489.94 L557.45 490.45 L557.7 490.96 L557.95 491.48 L558.2 491.99 L558.45 492.51 L558.7 493.02 L558.95 493.54 L559.2 494.06 L559.45 494.58 L559.7 495.1 L559.95 495.62 L560.2 496.14 L560.45 496.67 L560.7 497.19 L560.95 497.72 L561.2 498.24 L561.45 498.77 L561.7 499.3 L561.95 499.91 L562.2 500.85 L562.45 501.78 L562.7 502.68 L562.95 503.56 L563.2 504.38 L563.45 505.13 L563.7 505.8 L563.95 506.35 L564.2 506.76 L564.45 507.01 L564.7 507.09 L564.95 506.98 L565.2 506.7 L565.45 506.26 L565.7 505.68 L565.95 505 L566.2 504.23 L566.45 503.4 L566.7 502.52 L566.95 501.61 L567.2 500.68 L567.45 499.74 L567.7 498.8 L567.95 497.87 L568.2 496.95 L568.45 496.05 L568.7 495.18 L568.95 494.33 L569.2 493.52 L569.45 492.74 L569.7 492 L569.95 491.3 L570.2 490.64 L570.45 490.03 L570.7 489.46 L570.95 488.94 L571.2 488.48 L571.45 488.06 L571.7 487.7 L571.95 487.39 L572.2 487.14 L572.45 486.94 L572.7 486.8 L572.95 486.72 L573.2 486.69 L573.45 486.72 L573.7 486.8 L573.95 486.94 L574.2 487.14 L574.45 487.39 L574.7 487.7 L574.95 488.06 L575.2 488.48 L575.45 488.94 L575.7 489.46 L575.95 490.03 L576.2 490.64 L576.45 491.3 L576.7 492 L576.95 492.74 L577.2 493.52 L577.45 494.33 L577.7 495.18 L577.95 496.05 L578.2 496.95 L578.45 497.87 L578.7 498.8 L578.95 499.74 L579.2 500.68 L579.45 501.61 L579.7 502.52 L579.95 503.4 L580.2 504.23 L580.45 505 L580.7 505.68 L580.95 506.26 L581.2 506.7 L581.45 506.98 L581.7 507.09 L581.95 507.01 L582.2 506.76 L582.45 506.35 L582.7 505.8 L582.95 505.13 L583.2 504.38 L583.45 503.56 L583.7 502.68 L583.95 501.78 L584.2 500.85 L584.45 499.91 L584.7 498.97 L584.95 498.04 L585.2 497.12 L585.45 496.22 L585.7 495.34 L585.95 494.49 L586.2 493.67 L586.45 492.88 L586.7 492.13 L586.95 491.42 L587.2 490.76 L587.45 490.14 L587.7 489.56 L587.95 489.04 L588.2 488.56 L588.45 488.14 L588.7 487.76 L588.95 487.45 L589.2 487.18 L589.45 486.97 L589.7 486.82 L589.95 486.73 L590.2 486.69 L590.45 486.71 L590.7 486.78 L590.95 486.91 L591.2 487.1 L591.45 487.34 L591.7 487.64 L591.95 487.99 L592.2 488.4 L592.45 488.85 L592.7 489.36 L592.95 489.92 L593.2 490.52 L593.45 491.17 L593.7 491.87 L593.95 492.6 L594.2 493.37 L594.45 494.18 L594.7 495.02 L594.95 495.89 L595.2 496.78 L595.45 497.7 L595.7 498.63 L595.95 499.56 L596.2 500.5 L596.45 501.44 L596.7 502.35 L596.95 503.24 L597.2 504.08 L597.45 504.86 L597.7 505.57 L597.95 506.16 L598.2 506.63 L598.45 506.94 L598.7 507.08 L598.95 507.04 L599.2 506.82 L599.45 506.44 L599.7 505.91 L599.95 505.26 L600.2 504.52 L600.45 503.71 L600.7 502.85 L600.95 501.94 L601.2 501.02 L601.45 500.08 L601.7 499.14 L601.95 498.21 L602.2 497.29 L602.45 496.38 L602.7 495.5 L602.95 494.64 L603.2 493.81 L603.45 493.02 L603.7 492.27 L603.95 491.55 L604.2 490.88 L604.45 490.25 L604.7 489.66 L604.95 489.13 L605.2 488.64 L605.45 488.21 L605.7 487.83 L605.95 487.5 L606.2 487.23 L606.45 487.01 L606.7 486.85 L606.95 486.74 L607.2 486.69 L607.45 486.67 L607.7 486.66 L607.95 486.64 L608.2 486.62 L608.45 486.6 L608.7 486.59 L608.95 486.57 L609.2 486.55 L609.45 486.54 L609.7 486.52 L609.95 486.5 L610.2 486.48 L610.45 486.47 L610.7 486.45 L610.95 486.43 L611.2 486.41 L611.45 486.4 L611.7 486.38 L611.95 486.36 L612.2 486.34 L612.45 486.33 L612.7 486.31 L612.95 486.29 L613.2 486.28 L613.45 486.26 L613.7 486.24 L613.95 486.22 L614.2 486.21 L614.45 486.19 L614.7 486.17 L614.95 486.15 L615.2 486.14 L615.45 486.12 L615.7 486.1 L615.95 486.09 L616.2 486.07 L616.45 486.05 L616.7 486.03 L616.95 486.02 L617.2 486 L617.45 485.98 L617.7 485.96 L617.95 485.95 L618.2 485.93 L618.45 485.91 L618.7 485.89 L618.95 485.88 L619.2 485.86 L619.45 485.84 L619.7 485.83 L619.95 485.81 L620.2 485.79 L620.45 485.77 L620.7 485.76 L620.95 485.74 L621.2 485.72 L621.45 485.7 L621.7 485.69 L621.95 485.67 L622.2 485.65 L622.45 485.64 L622.7 485.62 L622.95 485.6 L623.2 485.58 L623.45 485.57 L623.7 485.55 L623.95 485.53 L624.2 485.51 L624.45 485.5 L624.7 485.48 L624.95 485.46 L625.2 485.45 L625.45 485.43 L625.7 485.41 L625.95 485.39 L626.2 485.38 L626.45 485.36 L626.7 485.34 L626.95 485.32 L627.2 485.31 L627.45 485.29 L627.7 485.27 L627.95 485.25 L628.2 485.24 L628.45 485.22 L628.7 485.2 L628.95 485.19 L629.2 485.17 L629.45 485.15 L629.7 485.13 L629.95 485.12 L630.2 485.1 L630.45 485.08 L630.7 485.06" fill="none" stroke="#e69c25" stroke-width="1.5" stroke-linejoin="round" />
<rect x="395.2" y="422.3" width="235.5" height="94" fill="none" stroke="#5e5e5e" stroke-width="1.3"/>
<line x1="418.3" y1="422.3" x2="418.3" y2="425.5" stroke="#5e5e5e" stroke-width="1.1" />
<line x1="418.3" y1="516.3" x2="418.3" y2="513.1" stroke="#5e5e5e" stroke-width="1.1" />
<line x1="463.6" y1="422.3" x2="463.6" y2="425.5" stroke="#5e5e5e" stroke-width="1.1" />
<line x1="463.6" y1="516.3" x2="463.6" y2="513.1" stroke="#5e5e5e" stroke-width="1.1" />
<line x1="512.75" y1="422.3" x2="512.75" y2="425.5" stroke="#5e5e5e" stroke-width="1.1" />
<line x1="512.75" y1="516.3" x2="512.75" y2="513.1" stroke="#5e5e5e" stroke-width="1.1" />
<line x1="561.9" y1="422.3" x2="561.9" y2="425.5" stroke="#5e5e5e" stroke-width="1.1" />
<line x1="561.9" y1="516.3" x2="561.9" y2="513.1" stroke="#5e5e5e" stroke-width="1.1" />
<line x1="607.2" y1="422.3" x2="607.2" y2="425.5" stroke="#5e5e5e" stroke-width="1.1" />
<line x1="607.2" y1="516.3" x2="607.2" y2="513.1" stroke="#5e5e5e" stroke-width="1.1" />
<line x1="395.2" y1="497.5" x2="398.4" y2="497.5" stroke="#5e5e5e" stroke-width="1.1" />
<line x1="630.7" y1="497.5" x2="627.5" y2="497.5" stroke="#5e5e5e" stroke-width="1.1" />
<line x1="395.2" y1="478.7" x2="398.4" y2="478.7" stroke="#5e5e5e" stroke-width="1.1" />
<line x1="630.7" y1="478.7" x2="627.5" y2="478.7" stroke="#5e5e5e" stroke-width="1.1" />
<line x1="395.2" y1="459.9" x2="398.4" y2="459.9" stroke="#5e5e5e" stroke-width="1.1" />
<line x1="630.7" y1="459.9" x2="627.5" y2="459.9" stroke="#5e5e5e" stroke-width="1.1" />
<line x1="395.2" y1="441.1" x2="398.4" y2="441.1" stroke="#5e5e5e" stroke-width="1.1" />
<line x1="630.7" y1="441.1" x2="627.5" y2="441.1" stroke="#5e5e5e" stroke-width="1.1" />
<g font-family="Liberation Sans, sans-serif" fill="#111" stroke="#111" stroke-width="0.1">
<text x="402" y="47" font-size="14.5" >A</text>
<text x="388.4" y="33.9" font-size="10.2" text-anchor="middle" >1</text>
<text x="388.4" y="124.3" font-size="10.2" text-anchor="middle" >0</text>
<rect x="626" y="37.8" width="42" height="19.2" fill="#fff" stroke="none"/>
<text x="618.3" y="49" font-size="12" textLength="5.6" lengthAdjust="spacingAndGlyphs" >n</text>
<text x="624.6" y="51.7" font-size="8.8" textLength="9.6" lengthAdjust="spacingAndGlyphs" >eff</text>
<text x="637.6" y="49" font-size="11" textLength="7.4" lengthAdjust="spacingAndGlyphs" >=</text>
<text x="646.4" y="49" font-size="11" textLength="22.4" lengthAdjust="spacingAndGlyphs" >1.07</text>
<text x="402" y="145" font-size="14.5" >B</text>
<text x="388.4" y="137.2" font-size="10.2" text-anchor="middle" >1</text>
<text x="388.4" y="222.8" font-size="10.2" text-anchor="middle" >0</text>
<rect x="626" y="136.2" width="42" height="19.2" fill="#fff" stroke="none"/>
<text x="618.3" y="147.4" font-size="12" textLength="5.6" lengthAdjust="spacingAndGlyphs" >n</text>
<text x="624.6" y="150.1" font-size="8.8" textLength="9.6" lengthAdjust="spacingAndGlyphs" >eff</text>
<text x="637.6" y="147.4" font-size="11" textLength="7.4" lengthAdjust="spacingAndGlyphs" >=</text>
<text x="646.4" y="147.4" font-size="11" textLength="22.4" lengthAdjust="spacingAndGlyphs" >1.07</text>
<text x="402" y="243.6" font-size="14.5" >C</text>
<text x="388.4" y="232.2" font-size="10.2" text-anchor="middle" >1</text>
<text x="388.4" y="320.2" font-size="10.2" text-anchor="middle" >0</text>
<rect x="626" y="235.2" width="42" height="19.2" fill="#fff" stroke="none"/>
<text x="618.3" y="246.4" font-size="12" textLength="5.6" lengthAdjust="spacingAndGlyphs" >n</text>
<text x="624.6" y="249.1" font-size="8.8" textLength="9.6" lengthAdjust="spacingAndGlyphs" >eff</text>
<text x="637.6" y="246.4" font-size="11" textLength="7.4" lengthAdjust="spacingAndGlyphs" >=</text>
<text x="646.4" y="246.4" font-size="11" textLength="22.4" lengthAdjust="spacingAndGlyphs" >0.99</text>
<text x="402" y="341.6" font-size="14.5" >D</text>
<text x="388.4" y="330.6" font-size="10.2" text-anchor="middle" >1</text>
<text x="388.4" y="419" font-size="10.2" text-anchor="middle" >0</text>
<rect x="626" y="393.1" width="42" height="19.2" fill="#fff" stroke="none"/>
<text x="618.3" y="404.3" font-size="12" textLength="5.6" lengthAdjust="spacingAndGlyphs" >n</text>
<text x="624.6" y="407" font-size="8.8" textLength="9.6" lengthAdjust="spacingAndGlyphs" >eff</text>
<text x="637.6" y="404.3" font-size="11" textLength="7.4" lengthAdjust="spacingAndGlyphs" >=</text>
<text x="646.4" y="404.3" font-size="11" textLength="22.4" lengthAdjust="spacingAndGlyphs" >0.91</text>
<text x="402" y="440.8" font-size="14.5" >E</text>
<text x="388.4" y="427.6" font-size="10.2" text-anchor="middle" >1</text>
<text x="388.4" y="518.3" font-size="10.2" text-anchor="middle" >0</text>
<rect x="626" y="431.2" width="42" height="19.2" fill="#fff" stroke="none"/>
<text x="618.3" y="442.4" font-size="12" textLength="5.6" lengthAdjust="spacingAndGlyphs" >n</text>
<text x="624.6" y="445.1" font-size="8.8" textLength="9.6" lengthAdjust="spacingAndGlyphs" >eff</text>
<text x="637.6" y="442.4" font-size="11" textLength="7.4" lengthAdjust="spacingAndGlyphs" >=</text>
<text x="646.4" y="442.4" font-size="11" textLength="22.4" lengthAdjust="spacingAndGlyphs" >0.99</text>
<line x1="478.1" y1="48.9" x2="487.8" y2="48.9" stroke="#e69c25" stroke-width="1.6" />
<text x="489.4" y="52.2" font-size="10.5" textLength="38.3" lengthAdjust="spacingAndGlyphs" ><tspan font-style="italic">S</tspan>-wave</text>
<text x="417.3" y="12" font-size="9" text-anchor="middle" >1</text>
<text x="417.3" y="22.3" font-size="9.6" text-anchor="middle" textLength="15.6" lengthAdjust="spacingAndGlyphs" >fast</text>
<text x="448.2" y="12" font-size="9" text-anchor="middle" >2</text>
<text x="448.2" y="22.3" font-size="9.6" text-anchor="middle" textLength="18.6" lengthAdjust="spacingAndGlyphs" >slow</text>
<text x="512.6" y="12" font-size="9" text-anchor="middle" >3</text>
<text x="512.6" y="22.3" font-size="9.6" text-anchor="middle" textLength="15.6" lengthAdjust="spacingAndGlyphs" >fast</text>
<text x="573.3" y="12" font-size="9" text-anchor="middle" >4</text>
<text x="573.3" y="22.3" font-size="9.6" text-anchor="middle" textLength="18.6" lengthAdjust="spacingAndGlyphs" >slow</text>
<text x="612.2" y="12" font-size="9" text-anchor="middle" >5</text>
<text x="612.2" y="22.3" font-size="9.6" text-anchor="middle" textLength="15.6" lengthAdjust="spacingAndGlyphs" >fast</text>
<text x="418.4" y="527.5" font-size="10" text-anchor="middle" textLength="41.5" lengthAdjust="spacingAndGlyphs" >-(c/2+d)</text>
<text x="463" y="527.5" font-size="10" text-anchor="middle" textLength="18.2" lengthAdjust="spacingAndGlyphs" >-c/2</text>
<text x="562.3" y="527.5" font-size="10" text-anchor="middle" textLength="14.8" lengthAdjust="spacingAndGlyphs" >c/2</text>
<text x="607.9" y="527.5" font-size="10" text-anchor="middle" textLength="29.8" lengthAdjust="spacingAndGlyphs" >c/2+d</text>
<text x="512.5" y="527.4" font-size="9" text-anchor="middle" >0</text>
<text x="515" y="549.2" font-size="11.5" text-anchor="middle" textLength="124.3" lengthAdjust="spacingAndGlyphs" >Transverse coordinate</text>
<text transform="translate(364.0,372.5) rotate(-90)" font-size="11.5" textLength="172.8" lengthAdjust="spacingAndGlyphs">Displacement field |u| [arb. u.]</text>
</g></svg></body></html>
